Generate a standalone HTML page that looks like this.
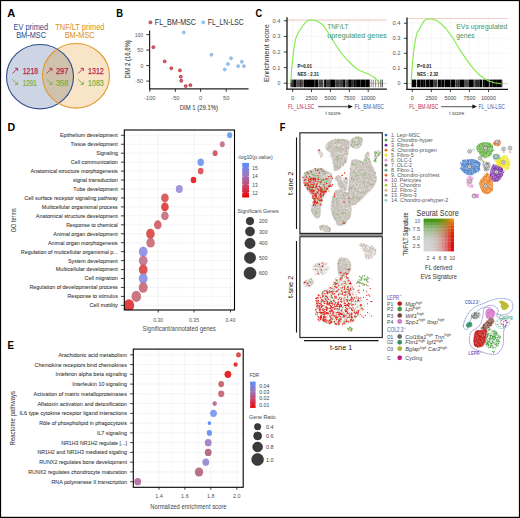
<!DOCTYPE html>
<html><head><meta charset="utf-8"><style>
html,body{margin:0;padding:0;background:#fff;}
body{width:520px;height:518px;overflow:hidden;}
svg{display:block;font-family:"Liberation Sans", sans-serif;}
</style></head><body>
<svg width="520" height="518" viewBox="0 0 520 518">
<rect x="0" y="0" width="520" height="518" fill="#fff"/>
<text x="7.20" y="17.00" font-size="10.6" fill="#000" textLength="8.00" lengthAdjust="spacingAndGlyphs" font-weight="bold">A</text>
<text x="116.20" y="16.60" font-size="10.6" fill="#000" textLength="6.80" lengthAdjust="spacingAndGlyphs" font-weight="bold">B</text>
<text x="255.40" y="16.80" font-size="10.6" fill="#000" textLength="6.60" lengthAdjust="spacingAndGlyphs" font-weight="bold">C</text>
<text x="7.50" y="131.20" font-size="10.6" fill="#000" textLength="7.70" lengthAdjust="spacingAndGlyphs" font-weight="bold">D</text>
<text x="7.40" y="348.80" font-size="10.6" fill="#000" textLength="6.50" lengthAdjust="spacingAndGlyphs" font-weight="bold">E</text>
<text x="279.80" y="131.20" font-size="10.6" fill="#000" textLength="5.70" lengthAdjust="spacingAndGlyphs" font-weight="bold">F</text>
<text x="13.60" y="29.60" font-size="8.2" fill="#34528f" textLength="34.40" lengthAdjust="spacingAndGlyphs" stroke="#34528f" stroke-width="0.05">EV primed</text>
<text x="16.20" y="38.40" font-size="8.2" fill="#34528f" textLength="29.80" lengthAdjust="spacingAndGlyphs" stroke="#34528f" stroke-width="0.05">BM-MSC</text>
<text x="55.30" y="29.60" font-size="8.2" fill="#de9226" textLength="49.20" lengthAdjust="spacingAndGlyphs" stroke="#de9226" stroke-width="0.05">TNF/LT primed</text>
<text x="64.70" y="38.40" font-size="8.2" fill="#de9226" textLength="30.00" lengthAdjust="spacingAndGlyphs" stroke="#de9226" stroke-width="0.05">BM-MSC</text>
<ellipse cx="40.0" cy="76.65" rx="33.5" ry="32.2" fill="#cdd5e4"/>
<ellipse cx="76.0" cy="75.85" rx="33.5" ry="32.3" fill="#f8e5c7"/>
<clipPath id="cl"><ellipse cx="40.0" cy="76.65" rx="33.5" ry="32.2"/></clipPath>
<ellipse cx="76.0" cy="75.85" rx="33.5" ry="32.3" fill="#cfc1ab" clip-path="url(#cl)"/>
<ellipse cx="40.0" cy="76.65" rx="33.5" ry="32.2" fill="none" stroke="#2f4c8c" stroke-width="1.1"/>
<ellipse cx="76.0" cy="75.85" rx="33.5" ry="32.3" fill="none" stroke="#e0982c" stroke-width="1.1"/>
<path d="M12.30,73.60 L17.60,68.30 M14.90,68.30 L17.60,68.30 L17.60,71.00" fill="none" stroke="#b8294f" stroke-width="0.9"/>
<path d="M12.30,79.30 L17.60,84.40 M14.90,84.40 L17.60,84.40 L17.60,81.80" fill="none" stroke="#74b24a" stroke-width="0.9"/>
<text x="22.70" y="74.10" font-size="8.2" fill="#b8294f" textLength="15.40" lengthAdjust="spacingAndGlyphs" stroke="#b8294f" stroke-width="0.25">1218</text>
<text x="22.70" y="85.50" font-size="8.2" fill="#74b24a" textLength="14.20" lengthAdjust="spacingAndGlyphs" stroke="#74b24a" stroke-width="0.2">1291</text>
<path d="M46.60,73.60 L51.90,68.30 M49.20,68.30 L51.90,68.30 L51.90,71.00" fill="none" stroke="#b8294f" stroke-width="0.9"/>
<path d="M46.60,79.30 L51.90,84.40 M49.20,84.40 L51.90,84.40 L51.90,81.80" fill="none" stroke="#74b24a" stroke-width="0.9"/>
<text x="55.90" y="74.10" font-size="8.2" fill="#b8294f" textLength="12.60" lengthAdjust="spacingAndGlyphs" stroke="#b8294f" stroke-width="0.25">297</text>
<text x="55.90" y="85.50" font-size="8.2" fill="#74b24a" textLength="12.60" lengthAdjust="spacingAndGlyphs" stroke="#74b24a" stroke-width="0.2">358</text>
<path d="M78.00,73.60 L83.30,68.30 M80.60,68.30 L83.30,68.30 L83.30,71.00" fill="none" stroke="#b8294f" stroke-width="0.9"/>
<path d="M78.00,79.30 L83.30,84.40 M80.60,84.40 L83.30,84.40 L83.30,81.80" fill="none" stroke="#74b24a" stroke-width="0.9"/>
<text x="88.00" y="74.10" font-size="8.2" fill="#b8294f" textLength="15.80" lengthAdjust="spacingAndGlyphs" stroke="#b8294f" stroke-width="0.25">1312</text>
<text x="88.00" y="85.50" font-size="8.2" fill="#74b24a" textLength="15.80" lengthAdjust="spacingAndGlyphs" stroke="#74b24a" stroke-width="0.2">1083</text>
<circle cx="150.40" cy="22.40" r="1.45" fill="#d46a74" stroke="#b8303f" stroke-width="0.9"/>
<text x="154.80" y="25.00" font-size="8.2" fill="#333" textLength="41.20" lengthAdjust="spacingAndGlyphs">FL_BM-MSC</text>
<circle cx="203.20" cy="22.40" r="1.45" fill="#a8ccee" stroke="#7fb2e2" stroke-width="0.9"/>
<text x="207.80" y="25.00" font-size="8.2" fill="#333" textLength="35.80" lengthAdjust="spacingAndGlyphs">FL_LN-LSC</text>
<line x1="149.60" y1="30.50" x2="149.60" y2="89.40" stroke="#222" stroke-width="1.2"/>
<line x1="149.00" y1="88.90" x2="248.50" y2="88.90" stroke="#222" stroke-width="1.2"/>
<line x1="146.30" y1="34.60" x2="149.60" y2="34.60" stroke="#222" stroke-width="0.9"/>
<text x="143.20" y="36.60" font-size="5.8" fill="#555" textLength="8.50" lengthAdjust="spacingAndGlyphs" text-anchor="end">100</text>
<line x1="146.30" y1="50.10" x2="149.60" y2="50.10" stroke="#222" stroke-width="0.9"/>
<text x="143.20" y="52.10" font-size="5.8" fill="#555" textLength="6.00" lengthAdjust="spacingAndGlyphs" text-anchor="end">50</text>
<line x1="146.30" y1="65.60" x2="149.60" y2="65.60" stroke="#222" stroke-width="0.9"/>
<text x="143.20" y="67.60" font-size="5.8" fill="#555" textLength="2.80" lengthAdjust="spacingAndGlyphs" text-anchor="end">0</text>
<line x1="146.30" y1="81.10" x2="149.60" y2="81.10" stroke="#222" stroke-width="0.9"/>
<text x="143.20" y="83.10" font-size="5.8" fill="#555" textLength="8.00" lengthAdjust="spacingAndGlyphs" text-anchor="end">-50</text>
<line x1="149.80" y1="88.90" x2="149.80" y2="91.80" stroke="#222" stroke-width="0.9"/>
<text x="149.80" y="99.80" font-size="5.6" fill="#555" text-anchor="middle">-100</text>
<line x1="175.40" y1="88.90" x2="175.40" y2="91.80" stroke="#222" stroke-width="0.9"/>
<text x="175.40" y="99.80" font-size="5.6" fill="#555" text-anchor="middle">-50</text>
<line x1="200.60" y1="88.90" x2="200.60" y2="91.80" stroke="#222" stroke-width="0.9"/>
<text x="200.60" y="99.80" font-size="5.6" fill="#555" text-anchor="middle">0</text>
<line x1="226.20" y1="88.90" x2="226.20" y2="91.80" stroke="#222" stroke-width="0.9"/>
<text x="226.20" y="99.80" font-size="5.6" fill="#555" text-anchor="middle">50</text>
<text x="179.80" y="110.40" font-size="7.6" fill="#4a4a4a" textLength="38.20" lengthAdjust="spacingAndGlyphs" stroke="#4a4a4a" stroke-width="0.12">DIM 1 (29.1%)</text>
<text transform="translate(130.11,59.40) rotate(-90)" x="0" y="0" font-size="7.8" fill="#3a3a3a" text-anchor="middle" textLength="38.40" lengthAdjust="spacingAndGlyphs" stroke="#3a3a3a" stroke-width="0.12">DIM 2 (16,6%)</text>
<circle cx="153.40" cy="47.20" r="1.45" fill="#d46a74" stroke="#b8303f" stroke-width="0.9"/>
<circle cx="164.70" cy="61.40" r="1.45" fill="#d46a74" stroke="#b8303f" stroke-width="0.9"/>
<circle cx="171.30" cy="68.30" r="1.45" fill="#d46a74" stroke="#b8303f" stroke-width="0.9"/>
<circle cx="179.90" cy="70.40" r="1.45" fill="#d46a74" stroke="#b8303f" stroke-width="0.9"/>
<circle cx="180.80" cy="76.70" r="1.45" fill="#d46a74" stroke="#b8303f" stroke-width="0.9"/>
<circle cx="181.30" cy="80.80" r="1.45" fill="#d46a74" stroke="#b8303f" stroke-width="0.9"/>
<circle cx="185.70" cy="86.10" r="1.45" fill="#d46a74" stroke="#b8303f" stroke-width="0.9"/>
<circle cx="190.40" cy="85.20" r="1.45" fill="#d46a74" stroke="#b8303f" stroke-width="0.9"/>
<circle cx="183.80" cy="32.40" r="1.45" fill="#a8ccee" stroke="#7fb2e2" stroke-width="0.9"/>
<circle cx="211.40" cy="54.80" r="1.45" fill="#a8ccee" stroke="#7fb2e2" stroke-width="0.9"/>
<circle cx="231.00" cy="58.30" r="1.45" fill="#a8ccee" stroke="#7fb2e2" stroke-width="0.9"/>
<circle cx="227.90" cy="64.00" r="1.45" fill="#a8ccee" stroke="#7fb2e2" stroke-width="0.9"/>
<circle cx="224.80" cy="69.50" r="1.45" fill="#a8ccee" stroke="#7fb2e2" stroke-width="0.9"/>
<circle cx="241.80" cy="61.70" r="1.45" fill="#a8ccee" stroke="#7fb2e2" stroke-width="0.9"/>
<circle cx="238.10" cy="66.20" r="1.45" fill="#a8ccee" stroke="#7fb2e2" stroke-width="0.9"/>
<circle cx="243.90" cy="66.20" r="1.45" fill="#a8ccee" stroke="#7fb2e2" stroke-width="0.9"/>
<line x1="287.00" y1="83.20" x2="386.90" y2="83.20" stroke="#ececec" stroke-width="0.5"/>
<line x1="287.00" y1="67.60" x2="386.90" y2="67.60" stroke="#ececec" stroke-width="0.5"/>
<line x1="287.00" y1="52.00" x2="386.90" y2="52.00" stroke="#ececec" stroke-width="0.5"/>
<line x1="287.00" y1="36.40" x2="386.90" y2="36.40" stroke="#ececec" stroke-width="0.5"/>
<line x1="287.00" y1="20.80" x2="386.90" y2="20.80" stroke="#ececec" stroke-width="0.5"/>
<line x1="292.60" y1="17.30" x2="292.60" y2="89.20" stroke="#ececec" stroke-width="0.5"/>
<line x1="302.05" y1="17.30" x2="302.05" y2="89.20" stroke="#f5f5f5" stroke-width="0.4"/>
<line x1="311.50" y1="17.30" x2="311.50" y2="89.20" stroke="#ececec" stroke-width="0.5"/>
<line x1="320.95" y1="17.30" x2="320.95" y2="89.20" stroke="#f5f5f5" stroke-width="0.4"/>
<line x1="330.40" y1="17.30" x2="330.40" y2="89.20" stroke="#ececec" stroke-width="0.5"/>
<line x1="339.85" y1="17.30" x2="339.85" y2="89.20" stroke="#f5f5f5" stroke-width="0.4"/>
<line x1="349.30" y1="17.30" x2="349.30" y2="89.20" stroke="#ececec" stroke-width="0.5"/>
<line x1="358.75" y1="17.30" x2="358.75" y2="89.20" stroke="#f5f5f5" stroke-width="0.4"/>
<line x1="368.20" y1="17.30" x2="368.20" y2="89.20" stroke="#ececec" stroke-width="0.5"/>
<line x1="377.65" y1="17.30" x2="377.65" y2="89.20" stroke="#f5f5f5" stroke-width="0.4"/>
<line x1="287.00" y1="20.00" x2="386.90" y2="20.00" stroke="#f0b4b4" stroke-width="0.7"/>
<line x1="287.00" y1="83.50" x2="386.90" y2="83.50" stroke="#d8a0a0" stroke-width="0.5"/>
<rect x="290.40" y="79.6" width="2.81" height="7.6" fill="#000" fill-opacity="0.76"/>
<rect x="293.21" y="79.6" width="3.03" height="7.6" fill="#000" fill-opacity="1.00"/>
<rect x="296.24" y="79.6" width="3.05" height="7.6" fill="#000" fill-opacity="0.67"/>
<rect x="299.29" y="79.6" width="2.21" height="7.6" fill="#000" fill-opacity="0.81"/>
<rect x="301.50" y="79.6" width="1.17" height="7.6" fill="#000" fill-opacity="1.00"/>
<rect x="303.46" y="79.6" width="3.46" height="7.6" fill="#000" fill-opacity="1.00"/>
<rect x="306.92" y="79.6" width="3.11" height="7.6" fill="#000" fill-opacity="1.00"/>
<rect x="310.03" y="79.6" width="1.97" height="7.6" fill="#000" fill-opacity="1.00"/>
<rect x="312.00" y="79.6" width="2.76" height="7.6" fill="#000" fill-opacity="1.00"/>
<rect x="315.09" y="79.6" width="3.00" height="7.6" fill="#000" fill-opacity="1.00"/>
<rect x="318.41" y="79.6" width="4.99" height="7.6" fill="#000" fill-opacity="0.72"/>
<rect x="324.15" y="79.6" width="1.92" height="7.6" fill="#000" fill-opacity="1.00"/>
<rect x="326.07" y="79.6" width="4.07" height="7.6" fill="#000" fill-opacity="0.74"/>
<rect x="330.13" y="79.6" width="4.83" height="7.6" fill="#000" fill-opacity="1.00"/>
<rect x="335.17" y="79.6" width="4.64" height="7.6" fill="#000" fill-opacity="0.74"/>
<rect x="339.81" y="79.6" width="1.29" height="7.6" fill="#000" fill-opacity="0.71"/>
<rect x="341.10" y="79.6" width="1.35" height="7.6" fill="#000" fill-opacity="0.82"/>
<rect x="342.45" y="79.6" width="1.47" height="7.6" fill="#000" fill-opacity="1.00"/>
<rect x="343.92" y="79.6" width="1.24" height="7.6" fill="#000" fill-opacity="1.00"/>
<rect x="345.40" y="79.6" width="2.79" height="7.6" fill="#000" fill-opacity="0.68"/>
<rect x="348.19" y="79.6" width="3.57" height="7.6" fill="#000" fill-opacity="1.00"/>
<rect x="351.77" y="79.6" width="1.85" height="7.6" fill="#000" fill-opacity="0.83"/>
<rect x="353.62" y="79.6" width="2.22" height="7.6" fill="#000" fill-opacity="1.00"/>
<rect x="356.09" y="79.6" width="4.42" height="7.6" fill="#000" fill-opacity="1.00"/>
<rect x="360.51" y="79.6" width="4.96" height="7.6" fill="#000" fill-opacity="1.00"/>
<rect x="365.46" y="79.6" width="4.09" height="7.6" fill="#000" fill-opacity="1.00"/>
<rect x="369.56" y="79.6" width="0.44" height="7.6" fill="#000" fill-opacity="0.83"/>
<rect x="370.81" y="79.6" width="0.52" height="7.6" fill="#000" fill-opacity="0.75"/>
<rect x="372.81" y="79.6" width="0.63" height="7.6" fill="#000" fill-opacity="0.79"/>
<rect x="375.39" y="79.6" width="0.69" height="7.6" fill="#000" fill-opacity="0.67"/>
<rect x="377.90" y="79.6" width="0.48" height="7.6" fill="#000" fill-opacity="0.93"/>
<rect x="380.26" y="79.6" width="0.52" height="7.6" fill="#000" fill-opacity="0.90"/>
<rect x="381.73" y="79.6" width="0.87" height="7.6" fill="#000" fill-opacity="0.98"/>
<path d="M290.8,83.0 L291.5,70.0 L292.3,63.1 L293.7,49.6 L295.6,39.0 L298.5,32.3 L302.3,26.5 L306.2,21.7 L309.0,20.0 L313.8,20.0 L318.7,21.7 L323.5,25.6 L329.2,34.2 L335.0,43.8 L340.8,52.5 L346.5,59.2 L352.3,65.0 L358.1,69.8 L363.8,72.3 L369.6,74.6 L374.4,77.5 L378.3,81.3 L380.2,83.3" fill="none" stroke="#80ec44" stroke-width="1.1" stroke-linejoin="round"/>
<line x1="287.00" y1="17.30" x2="287.00" y2="89.70" stroke="#111" stroke-width="1.25"/>
<line x1="286.40" y1="89.20" x2="386.90" y2="89.20" stroke="#111" stroke-width="1.25"/>
<line x1="283.80" y1="83.20" x2="287.00" y2="83.20" stroke="#111" stroke-width="0.8"/>
<text x="280.40" y="85.20" font-size="5.8" fill="#555" textLength="2.90" lengthAdjust="spacingAndGlyphs" text-anchor="end">0</text>
<line x1="283.80" y1="67.60" x2="287.00" y2="67.60" stroke="#111" stroke-width="0.8"/>
<text x="280.40" y="69.60" font-size="5.8" fill="#555" textLength="8.00" lengthAdjust="spacingAndGlyphs" text-anchor="end">0.1</text>
<line x1="283.80" y1="52.00" x2="287.00" y2="52.00" stroke="#111" stroke-width="0.8"/>
<text x="280.40" y="54.00" font-size="5.8" fill="#555" textLength="8.00" lengthAdjust="spacingAndGlyphs" text-anchor="end">0.2</text>
<line x1="283.80" y1="36.40" x2="287.00" y2="36.40" stroke="#111" stroke-width="0.8"/>
<text x="280.40" y="38.40" font-size="5.8" fill="#555" textLength="8.00" lengthAdjust="spacingAndGlyphs" text-anchor="end">0.3</text>
<line x1="283.80" y1="20.80" x2="287.00" y2="20.80" stroke="#111" stroke-width="0.8"/>
<text x="280.40" y="22.80" font-size="5.8" fill="#555" textLength="8.00" lengthAdjust="spacingAndGlyphs" text-anchor="end">0.4</text>
<line x1="292.60" y1="89.20" x2="292.60" y2="92.00" stroke="#111" stroke-width="0.8"/>
<text x="292.60" y="100.20" font-size="5.6" fill="#444" textLength="2.95" lengthAdjust="spacingAndGlyphs" text-anchor="middle">0</text>
<line x1="311.50" y1="89.20" x2="311.50" y2="92.00" stroke="#111" stroke-width="0.8"/>
<text x="311.50" y="100.20" font-size="5.6" fill="#444" textLength="11.80" lengthAdjust="spacingAndGlyphs" text-anchor="middle">2500</text>
<line x1="330.40" y1="89.20" x2="330.40" y2="92.00" stroke="#111" stroke-width="0.8"/>
<text x="330.40" y="100.20" font-size="5.6" fill="#444" textLength="11.80" lengthAdjust="spacingAndGlyphs" text-anchor="middle">5000</text>
<line x1="349.30" y1="89.20" x2="349.30" y2="92.00" stroke="#111" stroke-width="0.8"/>
<text x="349.30" y="100.20" font-size="5.6" fill="#444" textLength="11.80" lengthAdjust="spacingAndGlyphs" text-anchor="middle">7500</text>
<line x1="368.20" y1="89.20" x2="368.20" y2="92.00" stroke="#111" stroke-width="0.8"/>
<text x="368.20" y="100.20" font-size="5.6" fill="#444" textLength="14.75" lengthAdjust="spacingAndGlyphs" text-anchor="middle">10000</text>
<text x="327.30" y="28.80" font-size="7.7" fill="#459c78" textLength="21.20" lengthAdjust="spacingAndGlyphs" stroke="#459c78" stroke-width="0.06">TNF/LT</text>
<text x="327.30" y="38.40" font-size="7.7" fill="#459c78" textLength="59.50" lengthAdjust="spacingAndGlyphs" stroke="#459c78" stroke-width="0.06">upregulated genes</text>
<text x="297.60" y="67.90" font-size="5.2" fill="#1a1a1a" textLength="14.40" lengthAdjust="spacingAndGlyphs" font-weight="bold">P=0.01</text>
<text x="297.60" y="76.30" font-size="5.2" fill="#1a1a1a" textLength="21.20" lengthAdjust="spacingAndGlyphs" font-weight="bold">NES : 2.31</text>
<text x="288.00" y="108.80" font-size="6.3" fill="#c0304a" textLength="26.50" lengthAdjust="spacingAndGlyphs">FL_LN-LSC</text>
<text x="354.60" y="108.80" font-size="6.3" fill="#3c5ea8" textLength="29.40" lengthAdjust="spacingAndGlyphs">FL_BM-MSC</text>
<line x1="318.00" y1="106.60" x2="349.80" y2="106.60" stroke="#777" stroke-width="1.4"/>
<path d="M352.80,106.6 L348.30,104.4 L348.30,108.8 Z" fill="#111"/>
<text x="325.50" y="114.60" font-size="6.2" fill="#444" textLength="15.00" lengthAdjust="spacingAndGlyphs">t score</text>
<text transform="translate(268.81,53.00) rotate(-90)" x="0" y="0" font-size="7.8" fill="#333" text-anchor="middle" textLength="58.00" lengthAdjust="spacingAndGlyphs">Enrichment score</text>
<line x1="407.00" y1="83.40" x2="508.00" y2="83.40" stroke="#ececec" stroke-width="0.5"/>
<line x1="407.00" y1="68.35" x2="508.00" y2="68.35" stroke="#ececec" stroke-width="0.5"/>
<line x1="407.00" y1="53.30" x2="508.00" y2="53.30" stroke="#ececec" stroke-width="0.5"/>
<line x1="407.00" y1="38.25" x2="508.00" y2="38.25" stroke="#ececec" stroke-width="0.5"/>
<line x1="407.00" y1="23.20" x2="508.00" y2="23.20" stroke="#ececec" stroke-width="0.5"/>
<line x1="412.30" y1="17.40" x2="412.30" y2="89.30" stroke="#ececec" stroke-width="0.5"/>
<line x1="421.82" y1="17.40" x2="421.82" y2="89.30" stroke="#f5f5f5" stroke-width="0.4"/>
<line x1="431.35" y1="17.40" x2="431.35" y2="89.30" stroke="#ececec" stroke-width="0.5"/>
<line x1="440.88" y1="17.40" x2="440.88" y2="89.30" stroke="#f5f5f5" stroke-width="0.4"/>
<line x1="450.40" y1="17.40" x2="450.40" y2="89.30" stroke="#ececec" stroke-width="0.5"/>
<line x1="459.93" y1="17.40" x2="459.93" y2="89.30" stroke="#f5f5f5" stroke-width="0.4"/>
<line x1="469.45" y1="17.40" x2="469.45" y2="89.30" stroke="#ececec" stroke-width="0.5"/>
<line x1="478.98" y1="17.40" x2="478.98" y2="89.30" stroke="#f5f5f5" stroke-width="0.4"/>
<line x1="488.50" y1="17.40" x2="488.50" y2="89.30" stroke="#ececec" stroke-width="0.5"/>
<line x1="498.02" y1="17.40" x2="498.02" y2="89.30" stroke="#f5f5f5" stroke-width="0.4"/>
<line x1="407.00" y1="18.50" x2="508.00" y2="18.50" stroke="#f0b4b4" stroke-width="0.7"/>
<line x1="407.00" y1="83.70" x2="508.00" y2="83.70" stroke="#d8a0a0" stroke-width="0.5"/>
<rect x="411.60" y="79.6" width="4.70" height="7.6" fill="#000" fill-opacity="1.00"/>
<rect x="417.07" y="79.6" width="3.37" height="7.6" fill="#000" fill-opacity="1.00"/>
<rect x="420.44" y="79.6" width="1.52" height="7.6" fill="#000" fill-opacity="1.00"/>
<rect x="421.96" y="79.6" width="1.88" height="7.6" fill="#000" fill-opacity="1.00"/>
<rect x="423.84" y="79.6" width="1.34" height="7.6" fill="#000" fill-opacity="1.00"/>
<rect x="425.49" y="79.6" width="3.94" height="7.6" fill="#000" fill-opacity="1.00"/>
<rect x="429.43" y="79.6" width="4.13" height="7.6" fill="#000" fill-opacity="1.00"/>
<rect x="433.56" y="79.6" width="3.48" height="7.6" fill="#000" fill-opacity="0.73"/>
<rect x="437.65" y="79.6" width="3.29" height="7.6" fill="#000" fill-opacity="1.00"/>
<rect x="441.22" y="79.6" width="2.90" height="7.6" fill="#000" fill-opacity="1.00"/>
<rect x="444.46" y="79.6" width="3.57" height="7.6" fill="#000" fill-opacity="1.00"/>
<rect x="448.03" y="79.6" width="2.29" height="7.6" fill="#000" fill-opacity="1.00"/>
<rect x="450.57" y="79.6" width="1.39" height="7.6" fill="#000" fill-opacity="1.00"/>
<rect x="451.97" y="79.6" width="3.29" height="7.6" fill="#000" fill-opacity="1.00"/>
<rect x="455.54" y="79.6" width="2.15" height="7.6" fill="#000" fill-opacity="0.78"/>
<rect x="457.70" y="79.6" width="2.03" height="7.6" fill="#000" fill-opacity="0.81"/>
<rect x="459.73" y="79.6" width="4.31" height="7.6" fill="#000" fill-opacity="1.00"/>
<rect x="464.04" y="79.6" width="4.67" height="7.6" fill="#000" fill-opacity="0.69"/>
<rect x="468.72" y="79.6" width="4.90" height="7.6" fill="#000" fill-opacity="1.00"/>
<rect x="473.62" y="79.6" width="1.09" height="7.6" fill="#000" fill-opacity="0.84"/>
<rect x="475.08" y="79.6" width="4.80" height="7.6" fill="#000" fill-opacity="0.82"/>
<rect x="479.88" y="79.6" width="2.38" height="7.6" fill="#000" fill-opacity="1.00"/>
<rect x="482.88" y="79.6" width="1.30" height="7.6" fill="#000" fill-opacity="1.00"/>
<rect x="484.18" y="79.6" width="4.73" height="7.6" fill="#000" fill-opacity="1.00"/>
<rect x="489.48" y="79.6" width="3.12" height="7.6" fill="#000" fill-opacity="1.00"/>
<rect x="492.60" y="79.6" width="4.25" height="7.6" fill="#000" fill-opacity="1.00"/>
<rect x="496.85" y="79.6" width="4.60" height="7.6" fill="#000" fill-opacity="1.00"/>
<rect x="501.45" y="79.6" width="0.85" height="7.6" fill="#000" fill-opacity="0.96"/>
<path d="M411.2,83.4 L411.2,80.4 L412.3,65.4 L413.9,49.2 L415.8,37.7 L417.4,31.9 L419.2,29.6 L421.5,25.0 L424.5,20.4 L427.3,18.8 L431.9,19.2 L436.5,20.4 L441.2,23.8 L445.8,28.5 L452.7,37.7 L459.6,49.2 L466.5,59.6 L473.5,68.8 L480.4,75.8 L487.3,80.4 L494.2,82.7 L501.2,83.8" fill="none" stroke="#80ec44" stroke-width="1.1" stroke-linejoin="round"/>
<line x1="407.00" y1="17.40" x2="407.00" y2="89.80" stroke="#111" stroke-width="1.25"/>
<line x1="406.40" y1="89.30" x2="508.00" y2="89.30" stroke="#111" stroke-width="1.25"/>
<line x1="403.80" y1="83.40" x2="407.00" y2="83.40" stroke="#111" stroke-width="0.8"/>
<text x="400.40" y="85.40" font-size="5.8" fill="#555" textLength="2.90" lengthAdjust="spacingAndGlyphs" text-anchor="end">0</text>
<line x1="403.80" y1="68.35" x2="407.00" y2="68.35" stroke="#111" stroke-width="0.8"/>
<text x="400.40" y="70.35" font-size="5.8" fill="#555" textLength="8.00" lengthAdjust="spacingAndGlyphs" text-anchor="end">0.1</text>
<line x1="403.80" y1="53.30" x2="407.00" y2="53.30" stroke="#111" stroke-width="0.8"/>
<text x="400.40" y="55.30" font-size="5.8" fill="#555" textLength="8.00" lengthAdjust="spacingAndGlyphs" text-anchor="end">0.2</text>
<line x1="403.80" y1="38.25" x2="407.00" y2="38.25" stroke="#111" stroke-width="0.8"/>
<text x="400.40" y="40.25" font-size="5.8" fill="#555" textLength="8.00" lengthAdjust="spacingAndGlyphs" text-anchor="end">0.3</text>
<line x1="403.80" y1="23.20" x2="407.00" y2="23.20" stroke="#111" stroke-width="0.8"/>
<text x="400.40" y="25.20" font-size="5.8" fill="#555" textLength="8.00" lengthAdjust="spacingAndGlyphs" text-anchor="end">0.4</text>
<line x1="412.30" y1="89.30" x2="412.30" y2="92.10" stroke="#111" stroke-width="0.8"/>
<text x="412.30" y="100.20" font-size="5.6" fill="#444" textLength="2.95" lengthAdjust="spacingAndGlyphs" text-anchor="middle">0</text>
<line x1="431.35" y1="89.30" x2="431.35" y2="92.10" stroke="#111" stroke-width="0.8"/>
<text x="431.35" y="100.20" font-size="5.6" fill="#444" textLength="11.80" lengthAdjust="spacingAndGlyphs" text-anchor="middle">2500</text>
<line x1="450.40" y1="89.30" x2="450.40" y2="92.10" stroke="#111" stroke-width="0.8"/>
<text x="450.40" y="100.20" font-size="5.6" fill="#444" textLength="11.80" lengthAdjust="spacingAndGlyphs" text-anchor="middle">5000</text>
<line x1="469.45" y1="89.30" x2="469.45" y2="92.10" stroke="#111" stroke-width="0.8"/>
<text x="469.45" y="100.20" font-size="5.6" fill="#444" textLength="11.80" lengthAdjust="spacingAndGlyphs" text-anchor="middle">7500</text>
<line x1="488.50" y1="89.30" x2="488.50" y2="92.10" stroke="#111" stroke-width="0.8"/>
<text x="488.50" y="100.20" font-size="5.6" fill="#444" textLength="14.75" lengthAdjust="spacingAndGlyphs" text-anchor="middle">10000</text>
<text x="456.20" y="28.50" font-size="7.7" fill="#459c78" textLength="51.20" lengthAdjust="spacingAndGlyphs" stroke="#459c78" stroke-width="0.06">EVs upregulated</text>
<text x="456.20" y="37.60" font-size="7.7" fill="#459c78" textLength="18.40" lengthAdjust="spacingAndGlyphs" stroke="#459c78" stroke-width="0.06">genes</text>
<text x="417.00" y="67.90" font-size="5.2" fill="#1a1a1a" textLength="14.40" lengthAdjust="spacingAndGlyphs" font-weight="bold">P=0.01</text>
<text x="417.00" y="76.30" font-size="5.2" fill="#1a1a1a" textLength="21.20" lengthAdjust="spacingAndGlyphs" font-weight="bold">NES : 2.32</text>
<text x="409.30" y="108.80" font-size="6.3" fill="#c0304a" textLength="29.10" lengthAdjust="spacingAndGlyphs">FL_BM-MSC</text>
<text x="478.50" y="108.80" font-size="6.3" fill="#3c5ea8" textLength="26.50" lengthAdjust="spacingAndGlyphs">FL_LN-LSC</text>
<line x1="441.20" y1="106.60" x2="473.90" y2="106.60" stroke="#777" stroke-width="1.4"/>
<path d="M476.90,106.6 L472.40,104.4 L472.40,108.8 Z" fill="#111"/>
<text x="449.20" y="114.60" font-size="6.2" fill="#444" textLength="15.00" lengthAdjust="spacingAndGlyphs">t score</text>
<line x1="124.30" y1="135.30" x2="234.50" y2="135.30" stroke="#ededed" stroke-width="0.6"/>
<line x1="124.30" y1="144.25" x2="234.50" y2="144.25" stroke="#ededed" stroke-width="0.6"/>
<line x1="124.30" y1="153.20" x2="234.50" y2="153.20" stroke="#ededed" stroke-width="0.6"/>
<line x1="124.30" y1="162.15" x2="234.50" y2="162.15" stroke="#ededed" stroke-width="0.6"/>
<line x1="124.30" y1="171.10" x2="234.50" y2="171.10" stroke="#ededed" stroke-width="0.6"/>
<line x1="124.30" y1="180.05" x2="234.50" y2="180.05" stroke="#ededed" stroke-width="0.6"/>
<line x1="124.30" y1="189.00" x2="234.50" y2="189.00" stroke="#ededed" stroke-width="0.6"/>
<line x1="124.30" y1="197.95" x2="234.50" y2="197.95" stroke="#ededed" stroke-width="0.6"/>
<line x1="124.30" y1="206.90" x2="234.50" y2="206.90" stroke="#ededed" stroke-width="0.6"/>
<line x1="124.30" y1="215.85" x2="234.50" y2="215.85" stroke="#ededed" stroke-width="0.6"/>
<line x1="124.30" y1="224.80" x2="234.50" y2="224.80" stroke="#ededed" stroke-width="0.6"/>
<line x1="124.30" y1="233.75" x2="234.50" y2="233.75" stroke="#ededed" stroke-width="0.6"/>
<line x1="124.30" y1="242.70" x2="234.50" y2="242.70" stroke="#ededed" stroke-width="0.6"/>
<line x1="124.30" y1="251.65" x2="234.50" y2="251.65" stroke="#ededed" stroke-width="0.6"/>
<line x1="124.30" y1="260.60" x2="234.50" y2="260.60" stroke="#ededed" stroke-width="0.6"/>
<line x1="124.30" y1="269.55" x2="234.50" y2="269.55" stroke="#ededed" stroke-width="0.6"/>
<line x1="124.30" y1="278.50" x2="234.50" y2="278.50" stroke="#ededed" stroke-width="0.6"/>
<line x1="124.30" y1="287.45" x2="234.50" y2="287.45" stroke="#ededed" stroke-width="0.6"/>
<line x1="124.30" y1="296.40" x2="234.50" y2="296.40" stroke="#ededed" stroke-width="0.6"/>
<line x1="124.30" y1="305.35" x2="234.50" y2="305.35" stroke="#ededed" stroke-width="0.6"/>
<line x1="140.10" y1="130.00" x2="140.10" y2="310.00" stroke="#f4f4f4" stroke-width="0.5"/>
<line x1="176.00" y1="130.00" x2="176.00" y2="310.00" stroke="#f4f4f4" stroke-width="0.5"/>
<line x1="212.20" y1="130.00" x2="212.20" y2="310.00" stroke="#f4f4f4" stroke-width="0.5"/>
<line x1="158.20" y1="130.00" x2="158.20" y2="310.00" stroke="#ebebeb" stroke-width="0.6"/>
<line x1="194.00" y1="130.00" x2="194.00" y2="310.00" stroke="#ebebeb" stroke-width="0.6"/>
<line x1="230.50" y1="130.00" x2="230.50" y2="310.00" stroke="#ebebeb" stroke-width="0.6"/>
<clipPath id="dclip"><rect x="124.3" y="130.0" width="110.2" height="180.0"/></clipPath>
<g clip-path="url(#dclip)">
<ellipse cx="229.60" cy="135.30" rx="2.55" ry="2.98" fill="#5f9bf3" fill-opacity="0.92"/>
<ellipse cx="222.30" cy="144.25" rx="2.50" ry="2.92" fill="#c2708a" fill-opacity="0.92"/>
<ellipse cx="215.10" cy="153.20" rx="2.50" ry="2.92" fill="#d4505c" fill-opacity="0.92"/>
<ellipse cx="200.70" cy="162.15" rx="3.20" ry="3.74" fill="#7094f0" fill-opacity="0.92"/>
<ellipse cx="200.70" cy="171.10" rx="2.80" ry="3.28" fill="#d84c58" fill-opacity="0.92"/>
<ellipse cx="193.50" cy="180.05" rx="2.80" ry="3.28" fill="#e11b1f" fill-opacity="0.92"/>
<ellipse cx="179.30" cy="189.00" rx="3.50" ry="4.09" fill="#9a90da" fill-opacity="0.92"/>
<ellipse cx="164.90" cy="197.95" rx="3.80" ry="4.45" fill="#d65252" fill-opacity="0.92"/>
<ellipse cx="164.90" cy="206.90" rx="3.80" ry="4.45" fill="#dc3a3a" fill-opacity="0.92"/>
<ellipse cx="164.90" cy="215.85" rx="3.80" ry="4.45" fill="#c8707e" fill-opacity="0.92"/>
<ellipse cx="157.80" cy="224.80" rx="3.80" ry="4.45" fill="#d05c68" fill-opacity="0.92"/>
<ellipse cx="150.40" cy="233.75" rx="4.30" ry="5.03" fill="#d84646" fill-opacity="0.92"/>
<ellipse cx="150.60" cy="242.70" rx="4.20" ry="4.91" fill="#c86a7a" fill-opacity="0.92"/>
<ellipse cx="143.20" cy="251.65" rx="4.40" ry="5.15" fill="#8a90e2" fill-opacity="0.92"/>
<ellipse cx="143.20" cy="260.60" rx="4.40" ry="5.15" fill="#c07290" fill-opacity="0.92"/>
<ellipse cx="143.20" cy="269.55" rx="4.40" ry="5.15" fill="#da4646" fill-opacity="0.92"/>
<ellipse cx="143.20" cy="278.50" rx="4.40" ry="5.15" fill="#8a90e2" fill-opacity="0.92"/>
<ellipse cx="143.20" cy="287.45" rx="4.50" ry="5.26" fill="#c86a7a" fill-opacity="0.92"/>
<ellipse cx="136.30" cy="296.40" rx="4.80" ry="5.62" fill="#c86a7a" fill-opacity="0.92"/>
<ellipse cx="128.90" cy="305.35" rx="5.30" ry="6.20" fill="#e03030" fill-opacity="0.92"/>
</g>
<rect x="124.30" y="130.00" width="110.20" height="180.00" fill="none" stroke="#000" stroke-width="1.1"/>
<line x1="120.90" y1="135.30" x2="124.30" y2="135.30" stroke="#111" stroke-width="0.8"/>
<text x="60.00" y="137.20" font-size="5.5" fill="#333" textLength="57.80" lengthAdjust="spacingAndGlyphs" stroke="#333" stroke-width="0.06">Epithelium development</text>
<line x1="120.90" y1="144.25" x2="124.30" y2="144.25" stroke="#111" stroke-width="0.8"/>
<text x="70.50" y="146.15" font-size="5.5" fill="#333" textLength="47.30" lengthAdjust="spacingAndGlyphs" stroke="#333" stroke-width="0.06">Tissue development</text>
<line x1="120.90" y1="153.20" x2="124.30" y2="153.20" stroke="#111" stroke-width="0.8"/>
<text x="96.30" y="155.10" font-size="5.5" fill="#333" textLength="21.50" lengthAdjust="spacingAndGlyphs" stroke="#333" stroke-width="0.06">Signaling</text>
<line x1="120.90" y1="162.15" x2="124.30" y2="162.15" stroke="#111" stroke-width="0.8"/>
<text x="70.80" y="164.05" font-size="5.5" fill="#333" textLength="47.00" lengthAdjust="spacingAndGlyphs" stroke="#333" stroke-width="0.06">Cell communication</text>
<line x1="120.90" y1="171.10" x2="124.30" y2="171.10" stroke="#111" stroke-width="0.8"/>
<text x="30.50" y="173.00" font-size="5.5" fill="#333" textLength="87.30" lengthAdjust="spacingAndGlyphs" stroke="#333" stroke-width="0.06">Anatomical structure morphogenesis</text>
<line x1="120.90" y1="180.05" x2="124.30" y2="180.05" stroke="#111" stroke-width="0.8"/>
<text x="73.00" y="181.95" font-size="5.5" fill="#333" textLength="44.80" lengthAdjust="spacingAndGlyphs" stroke="#333" stroke-width="0.06">signal transduction</text>
<line x1="120.90" y1="189.00" x2="124.30" y2="189.00" stroke="#111" stroke-width="0.8"/>
<text x="73.30" y="190.90" font-size="5.5" fill="#333" textLength="44.50" lengthAdjust="spacingAndGlyphs" stroke="#333" stroke-width="0.06">Tube development</text>
<line x1="120.90" y1="197.95" x2="124.30" y2="197.95" stroke="#111" stroke-width="0.8"/>
<text x="24.30" y="199.85" font-size="5.5" fill="#333" textLength="93.50" lengthAdjust="spacingAndGlyphs" stroke="#333" stroke-width="0.06">Cell surface receptor signaling pathway</text>
<line x1="120.90" y1="206.90" x2="124.30" y2="206.90" stroke="#111" stroke-width="0.8"/>
<text x="41.80" y="208.80" font-size="5.5" fill="#333" textLength="76.00" lengthAdjust="spacingAndGlyphs" stroke="#333" stroke-width="0.06">Multicellular organismal process</text>
<line x1="120.90" y1="215.85" x2="124.30" y2="215.85" stroke="#111" stroke-width="0.8"/>
<text x="35.80" y="217.75" font-size="5.5" fill="#333" textLength="82.00" lengthAdjust="spacingAndGlyphs" stroke="#333" stroke-width="0.06">Anatomical structure development</text>
<line x1="120.90" y1="224.80" x2="124.30" y2="224.80" stroke="#111" stroke-width="0.8"/>
<text x="66.30" y="226.70" font-size="5.5" fill="#333" textLength="51.50" lengthAdjust="spacingAndGlyphs" stroke="#333" stroke-width="0.06">Response to chemical</text>
<line x1="120.90" y1="233.75" x2="124.30" y2="233.75" stroke="#111" stroke-width="0.8"/>
<text x="53.30" y="235.65" font-size="5.5" fill="#333" textLength="64.50" lengthAdjust="spacingAndGlyphs" stroke="#333" stroke-width="0.06">Animal organ development</text>
<line x1="120.90" y1="242.70" x2="124.30" y2="242.70" stroke="#111" stroke-width="0.8"/>
<text x="48.00" y="244.60" font-size="5.5" fill="#333" textLength="69.80" lengthAdjust="spacingAndGlyphs" stroke="#333" stroke-width="0.06">Animal organ morphogenesis</text>
<line x1="120.90" y1="251.65" x2="124.30" y2="251.65" stroke="#111" stroke-width="0.8"/>
<text x="20.80" y="253.55" font-size="5.5" fill="#333" textLength="97.00" lengthAdjust="spacingAndGlyphs" stroke="#333" stroke-width="0.06">Regulation of muticellular organismal p...</text>
<line x1="120.90" y1="260.60" x2="124.30" y2="260.60" stroke="#111" stroke-width="0.8"/>
<text x="68.00" y="262.50" font-size="5.5" fill="#333" textLength="49.80" lengthAdjust="spacingAndGlyphs" stroke="#333" stroke-width="0.06">System development</text>
<line x1="120.90" y1="269.55" x2="124.30" y2="269.55" stroke="#111" stroke-width="0.8"/>
<text x="55.80" y="271.45" font-size="5.5" fill="#333" textLength="62.00" lengthAdjust="spacingAndGlyphs" stroke="#333" stroke-width="0.06">Multicellular development</text>
<line x1="120.90" y1="278.50" x2="124.30" y2="278.50" stroke="#111" stroke-width="0.8"/>
<text x="84.50" y="280.40" font-size="5.5" fill="#333" textLength="33.30" lengthAdjust="spacingAndGlyphs" stroke="#333" stroke-width="0.06">Cell migration</text>
<line x1="120.90" y1="287.45" x2="124.30" y2="287.45" stroke="#111" stroke-width="0.8"/>
<text x="29.50" y="289.35" font-size="5.5" fill="#333" textLength="88.30" lengthAdjust="spacingAndGlyphs" stroke="#333" stroke-width="0.06">Regulation of developmental process</text>
<line x1="120.90" y1="296.40" x2="124.30" y2="296.40" stroke="#111" stroke-width="0.8"/>
<text x="67.50" y="298.30" font-size="5.5" fill="#333" textLength="50.30" lengthAdjust="spacingAndGlyphs" stroke="#333" stroke-width="0.06">Response to stimulus</text>
<line x1="120.90" y1="305.35" x2="124.30" y2="305.35" stroke="#111" stroke-width="0.8"/>
<text x="89.50" y="307.25" font-size="5.5" fill="#333" textLength="28.30" lengthAdjust="spacingAndGlyphs" stroke="#333" stroke-width="0.06">Cell motility</text>
<line x1="158.20" y1="310.00" x2="158.20" y2="312.50" stroke="#111" stroke-width="0.8"/>
<text x="158.20" y="321.50" font-size="5.4" fill="#555" textLength="10.00" lengthAdjust="spacingAndGlyphs" text-anchor="middle">0.30</text>
<line x1="194.00" y1="310.00" x2="194.00" y2="312.50" stroke="#111" stroke-width="0.8"/>
<text x="194.00" y="321.50" font-size="5.4" fill="#555" textLength="10.00" lengthAdjust="spacingAndGlyphs" text-anchor="middle">0.35</text>
<line x1="230.50" y1="310.00" x2="230.50" y2="312.50" stroke="#111" stroke-width="0.8"/>
<text x="230.50" y="321.50" font-size="5.4" fill="#555" textLength="10.00" lengthAdjust="spacingAndGlyphs" text-anchor="middle">0.40</text>
<text x="142.60" y="331.40" font-size="7.3" fill="#4a4a4a" textLength="73.20" lengthAdjust="spacingAndGlyphs">Significant/annotated genes</text>
<text transform="translate(15.76,220.20) rotate(-90)" x="0" y="0" font-size="7.4" fill="#333" text-anchor="middle" textLength="24.00" lengthAdjust="spacingAndGlyphs">GO terms</text>
<text x="237.60" y="159.10" font-size="5.5" fill="#444" textLength="35.20" lengthAdjust="spacingAndGlyphs">-log10(p.value)</text>
<linearGradient id="dg" x1="0" y1="0" x2="0" y2="1"><stop offset="0" stop-color="#5b8ef8"/><stop offset="0.35" stop-color="#9a78c0"/><stop offset="0.7" stop-color="#cc4060"/><stop offset="1" stop-color="#e60000"/></linearGradient>
<rect x="242.20" y="162.90" width="6.90" height="34.60" fill="url(#dg)"/>
<line x1="242.20" y1="167.80" x2="243.60" y2="167.80" stroke="#fff" stroke-width="0.5"/>
<line x1="247.70" y1="167.80" x2="249.10" y2="167.80" stroke="#fff" stroke-width="0.5"/>
<text x="252.20" y="169.80" font-size="5.6" fill="#444" textLength="5.40" lengthAdjust="spacingAndGlyphs">15</text>
<line x1="242.20" y1="176.40" x2="243.60" y2="176.40" stroke="#fff" stroke-width="0.5"/>
<line x1="247.70" y1="176.40" x2="249.10" y2="176.40" stroke="#fff" stroke-width="0.5"/>
<text x="252.20" y="178.40" font-size="5.6" fill="#444" textLength="5.40" lengthAdjust="spacingAndGlyphs">14</text>
<line x1="242.20" y1="184.60" x2="243.60" y2="184.60" stroke="#fff" stroke-width="0.5"/>
<line x1="247.70" y1="184.60" x2="249.10" y2="184.60" stroke="#fff" stroke-width="0.5"/>
<text x="252.20" y="186.60" font-size="5.6" fill="#444" textLength="5.40" lengthAdjust="spacingAndGlyphs">13</text>
<line x1="242.20" y1="192.70" x2="243.60" y2="192.70" stroke="#fff" stroke-width="0.5"/>
<line x1="247.70" y1="192.70" x2="249.10" y2="192.70" stroke="#fff" stroke-width="0.5"/>
<text x="252.20" y="194.70" font-size="5.6" fill="#444" textLength="5.40" lengthAdjust="spacingAndGlyphs">12</text>
<text x="237.50" y="213.20" font-size="5.5" fill="#444" textLength="41.00" lengthAdjust="spacingAndGlyphs">Significant Genes</text>
<circle cx="250.00" cy="221.10" r="3.80" fill="#3b3b3b" stroke="#222" stroke-width="0.6"/>
<text x="259.00" y="223.10" font-size="5.6" fill="#444" textLength="8.60" lengthAdjust="spacingAndGlyphs">200</text>
<circle cx="250.00" cy="231.50" r="4.50" fill="#3b3b3b" stroke="#222" stroke-width="0.6"/>
<text x="259.00" y="233.50" font-size="5.6" fill="#444" textLength="8.60" lengthAdjust="spacingAndGlyphs">300</text>
<circle cx="250.00" cy="243.40" r="5.10" fill="#3b3b3b" stroke="#222" stroke-width="0.6"/>
<text x="259.00" y="245.40" font-size="5.6" fill="#444" textLength="8.60" lengthAdjust="spacingAndGlyphs">400</text>
<circle cx="250.00" cy="257.80" r="5.60" fill="#3b3b3b" stroke="#222" stroke-width="0.6"/>
<text x="259.00" y="259.80" font-size="5.6" fill="#444" textLength="8.60" lengthAdjust="spacingAndGlyphs">500</text>
<circle cx="250.00" cy="273.20" r="6.00" fill="#3b3b3b" stroke="#222" stroke-width="0.6"/>
<text x="259.00" y="275.20" font-size="5.6" fill="#444" textLength="8.60" lengthAdjust="spacingAndGlyphs">600</text>
<line x1="133.30" y1="354.80" x2="243.20" y2="354.80" stroke="#ededed" stroke-width="0.6"/>
<line x1="133.30" y1="364.56" x2="243.20" y2="364.56" stroke="#ededed" stroke-width="0.6"/>
<line x1="133.30" y1="374.32" x2="243.20" y2="374.32" stroke="#ededed" stroke-width="0.6"/>
<line x1="133.30" y1="384.08" x2="243.20" y2="384.08" stroke="#ededed" stroke-width="0.6"/>
<line x1="133.30" y1="393.84" x2="243.20" y2="393.84" stroke="#ededed" stroke-width="0.6"/>
<line x1="133.30" y1="403.60" x2="243.20" y2="403.60" stroke="#ededed" stroke-width="0.6"/>
<line x1="133.30" y1="413.36" x2="243.20" y2="413.36" stroke="#ededed" stroke-width="0.6"/>
<line x1="133.30" y1="423.12" x2="243.20" y2="423.12" stroke="#ededed" stroke-width="0.6"/>
<line x1="133.30" y1="432.88" x2="243.20" y2="432.88" stroke="#ededed" stroke-width="0.6"/>
<line x1="133.30" y1="442.64" x2="243.20" y2="442.64" stroke="#ededed" stroke-width="0.6"/>
<line x1="133.30" y1="452.40" x2="243.20" y2="452.40" stroke="#ededed" stroke-width="0.6"/>
<line x1="133.30" y1="462.16" x2="243.20" y2="462.16" stroke="#ededed" stroke-width="0.6"/>
<line x1="133.30" y1="471.92" x2="243.20" y2="471.92" stroke="#ededed" stroke-width="0.6"/>
<line x1="133.30" y1="481.68" x2="243.20" y2="481.68" stroke="#ededed" stroke-width="0.6"/>
<line x1="146.00" y1="349.10" x2="146.00" y2="487.30" stroke="#f4f4f4" stroke-width="0.5"/>
<line x1="171.90" y1="349.10" x2="171.90" y2="487.30" stroke="#f4f4f4" stroke-width="0.5"/>
<line x1="197.80" y1="349.10" x2="197.80" y2="487.30" stroke="#f4f4f4" stroke-width="0.5"/>
<line x1="223.80" y1="349.10" x2="223.80" y2="487.30" stroke="#f4f4f4" stroke-width="0.5"/>
<line x1="159.00" y1="349.10" x2="159.00" y2="487.30" stroke="#ebebeb" stroke-width="0.6"/>
<line x1="184.90" y1="349.10" x2="184.90" y2="487.30" stroke="#ebebeb" stroke-width="0.6"/>
<line x1="210.80" y1="349.10" x2="210.80" y2="487.30" stroke="#ebebeb" stroke-width="0.6"/>
<line x1="236.80" y1="349.10" x2="236.80" y2="487.30" stroke="#ebebeb" stroke-width="0.6"/>
<ellipse cx="238.50" cy="354.80" rx="2.40" ry="2.59" fill="#d84a4a" fill-opacity="0.95"/>
<ellipse cx="235.60" cy="364.56" rx="2.10" ry="2.27" fill="#e02a2a" fill-opacity="0.95"/>
<ellipse cx="227.90" cy="374.32" rx="3.40" ry="3.67" fill="#e01c1c" fill-opacity="0.95"/>
<ellipse cx="221.20" cy="384.08" rx="2.90" ry="3.13" fill="#c8626e" fill-opacity="0.95"/>
<ellipse cx="221.20" cy="393.84" rx="3.10" ry="3.35" fill="#c86a7a" fill-opacity="0.95"/>
<ellipse cx="214.70" cy="403.60" rx="2.20" ry="2.38" fill="#b86a92" fill-opacity="0.95"/>
<ellipse cx="213.50" cy="413.36" rx="3.40" ry="3.67" fill="#7e98f0" fill-opacity="0.95"/>
<ellipse cx="209.40" cy="423.12" rx="1.70" ry="1.84" fill="#4c88f8" fill-opacity="0.95"/>
<ellipse cx="209.40" cy="432.88" rx="2.60" ry="2.81" fill="#6890f0" fill-opacity="0.95"/>
<ellipse cx="208.20" cy="442.64" rx="3.40" ry="3.67" fill="#a282c4" fill-opacity="0.95"/>
<ellipse cx="208.20" cy="452.40" rx="3.40" ry="3.67" fill="#b0687e" fill-opacity="0.95"/>
<ellipse cx="205.80" cy="462.16" rx="3.40" ry="3.67" fill="#9a8ad2" fill-opacity="0.95"/>
<ellipse cx="199.00" cy="471.92" rx="4.20" ry="4.54" fill="#b8687e" fill-opacity="0.95"/>
<ellipse cx="137.70" cy="481.68" rx="3.40" ry="3.67" fill="#b46ea2" fill-opacity="0.95"/>
<rect x="133.30" y="349.10" width="109.90" height="138.20" fill="none" stroke="#000" stroke-width="1.1"/>
<line x1="130.10" y1="354.80" x2="133.30" y2="354.80" stroke="#111" stroke-width="0.8"/>
<text x="58.40" y="356.80" font-size="5.8" fill="#333" textLength="68.50" lengthAdjust="spacingAndGlyphs" stroke="#333" stroke-width="0.06">Arachidonic acid metabolism</text>
<line x1="130.10" y1="364.56" x2="133.30" y2="364.56" stroke="#111" stroke-width="0.8"/>
<text x="34.60" y="366.56" font-size="5.8" fill="#333" textLength="92.30" lengthAdjust="spacingAndGlyphs" stroke="#333" stroke-width="0.06">Chemokine receptors bind chemokines</text>
<line x1="130.10" y1="374.32" x2="133.30" y2="374.32" stroke="#111" stroke-width="0.8"/>
<text x="55.60" y="376.32" font-size="5.8" fill="#333" textLength="71.30" lengthAdjust="spacingAndGlyphs" stroke="#333" stroke-width="0.06">Inteferon alpha beta signaling</text>
<line x1="130.10" y1="384.08" x2="133.30" y2="384.08" stroke="#111" stroke-width="0.8"/>
<text x="72.30" y="386.08" font-size="5.8" fill="#333" textLength="54.60" lengthAdjust="spacingAndGlyphs" stroke="#333" stroke-width="0.06">Interleukin 10 signaling</text>
<line x1="130.10" y1="393.84" x2="133.30" y2="393.84" stroke="#111" stroke-width="0.8"/>
<text x="33.50" y="395.84" font-size="5.8" fill="#333" textLength="93.40" lengthAdjust="spacingAndGlyphs" stroke="#333" stroke-width="0.06">Activation of matrix metalloproteinases</text>
<line x1="130.10" y1="403.60" x2="133.30" y2="403.60" stroke="#111" stroke-width="0.8"/>
<text x="37.40" y="405.60" font-size="5.8" fill="#333" textLength="89.50" lengthAdjust="spacingAndGlyphs" stroke="#333" stroke-width="0.06">Aflatoxin activation and detoxification</text>
<line x1="130.10" y1="413.36" x2="133.30" y2="413.36" stroke="#111" stroke-width="0.8"/>
<text x="19.60" y="415.36" font-size="5.8" fill="#333" textLength="107.30" lengthAdjust="spacingAndGlyphs" stroke="#333" stroke-width="0.06">IL6 type cytokine receptor ligand interactions</text>
<line x1="130.10" y1="423.12" x2="133.30" y2="423.12" stroke="#111" stroke-width="0.8"/>
<text x="39.20" y="425.12" font-size="5.8" fill="#333" textLength="87.70" lengthAdjust="spacingAndGlyphs" stroke="#333" stroke-width="0.06">Rôle of phospholipid in phagocytosis</text>
<line x1="130.10" y1="432.88" x2="133.30" y2="432.88" stroke="#111" stroke-width="0.8"/>
<text x="96.90" y="434.88" font-size="5.8" fill="#333" textLength="30.00" lengthAdjust="spacingAndGlyphs" stroke="#333" stroke-width="0.06">IL7 signaling</text>
<line x1="130.10" y1="442.64" x2="133.30" y2="442.64" stroke="#111" stroke-width="0.8"/>
<text x="61.20" y="444.64" font-size="5.8" fill="#333" textLength="65.70" lengthAdjust="spacingAndGlyphs" stroke="#333" stroke-width="0.06">NR1H3 NR1H2 regulate [...]</text>
<line x1="130.10" y1="452.40" x2="133.30" y2="452.40" stroke="#111" stroke-width="0.8"/>
<text x="37.40" y="454.40" font-size="5.8" fill="#333" textLength="89.50" lengthAdjust="spacingAndGlyphs" stroke="#333" stroke-width="0.06">NR1H2 and NR1H3 mediated sigaling</text>
<line x1="130.10" y1="462.16" x2="133.30" y2="462.16" stroke="#111" stroke-width="0.8"/>
<text x="39.20" y="464.16" font-size="5.8" fill="#333" textLength="87.70" lengthAdjust="spacingAndGlyphs" stroke="#333" stroke-width="0.06">RUNX2 regulates bone development</text>
<line x1="130.10" y1="471.92" x2="133.30" y2="471.92" stroke="#111" stroke-width="0.8"/>
<text x="28.20" y="473.92" font-size="5.8" fill="#333" textLength="98.70" lengthAdjust="spacingAndGlyphs" stroke="#333" stroke-width="0.06">RUNX2 regulates chondrocyte maturation</text>
<line x1="130.10" y1="481.68" x2="133.30" y2="481.68" stroke="#111" stroke-width="0.8"/>
<text x="51.50" y="483.68" font-size="5.8" fill="#333" textLength="75.40" lengthAdjust="spacingAndGlyphs" stroke="#333" stroke-width="0.06">RNA polymerase II transcription</text>
<line x1="159.00" y1="487.30" x2="159.00" y2="489.80" stroke="#111" stroke-width="0.8"/>
<text x="159.00" y="498.30" font-size="5.6" fill="#555" textLength="7.60" lengthAdjust="spacingAndGlyphs" text-anchor="middle">1.4</text>
<line x1="184.90" y1="487.30" x2="184.90" y2="489.80" stroke="#111" stroke-width="0.8"/>
<text x="184.90" y="498.30" font-size="5.6" fill="#555" textLength="7.60" lengthAdjust="spacingAndGlyphs" text-anchor="middle">1.6</text>
<line x1="210.80" y1="487.30" x2="210.80" y2="489.80" stroke="#111" stroke-width="0.8"/>
<text x="210.80" y="498.30" font-size="5.6" fill="#555" textLength="7.60" lengthAdjust="spacingAndGlyphs" text-anchor="middle">1.8</text>
<line x1="236.80" y1="487.30" x2="236.80" y2="489.80" stroke="#111" stroke-width="0.8"/>
<text x="236.80" y="498.30" font-size="5.6" fill="#555" textLength="7.60" lengthAdjust="spacingAndGlyphs" text-anchor="middle">2.0</text>
<text x="150.20" y="509.20" font-size="7.4" fill="#444" textLength="76.30" lengthAdjust="spacingAndGlyphs">Normalized enrichment score</text>
<text transform="translate(15.14,418.20) rotate(-90)" x="0" y="0" font-size="7.6" fill="#333" text-anchor="middle" textLength="54.50" lengthAdjust="spacingAndGlyphs">Reactome pathways</text>
<text x="249.50" y="376.70" font-size="5.6" fill="#444" textLength="9.70" lengthAdjust="spacingAndGlyphs">FDR</text>
<linearGradient id="eg" x1="0" y1="0" x2="0" y2="1"><stop offset="0" stop-color="#5b8ef8"/><stop offset="0.35" stop-color="#9a78c0"/><stop offset="0.7" stop-color="#cc4060"/><stop offset="1" stop-color="#e60000"/></linearGradient>
<rect x="250.10" y="381.60" width="5.50" height="26.30" fill="url(#eg)"/>
<line x1="250.10" y1="385.90" x2="251.20" y2="385.90" stroke="#fff" stroke-width="0.4"/>
<line x1="254.50" y1="385.90" x2="255.60" y2="385.90" stroke="#fff" stroke-width="0.4"/>
<text x="259.20" y="387.90" font-size="5.6" fill="#444" textLength="10.20" lengthAdjust="spacingAndGlyphs">0.04</text>
<line x1="250.10" y1="391.90" x2="251.20" y2="391.90" stroke="#fff" stroke-width="0.4"/>
<line x1="254.50" y1="391.90" x2="255.60" y2="391.90" stroke="#fff" stroke-width="0.4"/>
<text x="259.20" y="393.90" font-size="5.6" fill="#444" textLength="10.20" lengthAdjust="spacingAndGlyphs">0.03</text>
<line x1="250.10" y1="398.40" x2="251.20" y2="398.40" stroke="#fff" stroke-width="0.4"/>
<line x1="254.50" y1="398.40" x2="255.60" y2="398.40" stroke="#fff" stroke-width="0.4"/>
<text x="259.20" y="400.40" font-size="5.6" fill="#444" textLength="10.20" lengthAdjust="spacingAndGlyphs">0.02</text>
<line x1="250.10" y1="405.10" x2="251.20" y2="405.10" stroke="#fff" stroke-width="0.4"/>
<line x1="254.50" y1="405.10" x2="255.60" y2="405.10" stroke="#fff" stroke-width="0.4"/>
<text x="259.20" y="407.10" font-size="5.6" fill="#444" textLength="10.20" lengthAdjust="spacingAndGlyphs">0.01</text>
<text x="249.10" y="419.20" font-size="5.8" fill="#444" textLength="26.70" lengthAdjust="spacingAndGlyphs">Gene Ratio</text>
<circle cx="257.60" cy="426.70" r="3.20" fill="#3b3b3b" stroke="#222" stroke-width="0.6"/>
<text x="265.90" y="428.70" font-size="5.6" fill="#444" textLength="7.50" lengthAdjust="spacingAndGlyphs">0.4</text>
<circle cx="257.60" cy="435.90" r="4.00" fill="#3b3b3b" stroke="#222" stroke-width="0.6"/>
<text x="265.90" y="437.90" font-size="5.6" fill="#444" textLength="7.50" lengthAdjust="spacingAndGlyphs">0.6</text>
<circle cx="257.60" cy="447.00" r="4.90" fill="#3b3b3b" stroke="#222" stroke-width="0.6"/>
<text x="265.90" y="449.00" font-size="5.6" fill="#444" textLength="7.50" lengthAdjust="spacingAndGlyphs">0.8</text>
<circle cx="257.60" cy="459.50" r="5.90" fill="#3b3b3b" stroke="#222" stroke-width="0.6"/>
<text x="265.90" y="461.50" font-size="5.6" fill="#444" textLength="7.50" lengthAdjust="spacingAndGlyphs">1.0</text>
<clipPath id="ft"><rect x="299.8" y="132.8" width="82.5" height="100.5"/></clipPath>
<g clip-path="url(#ft)">
<path d="M331.90,140.00 C333.57,139.38 335.98,138.97 338.00,138.80 C340.02,138.63 342.23,138.77 344.00,139.00 C345.77,139.23 347.68,139.37 348.60,140.20 C349.52,141.03 349.43,142.37 349.50,144.00 C349.57,145.63 349.33,148.00 349.00,150.00 C348.67,152.00 347.88,154.00 347.50,156.00 C347.12,158.00 347.45,160.42 346.70,162.00 C345.95,163.58 344.03,164.42 343.00,165.50 C341.97,166.58 341.40,167.62 340.50,168.50 C339.60,169.38 338.68,170.45 337.60,170.80 C336.52,171.15 334.72,171.43 334.00,170.60 C333.28,169.77 333.53,167.40 333.30,165.80 C333.07,164.20 333.00,162.72 332.60,161.00 C332.20,159.28 331.40,156.90 330.90,155.50 C330.40,154.10 330.40,153.58 329.60,152.60 C328.80,151.62 326.80,150.78 326.10,149.60 C325.40,148.42 325.08,146.68 325.40,145.50 C325.72,144.32 326.92,143.42 328.00,142.50 C329.08,141.58 330.23,140.62 331.90,140.00 Z" fill="#c6beb6" fill-opacity="0.85"/>
<path d="M343.8 147.0h0M337.3 153.2h0M341.1 164.0h0M345.5 152.6h0M336.1 161.9h0M348.0 151.0h0M330.6 152.3h0M326.1 145.9h0M336.0 154.7h0M331.0 146.2h0M330.7 153.5h0M345.6 156.6h0M340.9 144.7h0M328.3 149.4h0M342.8 161.6h0M348.0 152.3h0M345.4 160.2h0M332.7 157.6h0M337.6 157.6h0M326.2 146.6h0M344.6 152.1h0M342.3 160.4h0M334.4 152.8h0M337.7 163.7h0M338.0 151.4h0M337.2 139.7h0M334.9 144.3h0M337.5 170.2h0M344.0 156.1h0M346.1 146.2h0M337.8 169.3h0M339.3 153.5h0M331.9 156.3h0M344.9 155.4h0M338.9 152.4h0M339.1 145.2h0M337.6 154.3h0M334.0 149.9h0M338.4 158.8h0M340.2 153.5h0M326.1 146.1h0M341.6 141.5h0M343.6 146.8h0M333.7 141.0h0M329.5 147.5h0M342.5 153.4h0M333.2 154.0h0M335.5 144.8h0M337.7 145.5h0M340.0 164.9h0M341.7 156.2h0M344.6 155.3h0M334.9 157.2h0M333.1 159.0h0M326.8 148.4h0M343.3 152.1h0M346.6 140.0h0M339.1 144.3h0M342.4 155.1h0M334.5 149.9h0M335.8 145.0h0M332.5 154.8h0M330.2 149.3h0M333.6 145.6h0M341.7 165.6h0M347.9 149.8h0M346.7 160.8h0M337.1 170.3h0M327.4 144.2h0M347.4 145.6h0M343.7 158.0h0M345.7 150.6h0M333.6 148.1h0M346.3 158.1h0M333.6 158.5h0M344.2 150.9h0M339.2 146.0h0M327.4 147.3h0M346.9 156.9h0M347.7 153.4h0M341.6 141.7h0M326.4 146.5h0" stroke="#f4f2f0" stroke-width="1.00" stroke-linecap="round" fill="none"/>
<path d="M328.2 144.9h0M334.8 169.6h0M332.0 154.4h0M348.7 148.0h0M334.0 140.2h0M348.9 143.0h0M342.0 160.5h0M333.1 146.9h0M341.5 159.2h0M332.4 150.1h0M346.6 149.0h0M339.4 158.0h0M331.1 141.1h0M337.6 166.8h0M344.8 141.2h0M345.6 149.4h0M347.8 148.0h0M345.6 162.4h0M335.7 143.2h0M332.3 140.7h0M338.9 155.7h0M334.9 149.7h0M340.8 152.1h0M334.2 143.5h0M344.9 151.9h0M337.9 154.4h0M342.0 162.7h0M336.4 146.3h0M338.1 167.5h0M346.4 148.0h0M334.3 160.6h0M329.8 147.4h0M343.4 139.8h0M334.2 155.9h0M344.8 159.9h0M348.7 142.4h0M340.3 161.6h0M344.9 153.0h0M348.2 142.3h0M328.3 149.0h0M335.5 139.0h0M345.4 146.0h0M332.0 158.2h0M337.3 165.6h0M335.3 148.4h0M338.6 168.5h0M338.8 148.8h0M337.7 139.0h0M332.9 150.9h0M337.0 159.7h0M340.1 166.5h0M345.5 150.6h0M332.4 143.9h0M334.0 152.9h0M340.1 161.8h0M336.9 162.2h0M340.1 151.4h0M344.8 158.5h0M338.8 143.2h0M335.9 140.2h0M335.5 150.1h0M337.5 168.7h0M342.1 158.5h0M347.5 147.8h0M337.3 150.5h0M342.5 165.5h0M346.5 150.5h0M343.4 166.0h0M339.7 149.2h0M344.1 144.7h0M339.8 147.1h0M334.1 163.6h0M343.1 148.9h0M337.3 142.1h0M339.8 167.4h0M343.0 164.7h0M334.2 166.1h0M337.5 151.2h0M344.9 153.5h0M341.8 148.8h0M332.2 150.6h0M335.1 166.7h0M345.6 140.4h0M340.4 161.8h0M340.6 150.4h0M341.8 147.0h0M339.2 149.6h0M337.7 141.1h0M335.5 159.3h0M342.8 164.1h0M344.1 154.8h0M335.5 143.3h0M338.1 141.5h0M343.6 149.4h0M332.7 153.0h0M333.6 148.5h0M339.2 141.7h0M344.6 161.0h0M345.7 148.5h0M337.6 142.4h0M341.0 149.2h0M332.7 162.7h0M334.4 149.8h0M338.0 167.5h0M344.3 160.9h0M335.7 153.6h0M329.2 143.0h0M346.6 145.1h0M338.8 147.5h0M340.8 155.7h0M346.3 160.2h0M345.6 162.5h0M340.2 166.2h0M342.4 155.9h0M343.2 164.8h0M343.5 155.3h0M339.8 139.7h0M330.0 148.3h0M328.9 148.0h0M338.6 156.4h0M335.1 159.3h0M336.4 157.2h0M338.2 151.2h0M345.0 151.2h0M334.0 162.8h0M336.1 142.9h0M340.0 148.0h0M337.6 162.0h0M344.0 153.8h0M349.0 146.2h0M336.4 169.7h0M344.4 140.7h0M338.0 156.8h0M348.3 141.9h0M341.6 143.0h0M337.5 163.6h0M341.2 142.0h0M332.7 154.9h0M345.2 142.8h0M335.8 167.2h0M337.0 167.4h0M343.6 149.6h0M331.1 156.4h0M345.6 146.8h0M335.5 143.5h0M338.5 158.7h0M331.5 146.0h0M333.9 159.0h0M342.5 156.1h0M342.4 158.6h0M332.9 154.8h0M329.3 147.3h0M342.2 156.5h0M346.8 152.3h0" stroke="#b8b0a8" stroke-width="1.00" stroke-linecap="round" fill="none"/>
<path d="M333.2 158.7h0M333.5 158.0h0M333.3 144.5h0M342.8 140.6h0M327.9 149.2h0M334.7 168.3h0M341.2 147.5h0M348.6 149.1h0M346.2 157.7h0M340.9 158.5h0M339.1 150.8h0M338.2 140.5h0M330.1 152.6h0M331.2 155.9h0M327.4 150.0h0M338.4 164.8h0M326.0 148.3h0M347.8 143.0h0M335.3 153.5h0M346.4 158.2h0M335.1 156.3h0M342.7 158.7h0M336.0 158.4h0M327.4 143.2h0M334.3 142.3h0M334.9 159.8h0M334.8 147.5h0M342.0 159.1h0M336.7 147.9h0M335.1 166.5h0M328.8 149.3h0M343.5 153.7h0M344.3 162.7h0M339.7 156.5h0M329.1 150.9h0M327.3 143.6h0M345.7 149.6h0M341.4 161.9h0M333.9 144.8h0M347.8 144.0h0M336.7 163.8h0M341.8 160.2h0M334.2 156.1h0M350.7 146.6h0M332.1 148.2h0M332.3 156.2h0M334.9 144.6h0M332.8 143.1h0M344.1 158.1h0M328.5 147.4h0M337.0 144.0h0" stroke="#d2ccc6" stroke-width="1.00" stroke-linecap="round" fill="none"/>
<path d="M335.8 146.4h0M338.6 157.1h0M340.6 140.8h0M342.6 149.3h0M326.3 147.3h0M334.3 167.8h0M336.0 157.3h0M329.8 156.1h0M339.7 157.4h0M341.1 148.3h0M340.1 167.1h0M328.4 143.9h0M336.8 160.4h0M339.9 165.7h0M337.7 149.0h0M336.9 142.8h0M338.9 168.0h0M340.4 140.9h0" stroke="#c4bdb6" stroke-width="1.00" stroke-linecap="round" fill="none"/>
<path d="M351.00,140.00 C351.58,138.62 352.83,137.77 354.00,137.20 C355.17,136.63 356.67,136.50 358.00,136.60 C359.33,136.70 361.20,136.90 362.00,137.80 C362.80,138.70 362.97,140.63 362.80,142.00 C362.63,143.37 361.80,144.90 361.00,146.00 C360.20,147.10 359.25,148.23 358.00,148.60 C356.75,148.97 354.75,148.72 353.50,148.20 C352.25,147.68 350.92,146.87 350.50,145.50 C350.08,144.13 350.42,141.38 351.00,140.00 Z" fill="#c6beb6" fill-opacity="0.85"/>
<path d="M360.8 145.4h0M358.7 140.3h0M358.0 143.9h0M357.6 138.5h0M355.8 141.3h0M362.2 143.1h0M356.0 139.8h0M356.2 140.4h0M355.2 147.3h0M357.0 143.3h0M354.5 138.2h0M358.8 138.8h0M359.9 146.1h0M359.8 145.2h0M356.2 143.0h0M356.5 147.7h0M356.7 146.6h0M354.9 147.2h0" stroke="#f4f2f0" stroke-width="1.00" stroke-linecap="round" fill="none"/>
<path d="M360.6 141.7h0M359.5 142.8h0M359.4 138.4h0M362.4 140.1h0M356.4 142.3h0M353.3 139.0h0M358.5 136.9h0M361.7 138.7h0M358.7 140.8h0M352.0 142.6h0M352.5 147.5h0M353.6 145.2h0M351.2 145.4h0M360.8 139.1h0M355.5 137.1h0M350.4 140.2h0M352.4 140.7h0M360.5 145.0h0M360.8 145.1h0M359.0 140.7h0M360.9 137.9h0M357.2 138.2h0M358.5 141.7h0M350.4 144.2h0M353.4 142.5h0M358.1 145.9h0M355.8 142.9h0M355.5 137.6h0M352.8 139.1h0M354.5 145.3h0M355.7 142.7h0M355.7 143.1h0M359.4 140.9h0M358.4 140.0h0" stroke="#b8b0a8" stroke-width="1.00" stroke-linecap="round" fill="none"/>
<path d="M351.2 145.2h0M361.6 144.7h0M355.8 143.3h0M350.3 141.2h0M351.8 146.5h0M355.3 141.5h0M358.3 148.0h0M358.5 145.1h0M355.1 141.6h0M358.2 142.0h0M353.6 139.4h0" stroke="#d2ccc6" stroke-width="1.00" stroke-linecap="round" fill="none"/>
<path d="M357.4 143.8h0M357.5 141.6h0M352.8 141.8h0" stroke="#c4bdb6" stroke-width="1.00" stroke-linecap="round" fill="none"/>
<path d="M351.50,160.50 C352.58,159.03 355.23,159.05 356.90,159.20 C358.57,159.35 360.22,161.38 361.50,161.40 C362.78,161.42 363.98,160.53 364.60,159.30 C365.22,158.07 364.77,155.25 365.20,154.00 C365.63,152.75 366.50,151.97 367.20,151.80 C367.90,151.63 369.00,151.88 369.40,153.00 C369.80,154.12 369.12,156.43 369.60,158.50 C370.08,160.57 371.33,162.97 372.30,165.40 C373.27,167.83 374.68,170.52 375.40,173.10 C376.12,175.68 377.12,178.32 376.60,180.90 C376.08,183.48 374.05,186.28 372.30,188.60 C370.55,190.92 368.15,192.73 366.10,194.80 C364.05,196.87 362.32,199.17 360.00,201.00 C357.68,202.83 354.10,205.63 352.20,205.80 C350.30,205.97 349.33,203.80 348.60,202.00 C347.87,200.20 347.83,197.50 347.80,195.00 C347.77,192.50 348.13,189.83 348.40,187.00 C348.67,184.17 349.07,181.17 349.40,178.00 C349.73,174.83 350.05,170.92 350.40,168.00 C350.75,165.08 350.42,161.97 351.50,160.50 Z" fill="#c6beb6" fill-opacity="0.85"/>
<path d="M354.7 181.2h0M358.5 184.4h0M365.8 155.3h0M348.2 197.0h0M355.3 164.5h0M371.9 177.5h0M366.2 159.9h0M362.9 191.8h0M367.1 155.3h0M369.6 183.7h0M372.7 177.3h0M359.2 195.0h0M351.7 163.5h0M375.6 175.4h0M365.8 168.1h0M362.4 172.6h0M357.9 183.4h0M367.1 160.6h0M373.9 182.5h0M368.4 163.2h0M371.8 182.8h0M350.3 195.0h0M356.3 193.3h0M365.5 154.2h0M368.5 169.7h0M353.5 173.8h0M365.4 160.2h0M349.0 198.7h0M373.6 172.2h0M361.1 179.9h0M366.3 184.0h0M363.9 185.3h0M374.9 179.2h0M360.2 190.7h0M354.6 168.1h0M376.0 179.9h0M359.8 183.1h0M366.0 155.0h0M365.9 177.0h0M367.4 170.8h0M368.2 191.7h0M355.0 176.4h0M364.9 169.1h0M358.3 168.7h0M358.4 184.0h0M356.5 172.2h0M364.2 191.5h0M356.7 163.8h0M370.9 164.7h0M353.2 175.3h0M367.9 157.3h0M357.1 169.8h0M371.8 175.5h0M357.5 186.9h0M373.3 176.2h0M363.1 162.1h0M353.1 166.8h0M371.0 186.5h0M371.0 170.4h0M351.5 167.6h0M370.7 166.4h0M357.8 174.3h0M359.9 173.9h0M366.9 179.8h0M356.1 170.2h0M364.8 167.3h0M373.7 183.0h0M348.2 192.0h0M352.7 168.0h0M366.9 180.1h0M365.4 170.2h0M355.1 198.3h0M361.5 194.0h0M357.9 162.5h0M363.2 195.9h0M352.7 194.6h0M355.5 180.3h0M360.0 177.3h0M350.3 178.9h0M356.9 168.8h0M357.9 186.7h0M364.7 171.3h0M353.3 169.6h0M351.4 181.8h0M368.4 172.3h0M358.6 184.4h0M370.3 172.3h0M370.9 185.4h0M360.2 171.9h0M362.1 189.8h0M359.9 189.3h0M361.1 165.0h0M363.2 189.3h0M349.9 174.7h0M360.1 199.3h0M374.8 172.0h0M355.4 176.9h0M351.3 195.7h0M370.6 187.8h0M368.9 182.2h0M350.8 183.5h0M348.5 197.2h0M351.3 197.4h0M375.2 183.1h0M369.9 179.4h0M368.4 157.6h0M364.0 196.5h0M354.8 161.5h0M355.0 185.1h0M369.5 173.1h0M358.4 173.2h0M357.9 174.4h0M350.2 178.8h0M369.3 160.5h0M367.7 192.6h0M367.2 179.7h0M361.7 186.5h0M350.6 192.2h0M374.2 179.7h0M360.6 190.6h0M353.2 166.2h0M353.5 183.4h0M356.9 164.3h0M356.3 189.9h0M359.7 197.9h0M364.6 166.2h0M361.6 172.5h0M352.8 171.3h0M357.1 193.6h0M351.9 205.3h0M361.6 184.1h0M361.3 196.9h0M371.5 181.9h0M361.7 190.7h0M372.5 173.4h0M361.3 164.2h0M354.6 190.6h0M353.3 165.8h0M353.2 189.9h0M355.1 198.5h0M356.8 174.7h0M368.8 156.4h0M350.5 196.8h0M356.2 171.1h0M364.5 188.3h0M360.4 178.0h0M353.9 183.4h0M375.3 172.9h0M355.7 187.7h0M351.0 199.7h0M374.9 172.0h0M356.3 188.3h0M355.4 192.5h0M362.0 170.8h0M368.5 188.4h0M364.1 161.6h0" stroke="#f4f2f0" stroke-width="1.00" stroke-linecap="round" fill="none"/>
<path d="M366.8 186.7h0M366.9 158.3h0M356.9 190.4h0M366.3 176.8h0M349.8 189.9h0M369.1 171.6h0M362.4 164.7h0M356.6 173.4h0M358.2 197.8h0M352.5 162.4h0M364.6 159.9h0M363.1 182.8h0M374.6 172.3h0M367.9 167.6h0M365.9 191.1h0M366.4 178.3h0M353.9 180.5h0M365.4 175.3h0M371.0 185.6h0M357.0 198.6h0M373.2 183.9h0M369.5 169.4h0M372.6 174.9h0M352.3 178.1h0M359.8 187.3h0M370.0 174.4h0M368.1 172.0h0M365.3 163.9h0M361.1 162.6h0M359.6 160.9h0M352.7 178.3h0M360.7 173.7h0M360.6 173.4h0M365.8 170.6h0M368.9 166.2h0M355.2 165.6h0M349.6 187.0h0M376.2 176.6h0M356.8 184.5h0M356.6 198.0h0M357.7 188.4h0M369.4 190.9h0M374.1 171.6h0M370.2 178.0h0M368.4 184.1h0M367.5 153.2h0M367.4 157.9h0M373.5 175.7h0M357.8 172.0h0M350.1 187.0h0M352.1 186.6h0M354.5 204.6h0M359.3 193.5h0M363.3 162.1h0M354.0 200.3h0M353.7 196.2h0M357.6 184.4h0M372.0 183.6h0M363.3 176.7h0M358.3 178.2h0M368.6 174.1h0M354.4 170.7h0M354.7 160.4h0M364.1 174.1h0M375.2 177.5h0M356.3 202.4h0M368.0 167.6h0M348.9 192.5h0M357.7 191.5h0M350.6 168.1h0M351.8 191.8h0M358.3 161.0h0M362.4 181.8h0M356.6 176.3h0M356.4 164.8h0M351.3 180.4h0M370.8 176.8h0M360.8 170.2h0M350.5 169.4h0M360.3 166.0h0M366.6 187.8h0M362.1 196.6h0M373.4 176.2h0M370.8 184.6h0M352.2 160.4h0M363.3 174.2h0M371.2 176.2h0M356.1 180.4h0M364.0 181.5h0M350.4 188.3h0M366.6 162.2h0M358.7 196.8h0M356.9 173.2h0M363.3 191.4h0M361.6 166.2h0M355.2 204.3h0M367.3 186.9h0M370.0 162.1h0M375.3 180.8h0M358.2 201.3h0M361.7 189.9h0M357.9 191.6h0M360.6 181.1h0M352.7 166.3h0M367.6 180.0h0M363.7 176.1h0M356.8 179.4h0M359.2 184.1h0M361.9 191.9h0M359.9 177.4h0M375.6 180.6h0M350.2 174.1h0M348.6 198.8h0M357.5 163.1h0M360.1 198.2h0M356.1 179.3h0M364.7 160.1h0M365.8 159.5h0M363.6 190.9h0M374.0 175.4h0M372.2 172.4h0M356.3 161.5h0M355.2 172.8h0M365.7 187.5h0M350.2 174.3h0M362.3 174.1h0M356.5 173.9h0M354.2 173.3h0M363.2 183.0h0M360.9 198.0h0M362.7 163.6h0M351.3 180.2h0M360.6 169.5h0M354.2 196.1h0M374.2 173.5h0M358.9 197.6h0M359.5 173.1h0M355.3 189.5h0M353.8 175.5h0M367.7 162.9h0M352.4 192.7h0M364.9 185.8h0M361.8 184.0h0M368.1 162.6h0M361.6 161.1h0M369.3 183.7h0M371.4 177.4h0M359.9 178.0h0M369.4 182.5h0M374.1 181.0h0M370.0 167.6h0M368.4 170.8h0M354.6 189.3h0M350.7 182.4h0M352.9 173.5h0M353.7 179.3h0M372.7 179.7h0M356.0 168.7h0M374.8 177.7h0M364.4 179.7h0M350.6 189.5h0M357.5 193.5h0M354.9 179.9h0M369.1 178.6h0M370.4 165.5h0M352.9 187.1h0M364.1 191.9h0M352.3 204.2h0M368.4 159.7h0M365.6 161.0h0M369.0 173.3h0M365.4 166.0h0M356.0 189.6h0M362.9 169.5h0M371.1 172.3h0M367.1 169.9h0M370.9 170.9h0M350.1 168.6h0M365.1 167.5h0M357.2 162.3h0M369.4 183.6h0M362.8 175.0h0M371.5 179.4h0M364.3 185.6h0M351.0 178.8h0M374.9 174.2h0M349.0 188.7h0M356.9 168.7h0M369.3 179.9h0M365.7 155.8h0M350.2 188.1h0M367.9 182.4h0M356.6 192.2h0M354.8 170.5h0M375.5 177.9h0M364.7 185.1h0M362.7 165.2h0M358.3 175.3h0M369.4 171.1h0M354.3 164.7h0M366.9 191.6h0M361.1 172.2h0M353.1 172.6h0M352.0 193.6h0M356.6 197.7h0M352.2 163.0h0M357.2 175.6h0M357.3 172.6h0M350.3 200.1h0M373.6 170.1h0M363.0 182.4h0M357.1 196.7h0M355.7 163.8h0M356.4 203.8h0M357.5 188.3h0M358.9 169.9h0M373.1 170.7h0M350.6 168.8h0M356.6 167.6h0M360.2 193.3h0M352.3 197.6h0M362.3 197.8h0M363.0 177.7h0M361.9 191.6h0M351.5 199.3h0M363.9 196.3h0M369.5 175.4h0M373.8 181.9h0M371.7 166.9h0M354.4 190.6h0M367.5 191.4h0M368.1 153.1h0M365.0 158.3h0M363.3 188.5h0M356.4 165.3h0M359.7 172.8h0M357.0 169.2h0M365.4 173.5h0M357.2 185.1h0M366.2 176.0h0M365.1 178.5h0M370.5 167.8h0M361.7 175.4h0M364.3 182.9h0M353.0 203.7h0M356.4 186.8h0M370.4 169.6h0M365.0 178.2h0M363.3 171.3h0M372.4 183.9h0M366.1 154.8h0M356.6 164.6h0M363.9 160.1h0M350.0 200.7h0M368.3 185.1h0M353.6 195.3h0M359.3 198.5h0M354.8 172.0h0M358.1 178.4h0M358.2 170.8h0M366.7 178.6h0M373.9 182.8h0M353.2 195.3h0M369.9 173.6h0M353.1 192.3h0M358.6 167.8h0M358.1 182.3h0M363.6 167.1h0M369.9 167.5h0M371.6 187.7h0M362.5 171.7h0M366.7 192.4h0M366.8 183.0h0M370.3 185.3h0M365.3 158.5h0M361.0 192.9h0M352.5 197.4h0M350.8 196.1h0M359.7 199.4h0M371.6 170.7h0M364.8 169.8h0M364.3 186.1h0M354.4 194.9h0M370.3 160.8h0M353.5 194.4h0M348.8 189.6h0M357.6 199.6h0M354.4 187.5h0M348.9 198.1h0M353.0 185.7h0M367.8 181.9h0M354.7 199.6h0M352.0 194.5h0M359.8 184.5h0" stroke="#b8b0a8" stroke-width="1.00" stroke-linecap="round" fill="none"/>
<path d="M361.2 192.9h0M355.3 194.4h0M361.0 190.8h0M350.7 199.4h0M359.4 166.1h0M353.3 192.6h0M363.8 186.2h0M366.8 161.7h0M362.8 192.0h0M361.7 183.4h0M368.1 185.7h0M352.0 205.3h0M364.0 173.6h0M376.3 180.0h0M368.2 183.0h0M365.1 165.9h0M354.1 195.7h0M358.6 178.0h0M368.7 184.5h0M350.0 184.0h0M361.1 179.4h0M375.8 174.3h0M367.2 162.1h0M359.1 186.7h0M365.5 186.5h0M365.3 183.6h0M353.9 190.3h0M349.9 195.8h0M373.6 167.4h0M352.4 174.5h0M351.2 198.8h0M359.2 182.5h0M357.9 177.1h0M352.2 198.3h0M371.3 172.2h0M372.7 176.1h0M354.9 199.6h0M365.1 179.9h0M354.0 195.6h0M355.2 201.5h0M349.9 197.9h0M373.4 170.9h0M367.8 161.5h0M361.5 182.8h0M375.6 172.8h0M362.3 188.6h0M357.1 198.3h0M356.9 200.9h0M362.4 171.4h0M357.0 169.0h0M359.3 197.7h0M360.3 198.7h0M350.9 181.0h0M372.2 177.2h0M368.0 155.6h0M362.1 166.1h0M373.9 171.1h0M352.0 163.0h0M354.2 169.5h0M357.9 164.4h0M364.2 176.0h0M368.0 152.4h0M370.3 170.8h0M361.2 172.6h0M354.6 192.8h0M372.1 176.3h0M366.6 160.6h0M359.3 186.4h0M360.4 186.9h0M364.2 166.8h0M348.9 179.5h0M354.7 196.7h0M355.5 180.3h0M356.1 163.5h0M349.7 185.5h0M368.9 171.4h0M363.0 187.2h0M372.7 169.1h0M365.7 169.8h0M367.4 180.3h0M373.7 186.0h0M365.0 176.6h0M371.9 175.4h0M365.1 176.6h0M349.7 198.2h0M364.2 191.7h0M356.3 186.7h0M358.1 185.5h0M370.2 161.0h0M356.3 161.3h0M352.0 193.4h0M370.5 167.0h0M366.5 189.8h0M352.9 172.2h0M374.7 175.1h0M364.8 167.0h0M356.7 178.8h0M349.3 201.3h0" stroke="#d2ccc6" stroke-width="1.00" stroke-linecap="round" fill="none"/>
<path d="M372.8 168.7h0M369.1 169.1h0M369.4 177.5h0M361.9 170.4h0M358.1 198.1h0M368.0 179.1h0M354.9 183.1h0M357.5 161.4h0M373.0 170.9h0M357.9 193.2h0M354.5 193.0h0M364.6 169.4h0M361.8 188.3h0M362.6 177.8h0M350.4 180.9h0M358.6 160.8h0M368.6 182.7h0M357.9 195.9h0M368.3 173.8h0M365.8 159.6h0M356.0 178.8h0M368.2 166.8h0M372.5 183.6h0M352.1 166.7h0M360.4 196.7h0M362.2 179.7h0M351.8 180.7h0M365.8 157.5h0M370.4 178.1h0M352.8 176.2h0M364.7 155.5h0M373.2 172.5h0M370.5 160.9h0M367.7 191.0h0" stroke="#c4bdb6" stroke-width="1.00" stroke-linecap="round" fill="none"/>
<path d="M335.30,190.50 C336.38,189.58 338.55,189.33 340.00,189.50 C341.45,189.67 342.58,190.92 344.00,191.50 C345.42,192.08 347.58,191.92 348.50,193.00 C349.42,194.08 349.00,195.40 349.50,198.00 C350.00,200.60 351.30,205.53 351.50,208.60 C351.70,211.67 351.37,214.33 350.70,216.40 C350.03,218.47 348.53,219.65 347.50,221.00 C346.47,222.35 345.75,223.70 344.50,224.50 C343.25,225.30 341.28,225.80 340.00,225.80 C338.72,225.80 337.97,226.07 336.80,224.50 C335.63,222.93 334.03,219.05 333.00,216.40 C331.97,213.75 330.87,211.17 330.60,208.60 C330.33,206.03 330.92,203.27 331.40,201.00 C331.88,198.73 332.85,196.75 333.50,195.00 C334.15,193.25 334.22,191.42 335.30,190.50 Z" fill="#c6beb6" fill-opacity="0.85"/>
<path d="M335.5 193.2h0M338.9 195.1h0M332.0 204.1h0M346.6 197.6h0M341.8 199.5h0M334.2 193.4h0M347.9 218.8h0M347.3 196.5h0M337.1 212.3h0M345.9 220.5h0M343.3 213.9h0M341.2 196.0h0M340.5 192.7h0M342.0 200.4h0M349.6 210.3h0M341.2 204.5h0M343.1 205.1h0M334.0 200.6h0M336.5 208.9h0M340.4 201.9h0M339.2 196.9h0M343.8 199.5h0M338.0 216.6h0M337.3 209.8h0M346.6 211.8h0M335.6 201.5h0M334.3 206.2h0M339.2 223.7h0M343.6 219.2h0M336.7 196.4h0M339.9 194.5h0M338.6 224.4h0M347.0 202.7h0M336.7 193.0h0M334.9 191.7h0M344.7 194.9h0M331.5 207.3h0M333.2 208.7h0M346.8 204.4h0M335.7 204.4h0M331.4 204.8h0M335.8 221.8h0M348.0 207.6h0M335.7 197.1h0M335.4 221.1h0M350.0 210.0h0M349.4 213.2h0M347.1 216.5h0M340.9 192.9h0M337.6 213.3h0M347.3 212.8h0M347.6 208.7h0M344.3 214.4h0M336.2 223.0h0M350.8 213.7h0M343.9 210.2h0M347.5 217.9h0M348.9 209.5h0M349.0 196.8h0M344.6 201.5h0M349.2 217.6h0M340.5 208.6h0M343.0 207.2h0M348.7 211.6h0M333.5 202.7h0M346.6 208.5h0M342.0 203.3h0M347.1 200.8h0M335.5 207.2h0M333.0 212.0h0M349.1 208.1h0M339.7 220.6h0M349.0 196.6h0M336.9 219.9h0M339.4 218.5h0M334.3 194.9h0M340.9 201.8h0M341.9 222.3h0M337.1 209.3h0M340.8 215.5h0M340.7 192.2h0M335.7 220.3h0M338.1 217.3h0M344.7 211.6h0M337.1 222.6h0M340.4 222.6h0M337.0 221.0h0M347.0 211.8h0M339.8 194.6h0M346.7 202.6h0M344.4 194.3h0" stroke="#f4f2f0" stroke-width="1.00" stroke-linecap="round" fill="none"/>
<path d="M347.9 195.7h0M342.5 202.1h0M339.3 224.1h0M337.5 200.4h0M347.6 218.7h0M341.9 207.0h0M332.7 212.5h0M343.2 220.7h0M339.6 210.8h0M336.8 198.4h0M339.1 203.7h0M339.4 190.5h0M344.4 212.6h0M344.7 195.7h0M343.5 201.0h0M349.5 218.0h0M337.3 224.6h0M345.2 209.3h0M341.7 195.3h0M338.5 194.4h0M336.4 221.1h0M344.8 223.6h0M342.2 214.1h0M341.4 194.7h0M348.4 199.2h0M348.2 201.7h0M334.3 194.5h0M334.7 209.7h0M335.2 219.4h0M338.8 219.7h0M333.2 211.8h0M344.0 222.0h0M344.2 198.3h0M336.7 221.7h0M343.9 214.5h0M340.7 209.1h0M335.0 191.1h0M346.0 193.6h0M348.2 212.1h0M340.0 195.5h0M346.1 219.5h0M339.2 224.0h0M337.0 213.9h0M340.7 196.0h0M345.8 203.7h0M337.3 212.5h0M337.1 223.3h0M344.4 221.8h0M338.0 206.0h0M336.6 220.9h0M336.3 209.3h0M335.1 215.7h0M334.8 197.1h0M343.6 202.7h0M350.6 214.3h0M349.1 214.3h0M332.9 206.7h0M338.6 215.9h0M334.9 198.0h0M343.2 202.5h0M334.5 218.4h0M340.7 191.7h0M338.5 194.9h0M338.1 205.8h0M346.8 216.2h0M337.2 209.4h0M351.2 209.2h0M343.1 211.2h0M339.8 218.7h0M334.1 200.0h0M343.5 196.2h0M342.3 224.2h0M337.2 208.9h0M348.4 196.7h0M349.3 211.1h0M346.3 211.4h0M343.2 209.4h0M340.7 221.4h0M337.4 214.3h0M337.2 204.6h0M332.5 205.5h0M350.3 198.9h0M348.6 196.3h0M342.0 205.2h0M344.0 212.3h0M344.8 191.9h0M337.3 202.4h0M334.1 213.3h0M333.4 217.2h0M337.0 202.0h0M341.6 198.3h0M340.1 213.0h0M343.2 196.4h0M339.9 201.9h0M337.0 201.5h0M336.5 202.5h0M348.2 219.2h0M342.2 198.8h0M338.1 198.5h0M336.7 192.5h0M346.4 209.7h0M338.3 214.3h0M345.4 210.4h0M339.5 216.2h0M339.1 197.2h0M333.2 205.3h0M348.6 200.2h0M339.7 223.3h0M347.3 215.6h0M348.2 209.7h0M337.4 201.9h0M343.8 214.2h0M340.3 221.7h0M340.0 220.8h0M346.5 206.2h0M333.5 203.3h0M343.2 213.4h0M349.7 216.9h0M347.0 217.6h0M344.4 198.5h0M345.2 196.0h0M349.6 200.8h0M347.1 194.3h0M342.8 199.5h0M339.6 215.4h0M343.7 195.8h0M347.7 197.5h0M337.3 210.0h0M349.6 201.6h0M336.1 192.7h0M345.2 221.5h0M335.7 207.4h0M349.0 212.1h0M345.6 219.0h0M334.5 205.6h0M348.2 202.7h0M344.4 199.3h0M342.1 222.5h0M347.8 194.2h0M350.3 215.0h0M344.6 212.6h0M341.8 192.3h0M339.9 192.8h0M348.2 218.2h0M342.8 199.3h0M339.2 211.7h0M349.0 201.7h0M334.0 217.4h0M334.5 216.1h0M332.9 196.1h0M347.3 206.7h0M345.2 216.5h0M335.6 192.9h0M341.3 207.2h0M337.9 208.9h0M334.1 208.3h0M334.0 200.8h0M333.9 206.2h0M336.2 205.2h0M341.0 198.1h0M345.6 205.0h0M338.1 210.6h0M340.5 224.7h0M349.5 206.2h0M332.9 212.1h0M344.8 198.4h0M341.1 225.1h0M333.7 203.5h0M342.6 222.1h0M343.8 198.2h0M336.5 203.8h0" stroke="#b8b0a8" stroke-width="1.00" stroke-linecap="round" fill="none"/>
<path d="M340.3 199.7h0M336.9 222.6h0M345.5 208.9h0M341.0 200.3h0M342.8 205.4h0M348.3 215.8h0M344.4 223.0h0M346.0 202.5h0M338.1 220.7h0M345.0 211.1h0M338.9 205.1h0M343.8 202.9h0M347.5 216.3h0M333.0 207.9h0M342.7 195.3h0M341.6 207.0h0M337.4 202.2h0M339.7 205.0h0M332.1 214.1h0M333.1 210.3h0M346.2 212.4h0M339.9 212.6h0M334.0 210.5h0M334.7 212.9h0M340.2 200.8h0M346.0 197.1h0M346.4 219.6h0M332.4 210.1h0M344.4 201.2h0M339.6 224.1h0M344.9 217.7h0M346.1 213.3h0M350.1 209.4h0M338.0 207.4h0M339.8 209.9h0M342.4 205.2h0M337.7 217.4h0M334.1 205.8h0M345.9 200.2h0M340.8 196.8h0M345.1 219.1h0M333.7 210.7h0M342.4 195.1h0M336.1 217.5h0M347.5 208.6h0M338.5 207.4h0M339.5 223.5h0M342.2 218.2h0M337.0 202.8h0M341.0 216.8h0M338.4 225.2h0M342.9 208.6h0M337.1 214.1h0M345.6 199.4h0M339.9 196.1h0M347.2 192.8h0M334.5 215.3h0" stroke="#d2ccc6" stroke-width="1.00" stroke-linecap="round" fill="none"/>
<path d="M348.7 199.1h0M339.2 193.7h0M333.8 200.4h0M335.7 201.4h0M343.8 210.9h0M344.9 202.4h0M349.2 213.1h0M337.6 202.6h0M348.3 210.4h0M347.7 192.6h0M336.7 193.6h0M338.4 210.3h0M332.7 201.2h0M334.4 193.0h0M335.2 219.3h0M337.0 201.8h0M337.7 221.6h0M337.0 208.1h0M337.3 196.0h0" stroke="#c4bdb6" stroke-width="1.00" stroke-linecap="round" fill="none"/>
<path d="M304.30,173.20 C305.20,171.57 306.73,171.62 308.00,171.00 C309.27,170.38 310.57,169.97 311.90,169.50 C313.23,169.03 314.62,168.48 316.00,168.20 C317.38,167.92 318.57,167.47 320.20,167.80 C321.83,168.13 323.95,169.23 325.80,170.20 C327.65,171.17 330.23,172.07 331.30,173.60 C332.37,175.13 332.53,177.03 332.20,179.40 C331.87,181.77 330.60,185.25 329.30,187.80 C328.00,190.35 325.57,192.38 324.40,194.70 C323.23,197.02 322.88,199.85 322.30,201.70 C321.72,203.55 321.18,203.72 320.90,205.80 C320.62,207.88 320.95,212.12 320.60,214.20 C320.25,216.28 319.78,217.80 318.80,218.30 C317.82,218.80 315.97,218.35 314.70,217.20 C313.43,216.05 311.67,213.30 311.20,211.40 C310.73,209.50 311.55,207.65 311.90,205.80 C312.25,203.95 313.42,202.15 313.30,200.30 C313.18,198.45 312.13,196.32 311.20,194.70 C310.27,193.08 308.75,191.98 307.70,190.60 C306.65,189.22 305.75,188.03 304.90,186.40 C304.05,184.77 302.70,183.00 302.60,180.80 C302.50,178.60 303.40,174.83 304.30,173.20 Z" fill="#c6beb6" fill-opacity="0.85"/>
<path d="M321.0 205.3h0M329.3 173.5h0M316.5 180.3h0M318.7 196.8h0M325.3 175.9h0M326.2 174.8h0M320.9 174.2h0M308.8 178.7h0M318.6 202.0h0M329.1 182.9h0M313.3 176.2h0M312.6 183.5h0M311.9 192.1h0M323.5 170.7h0M313.4 197.0h0M312.8 185.7h0M318.1 207.0h0M305.3 185.0h0M318.7 183.6h0M312.0 176.8h0M304.9 175.3h0M314.6 179.8h0M320.2 209.5h0M316.1 189.1h0M327.4 174.4h0M311.3 190.7h0M317.0 204.6h0M316.8 182.5h0M314.6 175.2h0M317.4 184.9h0M305.2 181.6h0M313.3 207.5h0M313.4 203.4h0M310.9 192.3h0M321.8 197.1h0M316.3 209.0h0M313.0 210.4h0M317.9 194.5h0M324.2 176.5h0M322.3 189.0h0M321.5 204.2h0M315.7 200.6h0M321.3 169.9h0M316.6 179.2h0M304.2 174.5h0M312.0 177.0h0M316.4 187.0h0M320.7 197.6h0M310.8 188.5h0M313.7 169.6h0M320.8 172.6h0M318.7 184.9h0M326.8 189.0h0M313.5 175.0h0M320.2 196.3h0M320.6 185.5h0M320.8 174.9h0M313.7 189.6h0M309.3 182.5h0M320.2 180.9h0M314.9 183.9h0M311.1 191.9h0M315.7 182.6h0M325.7 180.2h0M310.5 175.6h0M320.6 191.8h0M321.7 198.3h0M324.6 173.8h0M325.1 183.0h0M318.4 184.8h0M311.4 194.6h0M316.3 186.0h0M303.7 180.5h0M316.1 214.1h0M315.3 196.9h0M316.9 213.8h0M314.0 187.6h0M327.8 177.7h0M323.2 189.7h0M329.6 175.0h0M316.8 195.5h0M317.3 184.5h0M326.6 171.3h0M323.4 170.3h0M327.5 178.9h0M323.7 174.6h0M314.9 175.9h0M321.0 170.0h0M305.8 186.9h0M319.6 205.3h0M328.6 174.6h0M315.4 183.7h0M320.4 192.5h0M317.6 213.8h0M319.0 199.2h0M317.9 174.6h0M309.5 186.5h0M324.4 176.9h0M305.3 174.1h0M320.2 179.8h0M312.2 208.0h0M304.2 175.4h0M309.2 173.7h0M326.9 174.9h0M321.1 185.7h0M309.6 184.6h0M320.8 185.4h0M314.0 174.7h0M326.4 189.7h0M320.1 196.7h0M324.5 187.8h0M316.5 212.7h0M320.9 189.4h0M316.4 172.8h0M307.2 175.8h0M313.7 187.3h0M328.7 175.5h0M310.1 181.8h0M307.4 182.3h0M309.6 192.1h0M313.5 215.2h0M316.6 215.5h0M324.2 176.0h0M309.4 171.7h0M313.4 183.5h0M316.5 182.1h0M307.4 179.9h0M321.7 189.5h0M314.7 170.1h0M318.8 217.8h0M318.0 185.5h0" stroke="#f4f2f0" stroke-width="1.00" stroke-linecap="round" fill="none"/>
<path d="M309.7 170.4h0M310.1 188.5h0M314.8 194.8h0M328.5 178.7h0M316.6 197.1h0M311.9 190.2h0M306.7 183.9h0M327.0 183.7h0M309.3 172.3h0M309.8 170.8h0M308.4 182.4h0M315.1 183.1h0M315.1 208.1h0M314.2 174.5h0M311.1 170.4h0M307.2 185.0h0M320.3 179.7h0M319.9 209.4h0M318.2 176.0h0M306.5 183.6h0M315.6 189.0h0M318.2 216.6h0M327.9 189.4h0M316.6 212.5h0M310.4 177.8h0M324.6 180.3h0M314.7 174.6h0M304.3 176.8h0M329.4 177.5h0M317.9 197.8h0M311.1 187.2h0M318.1 208.6h0M322.7 194.3h0M304.5 185.4h0M324.1 183.1h0M323.8 170.8h0M329.7 179.8h0M313.6 176.0h0M313.8 172.8h0M324.0 186.5h0M311.0 180.7h0M325.8 179.4h0M323.7 189.1h0M329.3 183.7h0M331.4 177.3h0M319.4 198.5h0M319.9 199.8h0M311.4 209.9h0M305.7 177.7h0M305.9 173.1h0M313.4 190.3h0M319.1 187.2h0M312.5 202.4h0M310.9 173.8h0M313.2 182.5h0M311.7 184.4h0M305.2 181.8h0M314.4 215.2h0M325.6 186.1h0M316.0 187.1h0M316.0 191.8h0M317.0 171.0h0M316.0 197.4h0M322.2 169.7h0M315.3 211.1h0M315.4 216.9h0M314.7 181.6h0M322.6 174.5h0M320.4 175.7h0M308.0 190.2h0M314.0 207.4h0M305.0 173.1h0M312.5 191.3h0M323.6 174.6h0M314.4 192.7h0M310.8 189.7h0M313.3 193.5h0M311.7 176.1h0M315.4 204.9h0M329.2 182.6h0M306.1 185.5h0M308.9 190.8h0M313.1 175.0h0M324.8 180.5h0M314.1 199.9h0M329.3 176.8h0M319.9 173.1h0M320.9 178.9h0M316.8 200.1h0M327.6 173.5h0M307.1 179.8h0M308.6 172.4h0M315.0 199.0h0M322.1 189.9h0M306.3 181.3h0M322.4 188.2h0M311.3 173.7h0M328.5 180.7h0M331.0 173.3h0M313.9 199.6h0M314.8 184.5h0M323.9 188.4h0M312.3 176.6h0M319.7 182.8h0M316.4 172.8h0M319.1 172.0h0M314.4 181.2h0M314.3 178.3h0M314.2 199.6h0M315.2 213.9h0M310.2 190.9h0M306.3 177.4h0M307.0 176.5h0M310.7 186.0h0M312.2 197.3h0M311.1 184.5h0M315.3 188.7h0M330.9 183.1h0M314.9 209.7h0M324.1 192.7h0M326.1 175.8h0M318.7 192.2h0M321.7 187.0h0M322.0 196.6h0M315.4 182.8h0M319.6 206.3h0M304.6 180.7h0M324.8 173.3h0M326.3 191.9h0M321.1 203.5h0M332.3 178.1h0M305.8 186.6h0M315.0 175.9h0M322.6 179.0h0M314.0 169.3h0M325.7 188.3h0M315.6 177.7h0M328.0 186.6h0M313.3 175.1h0M307.0 189.3h0M319.1 215.8h0M325.2 191.5h0M318.1 176.6h0M326.7 180.2h0M320.1 172.1h0M312.2 210.7h0M322.5 174.0h0M320.9 169.8h0M315.6 175.9h0M310.1 182.7h0M330.5 182.8h0M312.5 177.9h0M316.3 211.9h0M311.3 180.7h0M313.2 192.9h0M315.6 200.7h0M314.4 174.8h0M311.2 185.9h0M307.8 190.2h0M307.2 184.1h0M314.6 207.0h0M314.4 211.1h0M316.4 182.2h0M315.2 198.9h0M321.5 180.1h0M317.6 212.9h0M304.7 179.1h0M309.4 190.9h0M312.0 180.4h0M325.9 181.0h0M304.4 176.1h0M313.9 196.9h0M310.4 191.0h0M310.4 186.3h0M319.8 184.3h0M326.0 182.8h0M320.3 179.3h0M309.1 177.7h0M316.5 211.3h0M304.4 177.3h0M312.0 191.7h0M320.4 201.2h0M316.4 198.0h0M315.9 196.3h0M317.7 182.8h0M307.5 187.9h0M312.9 202.8h0M309.8 181.7h0M310.0 192.1h0M316.9 193.8h0M320.1 170.0h0M313.0 198.5h0M321.0 170.6h0M317.0 193.5h0M315.9 215.5h0M322.1 194.2h0M321.6 202.9h0M326.2 171.5h0M311.8 206.5h0M316.9 192.2h0M312.3 193.1h0M329.8 182.6h0M319.0 213.1h0M310.5 186.2h0M307.1 182.6h0M312.9 181.0h0M316.4 173.7h0M328.6 183.8h0M303.4 180.9h0M316.6 213.6h0M311.1 172.2h0M316.5 183.3h0M310.1 189.4h0M317.8 201.3h0M313.7 175.3h0M322.6 185.2h0M317.5 178.0h0M309.3 179.9h0M308.7 189.7h0M317.9 208.2h0M329.2 182.8h0M304.2 181.1h0M322.5 170.1h0M307.2 179.1h0M311.1 188.4h0M305.4 177.0h0M320.7 191.4h0M308.4 179.0h0M312.8 189.4h0M317.9 175.7h0M313.0 183.4h0M317.3 192.0h0M321.2 196.9h0M308.4 188.9h0M322.9 184.5h0M312.8 188.9h0M323.6 178.9h0M319.6 201.2h0M321.2 204.3h0M324.4 184.5h0M316.4 195.9h0M304.3 173.0h0M316.9 189.2h0M317.6 205.4h0M320.1 174.1h0M313.2 173.6h0M325.7 187.9h0" stroke="#b8b0a8" stroke-width="1.00" stroke-linecap="round" fill="none"/>
<path d="M324.1 181.6h0M331.6 178.6h0M319.9 183.9h0M319.9 213.2h0M321.4 199.8h0M323.2 187.4h0M312.8 201.8h0M326.1 185.2h0M322.8 189.2h0M318.8 210.8h0M329.8 183.5h0M314.0 173.9h0M328.4 176.8h0M317.1 206.3h0M306.9 177.9h0M311.0 193.1h0M321.9 183.4h0M321.6 196.0h0M313.8 172.5h0M315.4 182.7h0M318.2 178.2h0M307.7 177.1h0M316.5 203.3h0M307.9 178.8h0M329.5 174.8h0M312.0 175.0h0M314.4 209.9h0M308.3 190.0h0M312.2 175.4h0M311.4 180.9h0M315.1 171.5h0M326.5 180.0h0M330.8 179.0h0M318.6 180.2h0M315.2 170.1h0M314.3 197.3h0M324.3 191.1h0M318.6 199.0h0M319.4 215.4h0M305.2 184.1h0M310.2 173.2h0M308.0 176.0h0M323.6 181.6h0M313.0 214.4h0M321.5 172.9h0M326.0 180.3h0M317.0 188.6h0M310.4 185.2h0M313.4 169.9h0M313.6 195.9h0M318.8 193.6h0M311.7 179.2h0M310.6 192.1h0M327.7 186.4h0M322.4 181.7h0M309.8 192.8h0M324.9 187.7h0M331.5 177.6h0M325.3 176.7h0M322.7 188.8h0M318.4 172.9h0M306.7 172.4h0M316.4 178.3h0M323.4 189.5h0M314.6 184.6h0M325.7 173.5h0M313.1 212.6h0M320.2 187.2h0M329.1 179.7h0M320.3 178.7h0M311.7 195.1h0M318.2 216.1h0M322.1 199.6h0M312.7 208.1h0M311.2 176.8h0M315.9 179.0h0M309.5 183.2h0M309.1 188.1h0M322.0 182.1h0M322.5 181.0h0M311.5 176.8h0M303.4 182.8h0" stroke="#d2ccc6" stroke-width="1.00" stroke-linecap="round" fill="none"/>
<path d="M328.6 176.6h0M310.7 205.1h0M317.4 186.2h0M305.8 176.4h0M308.5 172.2h0M311.4 186.1h0M309.1 178.1h0M318.1 216.8h0M310.6 183.4h0M315.9 189.4h0M318.9 211.8h0M311.5 177.8h0M315.5 170.8h0M322.9 185.2h0M319.4 169.3h0M320.6 201.2h0M318.7 187.0h0M321.2 184.1h0M322.8 168.7h0M325.0 181.9h0M317.6 185.4h0M309.3 177.3h0M313.5 174.6h0M309.0 187.9h0M306.9 179.3h0M319.8 177.9h0M318.9 198.5h0M316.7 208.7h0" stroke="#c4bdb6" stroke-width="1.00" stroke-linecap="round" fill="none"/>
<path d="M319.30,226.20 C319.63,225.40 320.88,224.93 322.00,224.80 C323.12,224.67 324.55,224.87 326.00,225.40 C327.45,225.93 330.00,226.97 330.70,228.00 C331.40,229.03 331.15,231.00 330.20,231.60 C329.25,232.20 326.70,231.93 325.00,231.60 C323.30,231.27 320.95,230.50 320.00,229.60 C319.05,228.70 318.97,227.00 319.30,226.20 Z" fill="#c6beb6" fill-opacity="0.85"/>
<path d="M328.3 230.4h0M324.8 226.6h0M324.7 230.0h0M323.6 230.0h0M322.4 230.3h0M327.6 227.6h0M325.4 229.4h0M321.5 228.6h0M328.5 229.5h0" stroke="#f4f2f0" stroke-width="1.00" stroke-linecap="round" fill="none"/>
<path d="M329.6 227.5h0M328.7 228.0h0M327.1 226.6h0M320.9 230.1h0M329.2 227.8h0M328.9 231.5h0M326.0 226.8h0M329.8 228.8h0M322.6 226.2h0M326.1 227.2h0M319.9 227.2h0M326.1 231.1h0M327.7 228.4h0M324.0 225.0h0M324.9 230.2h0M320.5 229.1h0M324.4 231.6h0" stroke="#b8b0a8" stroke-width="1.00" stroke-linecap="round" fill="none"/>
<path d="M329.2 229.8h0M324.3 226.2h0M327.5 225.4h0M325.5 227.5h0M328.3 231.2h0" stroke="#d2ccc6" stroke-width="1.00" stroke-linecap="round" fill="none"/>
<path d="M326.8 225.6h0" stroke="#c4bdb6" stroke-width="1.00" stroke-linecap="round" fill="none"/>
<path d="M335.50,176.50 C336.02,175.75 337.50,175.45 338.50,175.50 C339.50,175.55 341.05,175.97 341.50,176.80 C341.95,177.63 341.78,179.70 341.20,180.50 C340.62,181.30 338.97,181.68 338.00,181.60 C337.03,181.52 335.82,180.85 335.40,180.00 C334.98,179.15 334.98,177.25 335.50,176.50 Z" fill="#c6beb6" fill-opacity="0.8"/>
<path d="M338.2 177.8h0M338.8 179.3h0M335.6 177.8h0M339.7 178.3h0" stroke="#f4f2f0" stroke-width="1.00" stroke-linecap="round" fill="none"/>
<path d="M339.8 176.7h0M337.8 180.7h0M338.0 180.3h0M339.3 180.0h0M336.9 177.6h0M338.2 178.6h0M338.2 175.8h0M336.1 178.8h0" stroke="#b8b0a8" stroke-width="1.00" stroke-linecap="round" fill="none"/>
<path d="M337.8 181.5h0M338.9 175.9h0" stroke="#d2ccc6" stroke-width="1.00" stroke-linecap="round" fill="none"/>
<path d="M335.1 178.4h0" stroke="#c4bdb6" stroke-width="1.00" stroke-linecap="round" fill="none"/>
<path d="M338.00,181.50 C338.70,180.75 340.75,181.25 342.00,180.50 C343.25,179.75 344.53,177.33 345.50,177.00 C346.47,176.67 347.45,177.33 347.80,178.50 C348.15,179.67 347.82,182.08 347.60,184.00 C347.38,185.92 347.27,188.92 346.50,190.00 C345.73,191.08 344.08,190.67 343.00,190.50 C341.92,190.33 340.87,189.92 340.00,189.00 C339.13,188.08 338.13,186.25 337.80,185.00 C337.47,183.75 337.30,182.25 338.00,181.50 Z" fill="#c6beb6" fill-opacity="0.8"/>
<path d="M343.5 182.8h0M343.6 179.8h0M345.9 188.1h0M344.3 179.2h0M343.0 181.4h0M346.4 185.1h0M341.6 180.8h0M344.5 183.2h0M344.7 185.9h0M339.1 187.4h0M347.2 181.1h0M341.5 189.1h0M340.9 184.4h0M343.6 188.4h0" stroke="#f4f2f0" stroke-width="1.00" stroke-linecap="round" fill="none"/>
<path d="M342.5 187.6h0M346.0 178.8h0M346.0 179.0h0M347.0 183.0h0M340.6 185.5h0M344.4 187.6h0M342.0 182.9h0M341.5 181.5h0M344.1 181.8h0M340.7 183.8h0M342.3 183.5h0M343.4 184.3h0M342.1 190.1h0M339.4 183.1h0M341.9 182.9h0M344.9 188.7h0M344.5 189.6h0M343.6 185.8h0M346.5 182.4h0M342.0 187.7h0M345.8 189.9h0M343.7 178.3h0M340.0 181.9h0M342.3 186.5h0M341.7 185.8h0M341.2 185.2h0M344.3 188.3h0M338.6 182.8h0" stroke="#b8b0a8" stroke-width="1.00" stroke-linecap="round" fill="none"/>
<path d="M340.4 182.2h0M339.8 186.3h0M339.8 183.9h0M341.8 183.1h0M344.9 186.0h0M346.9 190.0h0M341.0 180.4h0M345.9 190.8h0M346.6 179.3h0" stroke="#d2ccc6" stroke-width="1.00" stroke-linecap="round" fill="none"/>
<path d="M343.8 184.4h0M345.2 190.3h0M341.9 189.8h0" stroke="#c4bdb6" stroke-width="1.00" stroke-linecap="round" fill="none"/>
<path d="M318.40,149.20 C318.83,148.68 319.93,148.87 320.40,149.30 C320.87,149.73 320.70,151.05 321.20,151.80 C321.70,152.55 323.17,153.00 323.40,153.80 C323.63,154.60 323.07,155.97 322.60,156.60 C322.13,157.23 321.13,157.93 320.60,157.60 C320.07,157.27 319.87,155.47 319.40,154.60 C318.93,153.73 317.97,153.30 317.80,152.40 C317.63,151.50 317.97,149.72 318.40,149.20 Z" fill="#c6beb6" fill-opacity="0.6"/>
<path d="M319.6 150.5h0M320.8 152.3h0" stroke="#f4f2f0" stroke-width="1.00" stroke-linecap="round" fill="none"/>
<path d="M320.4 156.4h0M320.9 157.0h0M318.3 151.0h0M321.2 152.3h0" stroke="#b8b0a8" stroke-width="1.00" stroke-linecap="round" fill="none"/>
<path d="M317.8 150.3h0" stroke="#d2ccc6" stroke-width="1.00" stroke-linecap="round" fill="none"/>
<path d="M374.50,152.00 C375.07,150.88 376.95,150.42 378.00,150.30 C379.05,150.18 380.43,150.52 380.80,151.30 C381.17,152.08 380.80,153.97 380.20,155.00 C379.60,156.03 377.90,156.37 377.20,157.50 C376.50,158.63 376.53,161.18 376.00,161.80 C375.47,162.42 374.23,162.00 374.00,161.20 C373.77,160.40 374.52,158.53 374.60,157.00 C374.68,155.47 373.93,153.12 374.50,152.00 Z" fill="#d8d4cf" fill-opacity="0.7"/>
<path d="M375.9 161.7h0M374.8 153.1h0M378.0 155.7h0M375.5 160.0h0M376.5 152.5h0M376.3 158.3h0M374.9 160.9h0M379.6 154.1h0M375.3 159.4h0M375.0 152.0h0M374.0 160.7h0M375.8 153.1h0M375.4 155.6h0M379.9 152.4h0M375.4 159.2h0M379.4 154.5h0M375.3 155.1h0M378.1 153.7h0" stroke="#5cb040" stroke-width="1.40" stroke-linecap="round" fill="none"/>
<path d="M374.3 156.9h0M376.6 156.5h0M379.8 152.6h0M375.1 161.5h0M377.9 156.1h0M374.6 157.0h0M378.6 156.0h0M375.4 152.6h0M377.9 150.9h0M378.9 153.1h0M374.5 153.4h0M379.5 153.5h0" stroke="#bdb5ae" stroke-width="1.00" stroke-linecap="round" fill="none"/>
<path d="M336.3 156.7h0M347.7 153.7h0M337.6 157.6h0M340.6 164.2h0M327.7 148.5h0M342.1 140.1h0M341.2 158.5h0M338.1 140.7h0M330.0 146.5h0M336.0 165.8h0M337.9 159.3h0M337.4 160.0h0M336.4 147.7h0M345.6 161.4h0" stroke="#6cb850" stroke-width="1.20" stroke-linecap="round" fill="none"/>
<path d="M356.3 144.5h0M358.7 138.3h0M353.9 146.3h0M359.0 143.8h0M357.4 144.5h0M352.3 141.9h0M351.4 144.8h0M354.6 141.5h0M356.8 137.7h0" stroke="#6cb850" stroke-width="1.20" stroke-linecap="round" fill="none"/>
<path d="M355.3 188.8h0M353.1 164.3h0M352.0 164.0h0M368.9 158.8h0M363.1 163.4h0M356.3 175.1h0M371.9 184.7h0M352.0 198.8h0M355.2 197.7h0M361.8 192.6h0M364.0 175.0h0M358.3 175.0h0M363.8 192.2h0M351.7 188.3h0M360.6 161.3h0M353.6 180.0h0M355.1 176.6h0M365.2 173.2h0M351.6 178.3h0M354.6 164.5h0M353.4 171.6h0M349.9 187.0h0M375.3 172.8h0M366.2 160.4h0M359.7 198.7h0M353.6 197.9h0" stroke="#6cb850" stroke-width="1.20" stroke-linecap="round" fill="none"/>
<path d="M332.8 215.0h0M344.2 223.6h0M336.3 198.8h0M345.9 213.4h0M336.9 214.3h0M338.9 217.7h0M333.1 197.6h0M349.4 202.5h0M336.0 218.7h0M343.8 194.9h0M342.1 213.6h0M334.0 213.2h0M333.2 201.7h0M343.3 221.2h0M345.0 193.5h0M342.9 212.5h0" stroke="#6cb850" stroke-width="1.20" stroke-linecap="round" fill="none"/>
<path d="M329.3 229.4h0M329.1 231.6h0M322.0 227.1h0" stroke="#6cb850" stroke-width="1.20" stroke-linecap="round" fill="none"/>
<path d="M321.6 191.4h0M318.1 193.3h0M310.0 179.5h0M315.8 195.7h0M313.8 190.6h0M317.3 192.4h0M320.7 196.1h0M313.0 198.0h0M314.4 201.8h0M313.8 180.4h0M310.3 182.6h0M325.1 191.9h0M320.6 189.1h0M318.9 181.8h0M319.9 200.2h0M306.9 172.6h0M312.3 192.9h0M314.3 203.8h0M311.5 193.2h0M320.7 193.4h0M323.9 194.6h0M325.6 190.5h0M315.5 194.1h0M315.6 179.8h0M317.3 192.3h0M315.1 198.6h0M311.7 187.5h0M325.1 191.0h0M308.6 184.5h0M310.4 187.0h0M320.7 182.2h0M323.2 179.9h0M311.6 190.9h0M317.9 170.5h0M320.8 191.8h0M313.2 182.8h0M317.3 202.3h0M314.5 202.7h0M326.8 178.9h0M313.0 198.3h0M328.5 186.2h0M315.0 196.9h0M305.9 179.5h0M309.8 189.5h0M318.7 190.6h0M313.5 187.3h0M308.6 178.9h0M315.8 187.2h0M313.9 179.7h0M310.8 178.8h0M314.0 177.8h0M320.5 190.1h0M321.1 200.4h0M321.5 191.5h0M315.9 178.9h0M312.5 184.4h0M327.5 178.9h0M323.3 195.5h0M311.2 184.3h0M318.0 175.6h0M311.3 171.8h0M306.8 183.1h0M309.0 186.9h0M321.0 191.9h0M317.5 183.9h0M315.4 178.6h0M315.7 205.2h0M316.9 184.2h0M312.5 187.3h0M321.3 181.1h0M317.9 203.1h0M315.6 201.6h0M311.1 190.5h0M308.2 185.4h0M311.2 180.9h0M311.8 189.7h0M316.4 203.2h0M324.0 192.8h0M319.3 186.4h0M325.4 179.1h0M314.5 184.0h0M308.4 180.6h0M322.0 191.4h0M320.8 204.9h0M315.1 195.5h0M321.4 200.4h0M323.8 193.5h0M309.4 189.0h0M315.2 168.7h0M313.2 186.7h0M309.6 176.9h0M307.5 187.9h0M322.0 190.3h0M308.2 173.7h0M321.8 195.6h0M324.6 188.0h0M309.9 186.0h0M314.4 200.2h0M326.9 188.8h0M308.2 185.8h0M312.4 179.1h0M320.8 194.5h0M317.2 189.0h0M320.6 204.8h0M313.4 185.3h0M318.8 197.0h0M314.4 194.2h0M322.0 200.5h0M317.0 181.1h0M306.7 185.3h0M314.3 178.9h0M312.6 196.0h0M321.2 196.7h0M320.8 197.2h0M315.6 194.3h0M315.2 181.3h0M310.2 191.7h0M324.0 184.8h0M322.2 192.2h0M317.8 198.9h0M313.2 196.6h0M313.6 201.9h0M320.8 187.9h0M316.8 198.0h0M319.4 200.1h0M321.1 199.3h0M307.8 185.6h0M318.9 190.3h0M312.3 191.6h0M318.8 189.1h0M305.6 185.3h0M313.1 189.9h0M313.2 198.3h0M304.5 182.9h0M314.7 200.8h0M321.3 194.6h0M316.5 185.9h0M326.6 183.5h0M323.7 171.1h0M318.4 198.9h0M316.4 185.5h0M313.9 204.2h0M327.5 188.7h0M313.7 179.2h0M319.9 187.0h0M310.2 181.2h0M305.5 184.1h0M311.2 179.0h0M323.5 191.8h0M326.7 188.1h0M319.6 194.9h0M313.0 178.6h0M318.8 191.1h0M318.8 179.4h0M321.0 190.4h0M304.9 185.3h0M309.1 181.9h0M316.7 198.1h0M302.9 177.4h0M304.6 180.2h0M328.6 176.6h0M325.0 190.6h0M324.3 191.2h0M331.1 176.3h0M314.3 198.9h0M315.9 193.8h0M307.7 188.8h0M315.3 187.5h0M313.8 191.5h0M314.5 190.4h0M307.9 183.8h0M321.2 169.0h0M321.7 188.8h0M319.3 172.9h0M312.0 189.7h0M326.4 191.8h0M316.2 196.6h0M306.7 177.0h0M316.0 202.8h0M317.4 170.4h0M320.6 193.4h0M317.0 203.1h0M326.7 189.2h0M316.7 186.7h0M332.4 178.3h0M311.7 178.8h0M318.2 179.0h0M313.5 205.2h0M316.6 194.9h0M313.5 193.8h0" stroke="#e3201c" stroke-width="1.40" stroke-linecap="round" fill="none"/>
<path d="M315.6 169.0h0M320.2 179.4h0M312.5 174.6h0M324.7 173.8h0M316.4 213.4h0M317.8 200.9h0M320.7 183.9h0M310.8 171.8h0M321.8 195.2h0M324.9 182.5h0M310.8 186.0h0M315.5 170.5h0M322.1 190.0h0M325.7 190.6h0M309.0 173.3h0M306.9 185.3h0M319.1 198.6h0M305.9 175.4h0M323.7 191.0h0M322.2 180.5h0M326.7 181.5h0M304.8 173.8h0M322.7 189.3h0M324.5 186.5h0M314.9 175.5h0M331.6 176.4h0M318.7 177.4h0M307.2 171.9h0M317.8 178.8h0M321.9 171.2h0M312.5 189.0h0M318.7 169.4h0M307.3 172.8h0M325.1 172.9h0M314.9 199.7h0M323.0 179.3h0M310.8 177.5h0M323.9 189.9h0M312.1 209.8h0M321.7 187.9h0" stroke="#5cb040" stroke-width="1.30" stroke-linecap="round" fill="none"/>
<path d="M310.7 181.0h0M318.8 182.6h0M316.0 184.0h0M317.2 199.5h0M321.8 197.9h0M325.4 193.1h0M311.2 193.1h0M318.9 203.3h0M318.7 198.6h0M319.5 204.9h0M312.2 185.4h0M318.9 201.5h0M304.1 183.5h0M313.4 201.5h0" stroke="#f0a020" stroke-width="1.20" stroke-linecap="round" fill="none"/>
<path d="M334.5 193.9h0M344.2 202.0h0M349.2 197.9h0M343.2 223.3h0M344.9 223.0h0" stroke="#e3201c" stroke-width="1.40" stroke-linecap="round" fill="none"/>
<path d="M319.2 150.2h0M344.5 173.0h0M342.2 175.5h0M346.0 178.5h0M330.0 185.3h0M331.2 186.3h0M329.6 186.6h0M334.5 196.3h0M332.4 184.8h0" stroke="#e3201c" stroke-width="1.60" stroke-linecap="round" fill="none"/>
<path d="M328.8 191.0h0M344.8 172.6h0" stroke="#f0a020" stroke-width="1.40" stroke-linecap="round" fill="none"/>
</g>
<clipPath id="fb"><rect x="299.8" y="236.8" width="82.5" height="100.6"/></clipPath>
<g clip-path="url(#fb)">
<path d="M359.50,244.50 C359.50,243.63 361.17,242.97 362.00,242.80 C362.83,242.63 363.50,243.05 364.50,243.50 C365.50,243.95 366.75,245.08 368.00,245.50 C369.25,245.92 370.60,245.42 372.00,246.00 C373.40,246.58 375.73,247.75 376.40,249.00 C377.07,250.25 376.60,252.13 376.00,253.50 C375.40,254.87 374.13,256.18 372.80,257.20 C371.47,258.22 369.30,259.47 368.00,259.60 C366.70,259.73 365.67,259.10 365.00,258.00 C364.33,256.90 364.50,254.67 364.00,253.00 C363.50,251.33 362.75,249.42 362.00,248.00 C361.25,246.58 359.50,245.37 359.50,244.50 Z" fill="#d6cfca" fill-opacity="0.45"/>
<path d="M359.3 245.0h0M361.9 245.3h0M367.6 250.9h0M375.5 249.9h0M362.7 246.2h0M366.1 245.3h0M374.3 254.4h0M371.7 245.9h0M364.7 248.9h0M364.4 245.5h0M370.0 254.7h0M375.1 253.7h0M366.6 256.5h0M361.2 246.5h0M373.3 250.8h0M363.8 248.7h0M360.5 245.1h0M372.6 246.1h0M365.9 247.6h0M363.1 245.8h0M371.5 251.3h0M367.8 255.0h0M371.5 253.1h0M364.6 249.5h0M372.4 256.8h0M365.8 249.2h0M362.5 246.8h0M366.0 255.9h0M369.2 250.9h0M364.6 245.9h0M364.5 250.8h0M365.7 256.3h0M369.3 249.3h0M369.4 256.9h0M361.9 248.9h0M371.1 251.3h0M365.8 254.1h0M366.5 257.2h0M371.7 248.2h0M361.8 243.7h0M366.2 251.9h0M366.4 250.9h0M371.9 248.6h0M369.0 258.4h0M366.3 258.1h0M367.4 249.0h0M374.3 249.8h0M366.6 244.7h0M365.5 247.4h0M366.6 248.4h0M370.9 248.8h0M368.3 251.4h0M369.9 247.7h0M371.9 252.5h0M368.8 252.5h0M368.3 255.8h0M363.7 243.9h0M375.3 250.6h0M367.0 245.9h0M373.7 249.3h0M372.9 248.4h0M362.8 244.9h0M371.2 255.0h0M370.3 247.8h0M365.7 246.0h0M364.3 244.3h0M374.3 254.5h0M369.5 258.6h0M371.8 257.9h0M375.4 252.8h0M374.6 253.9h0M365.4 246.3h0M367.1 255.1h0M365.6 256.2h0M369.5 253.9h0M369.0 255.7h0M366.9 245.3h0M370.5 247.6h0M371.8 253.8h0M365.9 250.5h0" stroke="#c4bcb6" stroke-width="1.10" stroke-linecap="round" fill="none"/>
<path d="M375.6 250.7h0M371.0 255.8h0M369.7 249.1h0M363.8 244.0h0M370.8 251.0h0M364.6 250.2h0M372.3 249.2h0M361.0 244.0h0M373.5 247.7h0M360.3 245.6h0M368.6 257.6h0M363.3 250.7h0" stroke="#d8a8a8" stroke-width="1.10" stroke-linecap="round" fill="none"/>
<path d="M368.9 246.3h0M375.2 251.0h0M369.8 247.4h0M373.1 250.9h0M370.7 249.1h0M364.3 246.9h0M369.0 250.4h0M363.7 250.4h0M366.5 255.1h0M370.2 251.8h0M371.3 246.8h0M369.4 251.6h0" stroke="#c4bcb6" stroke-width="1.00" stroke-linecap="round" fill="none"/>
<path d="M338.20,259.50 C338.80,258.10 339.87,257.88 341.00,257.60 C342.13,257.32 343.75,257.53 345.00,257.80 C346.25,258.07 347.53,258.33 348.50,259.20 C349.47,260.07 350.35,261.53 350.80,263.00 C351.25,264.47 351.42,266.33 351.20,268.00 C350.98,269.67 350.37,271.63 349.50,273.00 C348.63,274.37 347.42,275.62 346.00,276.20 C344.58,276.78 342.30,276.95 341.00,276.50 C339.70,276.05 338.80,275.25 338.20,273.50 C337.60,271.75 337.40,268.33 337.40,266.00 C337.40,263.67 337.60,260.90 338.20,259.50 Z" fill="#c6beb6" fill-opacity="0.8"/>
<path d="M338.5 261.6h0M341.6 274.6h0M344.2 271.2h0M338.8 267.2h0M349.0 267.5h0M347.8 260.0h0M349.0 273.4h0M338.5 259.9h0M342.3 260.7h0M341.7 275.2h0M339.7 273.0h0M347.6 268.3h0M345.3 272.2h0M345.5 261.9h0M341.9 262.2h0M342.9 276.3h0M343.3 258.9h0M344.0 273.0h0M343.5 270.9h0M346.5 258.5h0M341.6 264.9h0M340.1 258.3h0M344.2 275.6h0M349.3 269.3h0M344.6 267.2h0M340.5 264.7h0M347.4 261.3h0M349.1 267.2h0M345.7 273.1h0M346.3 260.2h0M345.6 275.9h0M348.2 263.6h0M343.7 259.2h0" stroke="#f4f2f0" stroke-width="1.00" stroke-linecap="round" fill="none"/>
<path d="M341.7 260.9h0M339.9 272.1h0M350.0 264.6h0M347.4 269.9h0M340.2 263.2h0M339.6 266.3h0M341.0 268.1h0M350.5 266.9h0M346.6 258.3h0M344.9 260.1h0M341.5 271.1h0M341.7 258.0h0M339.7 258.2h0M342.2 266.1h0M339.3 263.1h0M338.8 265.9h0M342.0 275.5h0M339.0 268.5h0M339.1 267.2h0M340.5 276.4h0M343.7 260.0h0M348.3 269.0h0M344.5 266.9h0M349.0 267.5h0M349.6 271.0h0M338.2 263.7h0M347.0 269.1h0M345.5 263.1h0M348.7 262.4h0M346.7 273.9h0M345.3 264.5h0M340.0 269.4h0M348.5 271.4h0M339.1 260.6h0M339.2 260.2h0M345.2 265.5h0M339.0 273.0h0M339.3 271.4h0M339.1 267.7h0M343.3 259.8h0M348.0 260.4h0M340.3 261.8h0M344.5 259.1h0M343.9 261.3h0M342.6 259.7h0M339.0 270.0h0M344.6 273.0h0M341.2 260.2h0M341.2 264.5h0M341.2 273.7h0M342.9 276.0h0M338.7 264.1h0M338.6 261.4h0M338.7 261.0h0M346.2 264.7h0M343.5 264.3h0M343.4 276.0h0M347.4 270.0h0M338.5 266.7h0M348.7 262.3h0M338.7 268.8h0M338.8 269.5h0M343.9 272.2h0" stroke="#b8b0a8" stroke-width="1.00" stroke-linecap="round" fill="none"/>
<path d="M344.0 265.0h0M342.9 267.5h0M347.8 262.4h0M341.3 265.2h0M340.8 266.8h0M339.3 267.5h0M344.8 273.1h0M345.7 263.4h0M344.7 262.0h0M346.3 274.0h0M348.2 273.2h0M340.0 263.5h0M347.2 268.8h0M351.0 269.9h0M343.9 263.8h0M345.5 263.6h0M349.0 269.9h0M348.6 266.0h0M342.0 259.7h0M341.0 275.1h0M349.3 268.5h0" stroke="#d2ccc6" stroke-width="1.00" stroke-linecap="round" fill="none"/>
<path d="M350.8 264.3h0M344.8 261.0h0M340.2 271.5h0M341.5 270.6h0M343.6 270.1h0M340.3 266.3h0M343.0 260.6h0" stroke="#c4bdb6" stroke-width="1.00" stroke-linecap="round" fill="none"/>
<path d="M341.0 272.7h0M348.0 273.6h0M349.5 269.3h0M348.2 269.4h0M342.7 275.7h0M340.1 272.6h0M345.7 272.7h0M346.6 274.3h0M344.1 273.9h0" stroke="#e3201c" stroke-width="1.40" stroke-linecap="round" fill="none"/>
<path d="M343.7 274.1h0M345.5 268.6h0M338.2 263.6h0" stroke="#5cb040" stroke-width="1.40" stroke-linecap="round" fill="none"/>
<path d="M313.00,265.00 C313.72,263.77 315.50,263.05 317.00,262.60 C318.50,262.15 320.25,262.20 322.00,262.30 C323.75,262.40 326.33,262.33 327.50,263.20 C328.67,264.07 329.17,265.90 329.00,267.50 C328.83,269.10 327.83,271.45 326.50,272.80 C325.17,274.15 322.75,275.32 321.00,275.60 C319.25,275.88 317.38,275.43 316.00,274.50 C314.62,273.57 313.20,271.58 312.70,270.00 C312.20,268.42 312.28,266.23 313.00,265.00 Z" fill="#d6cfca" fill-opacity="0.3"/>
<path d="M322.1 270.4h0M323.6 274.0h0M322.2 270.5h0M321.9 268.0h0M317.5 266.4h0M321.8 272.5h0M327.7 269.5h0M317.9 264.7h0M314.7 266.9h0M312.7 269.7h0M316.6 264.0h0M325.1 269.9h0M315.0 266.6h0M315.7 264.5h0M319.7 266.9h0M317.3 263.3h0M325.5 263.7h0M321.2 269.1h0M323.5 264.5h0M322.0 272.1h0M321.8 265.0h0M319.9 263.1h0M318.3 264.4h0M322.3 265.6h0M320.6 272.7h0M324.1 270.0h0M322.9 272.1h0M316.8 269.9h0M326.0 269.9h0M319.5 274.3h0M325.5 273.0h0M318.6 272.0h0M323.1 266.9h0M317.9 269.0h0M314.2 265.2h0M319.6 263.5h0M320.2 270.9h0M313.8 267.0h0M318.2 273.4h0M318.9 265.7h0M329.5 267.7h0M318.4 273.2h0M325.8 268.7h0M326.8 263.1h0M315.2 274.4h0M317.9 271.7h0M317.3 270.9h0M320.6 268.1h0M315.5 265.3h0M319.2 269.1h0M325.4 264.0h0M323.0 262.5h0M326.9 269.8h0M320.5 269.6h0M320.6 266.3h0M316.2 266.5h0M318.5 272.9h0M325.0 265.1h0M317.4 269.5h0M318.8 264.0h0M321.9 265.4h0M322.5 273.9h0M319.0 266.7h0M324.0 263.3h0M327.0 268.0h0M316.9 265.6h0M321.5 271.8h0M320.2 267.8h0M324.7 264.8h0M318.7 266.7h0" stroke="#c4bcb6" stroke-width="1.10" stroke-linecap="round" fill="none"/>
<path d="M322.3 266.4h0M322.3 263.1h0M321.4 270.1h0M317.9 273.8h0M319.4 264.5h0M322.9 266.1h0M315.4 269.4h0" stroke="#e3201c" stroke-width="1.40" stroke-linecap="round" fill="none"/>
<path d="M303.20,283.20 C303.53,282.10 304.78,280.77 306.00,280.00 C307.22,279.23 309.20,278.52 310.50,278.60 C311.80,278.68 313.38,279.52 313.80,280.50 C314.22,281.48 313.97,283.42 313.00,284.50 C312.03,285.58 309.50,286.65 308.00,287.00 C306.50,287.35 304.80,287.23 304.00,286.60 C303.20,285.97 302.87,284.30 303.20,283.20 Z" fill="#d6cfca" fill-opacity="0.5"/>
<path d="M309.1 283.1h0M312.8 281.6h0M308.6 280.2h0M311.5 285.0h0M306.1 282.9h0M313.0 283.4h0M306.2 280.3h0M309.1 282.0h0M311.8 283.0h0M306.3 286.0h0M311.5 281.4h0M307.8 282.6h0M305.9 281.2h0M304.2 283.1h0M312.7 281.1h0M310.0 286.1h0M306.8 280.9h0M306.7 282.2h0M309.6 280.8h0M306.5 282.7h0M309.0 285.4h0M307.2 285.4h0M308.2 283.4h0M311.4 284.2h0M312.1 283.6h0M307.3 282.5h0M304.9 281.9h0M308.5 280.0h0M306.5 283.9h0M310.8 283.8h0M308.2 286.1h0M313.2 281.3h0M310.4 279.0h0M312.8 283.2h0" stroke="#c4bcb6" stroke-width="1.10" stroke-linecap="round" fill="none"/>
<path d="M309.2 285.7h0M307.8 283.7h0M305.0 282.3h0M304.2 282.5h0" stroke="#e3201c" stroke-width="1.40" stroke-linecap="round" fill="none"/>
<path d="M311.1 279.0h0M310.4 282.0h0" stroke="#5cb040" stroke-width="1.40" stroke-linecap="round" fill="none"/>
<path d="M336.00,277.50 C337.32,277.00 339.92,276.08 342.00,276.00 C344.08,275.92 346.92,275.83 348.50,277.00 C350.08,278.17 350.58,280.83 351.50,283.00 C352.42,285.17 352.72,287.67 354.00,290.00 C355.28,292.33 357.65,295.12 359.20,297.00 C360.75,298.88 362.78,299.63 363.30,301.30 C363.82,302.97 363.12,304.72 362.30,307.00 C361.48,309.28 360.02,312.38 358.40,315.00 C356.78,317.62 354.58,321.07 352.60,322.70 C350.62,324.33 348.77,324.47 346.50,324.80 C344.23,325.13 341.45,324.87 339.00,324.70 C336.55,324.53 334.08,323.97 331.80,323.80 C329.52,323.63 327.68,324.53 325.30,323.70 C322.92,322.87 319.12,320.92 317.50,318.80 C315.88,316.68 315.92,313.40 315.60,311.00 C315.28,308.60 315.43,306.67 315.60,304.40 C315.77,302.13 315.87,299.22 316.60,297.40 C317.33,295.58 318.87,294.48 320.00,293.50 C321.13,292.52 322.15,292.33 323.40,291.50 C324.65,290.67 326.20,289.47 327.50,288.50 C328.80,287.53 330.10,287.28 331.20,285.70 C332.30,284.12 333.30,280.37 334.10,279.00 C334.90,277.63 334.68,278.00 336.00,277.50 Z" fill="#ece4e1" fill-opacity="0.45"/>
<path d="M351.0 322.1h0M343.6 312.6h0M349.9 294.1h0M326.9 292.1h0M361.6 300.5h0M344.0 321.9h0M355.7 309.1h0M356.2 298.4h0M316.8 308.3h0M351.3 290.4h0M333.8 301.4h0M345.3 290.8h0M318.8 303.7h0M357.4 306.8h0M332.9 319.0h0M341.5 313.9h0M334.0 288.4h0M334.0 313.3h0M345.5 318.4h0M332.9 297.5h0M333.7 294.0h0M336.0 292.6h0M337.5 282.1h0M343.3 281.4h0M343.2 286.8h0M333.0 313.5h0M323.8 298.0h0M324.5 297.6h0M338.3 283.0h0M327.7 301.8h0M342.9 301.8h0M329.5 299.7h0M339.1 298.6h0M338.0 283.7h0M348.6 279.6h0M327.5 315.2h0M321.5 314.3h0M339.0 292.1h0M338.2 309.5h0M334.0 287.3h0M353.0 304.8h0M351.2 315.2h0M342.5 287.5h0M338.7 314.2h0M354.2 301.4h0M317.1 304.1h0M334.0 289.6h0M361.5 304.2h0M354.8 316.6h0M341.6 276.0h0M338.8 285.8h0M335.5 287.7h0M319.2 308.6h0M354.7 310.5h0M351.5 312.2h0M328.0 298.0h0M337.6 283.2h0M347.9 303.1h0M334.8 301.9h0M338.6 304.6h0M340.8 320.7h0M337.8 304.5h0M343.1 320.7h0M343.6 283.8h0M348.2 289.2h0M330.1 296.8h0M337.6 291.5h0M358.7 297.4h0M339.4 311.3h0M344.5 283.7h0M341.9 276.3h0M337.2 324.4h0M335.2 298.7h0M330.7 289.8h0M353.1 320.6h0M344.4 276.7h0M324.8 295.9h0M349.2 291.1h0M337.4 306.0h0M350.5 299.1h0M353.6 299.5h0M324.5 317.4h0M324.9 294.8h0M352.4 310.0h0M330.8 301.6h0M347.9 311.1h0M341.1 285.6h0M331.2 301.4h0M337.6 303.3h0M323.8 299.4h0M332.8 312.8h0M345.1 298.8h0M323.7 302.4h0M344.5 320.3h0M337.5 324.3h0M338.1 289.8h0M360.5 299.8h0M317.1 314.7h0M329.3 314.6h0M350.4 294.9h0M349.8 292.9h0M333.5 289.2h0M317.4 298.2h0M336.7 284.2h0M327.1 303.2h0M354.3 315.5h0M346.7 314.8h0M319.4 309.0h0M348.1 304.1h0M343.4 286.3h0M348.9 299.6h0M332.7 298.5h0M345.6 310.9h0M318.5 296.8h0M345.6 323.9h0M326.0 301.7h0M351.6 320.4h0M338.3 293.8h0M333.6 304.4h0M331.0 291.6h0M318.4 301.1h0M346.6 278.6h0M330.2 322.3h0M344.8 304.8h0M334.7 291.4h0M317.3 298.0h0M347.2 290.8h0M348.6 280.9h0M336.7 286.9h0M329.8 315.1h0M349.8 294.7h0M349.7 293.6h0M326.8 301.7h0M317.6 312.2h0M334.6 289.3h0M350.4 299.5h0M337.8 283.3h0M337.7 280.0h0M348.0 320.8h0M347.5 296.3h0M322.7 299.3h0M328.9 293.5h0M350.8 286.0h0M344.9 319.3h0M331.0 292.7h0M359.9 301.5h0M348.7 308.4h0M325.5 296.2h0M347.5 282.2h0M321.2 300.9h0M319.0 312.3h0M351.0 299.0h0M339.4 279.6h0M340.2 293.4h0M349.4 291.3h0M329.1 293.4h0M351.5 296.3h0M330.6 316.1h0M325.3 308.7h0M343.7 314.7h0M330.7 299.8h0M326.3 313.8h0M321.9 313.1h0M358.3 299.9h0M342.7 316.9h0M342.1 313.8h0M355.7 303.9h0M323.2 313.2h0M336.2 284.8h0M346.7 284.5h0M342.7 283.7h0M330.8 298.3h0M341.9 293.2h0M343.5 291.7h0M326.7 292.2h0M348.8 300.1h0M345.5 293.7h0M336.3 314.4h0M359.0 310.1h0M324.4 319.5h0M327.3 289.7h0M353.8 321.0h0M332.5 297.0h0M354.3 315.0h0M332.7 302.1h0M339.8 289.5h0M331.9 288.4h0M344.0 292.7h0M342.2 308.4h0M325.8 303.4h0M323.6 290.5h0M351.2 302.2h0M329.6 308.3h0M340.2 319.8h0M345.8 322.0h0M352.9 292.7h0M356.3 312.2h0M347.6 287.1h0M344.4 287.8h0M360.7 308.7h0M320.0 301.9h0M355.8 312.4h0M331.8 297.2h0M350.7 283.6h0M347.8 315.2h0M344.9 285.6h0M358.4 298.4h0M337.2 305.4h0M332.4 286.6h0M355.3 308.5h0M334.5 319.8h0M343.7 295.7h0M348.6 316.0h0M341.1 277.7h0M335.1 311.9h0M338.8 313.3h0M325.3 312.2h0M344.5 305.3h0M317.0 303.8h0M335.9 315.2h0M342.6 316.8h0M358.5 301.6h0M357.3 296.9h0M348.7 286.2h0M334.2 307.7h0M326.4 299.1h0M356.4 298.4h0M343.9 282.1h0M336.4 284.4h0M344.9 280.8h0M331.3 318.4h0M347.2 290.1h0M325.5 301.7h0M341.6 277.8h0M332.3 316.7h0M345.0 320.3h0M358.7 301.1h0M347.5 305.1h0M361.2 305.0h0M358.3 299.4h0M341.9 280.4h0M342.6 308.0h0M325.9 317.8h0M335.5 279.1h0M341.9 283.4h0M348.8 303.2h0M337.0 282.0h0M346.5 299.5h0M348.5 290.9h0M349.9 293.5h0M335.5 318.4h0M356.9 307.3h0M338.2 281.2h0M333.0 304.2h0M348.8 287.7h0M333.8 284.6h0M343.7 299.4h0M338.0 294.2h0M322.2 309.5h0M333.5 316.8h0M355.2 303.0h0M349.8 320.0h0M352.1 289.5h0M335.3 316.7h0M357.4 312.9h0M324.7 320.3h0M337.4 318.1h0M347.7 295.4h0M342.4 284.8h0M349.9 283.0h0M343.5 298.2h0M343.5 306.6h0M345.4 318.2h0M340.4 287.9h0M344.4 294.2h0M347.3 280.9h0M339.4 279.3h0M337.5 306.0h0M342.2 309.1h0M350.4 289.7h0M349.9 321.6h0M326.0 306.5h0M337.0 317.1h0M335.9 298.2h0M315.9 302.3h0M316.9 301.8h0M335.8 281.4h0M336.4 283.6h0M361.2 307.8h0M328.1 298.1h0M341.0 294.0h0M354.4 301.6h0M330.9 314.4h0M337.5 303.8h0M333.2 291.2h0M354.2 304.7h0M320.2 295.8h0M328.9 287.9h0M326.3 296.7h0M337.2 310.8h0M322.5 297.6h0M338.4 325.1h0M332.9 291.7h0M357.5 307.2h0M332.7 294.4h0M341.9 279.3h0M353.7 288.5h0M335.6 316.5h0M346.8 278.6h0M329.8 288.1h0M337.0 283.9h0M349.1 284.0h0M341.2 275.6h0M344.4 297.8h0M343.6 289.3h0M335.4 283.1h0M337.9 302.0h0M343.1 284.8h0M321.5 297.4h0M331.5 295.7h0M344.4 292.1h0M332.4 297.0h0M336.1 320.9h0M333.9 283.8h0M340.5 278.9h0M342.1 289.9h0M332.8 302.3h0M349.0 293.9h0M330.2 311.5h0M327.0 317.1h0M359.0 301.4h0M356.3 296.7h0M344.7 292.4h0M352.3 298.8h0M338.6 287.9h0M314.9 305.0h0M330.8 292.8h0M321.4 315.9h0M332.2 290.4h0M321.0 311.2h0M355.5 315.9h0M331.2 297.1h0M317.7 306.0h0M324.3 310.5h0M327.0 293.6h0M348.8 286.4h0M326.5 298.8h0M341.1 322.4h0M339.3 314.8h0M355.6 297.4h0M331.5 315.6h0M340.1 284.1h0M333.7 291.0h0M336.0 321.4h0M345.9 283.1h0M346.5 317.4h0M348.0 280.3h0M352.6 292.8h0M325.9 290.9h0M328.9 299.7h0M320.8 313.6h0M339.1 310.9h0M341.3 284.1h0M352.5 306.2h0M343.0 312.9h0M347.4 294.5h0M340.0 277.3h0M340.2 290.3h0M339.7 282.0h0M344.0 322.7h0M346.8 320.2h0M346.8 292.4h0M336.7 309.4h0M336.9 297.9h0M351.8 316.8h0M330.3 307.5h0M341.4 284.5h0M330.2 322.3h0M331.7 306.4h0M335.0 322.5h0M337.6 286.9h0M336.6 308.4h0M333.3 299.9h0M339.6 305.5h0M344.8 282.9h0M352.4 288.8h0M338.7 322.2h0M355.3 292.0h0M360.0 309.8h0M342.1 291.6h0M345.1 277.2h0M356.9 296.4h0M335.2 315.4h0M333.4 282.1h0M349.9 295.8h0M346.9 311.0h0M354.1 309.5h0M347.5 280.0h0M331.0 294.4h0M343.6 295.1h0M347.6 297.0h0M349.5 292.1h0M321.4 301.5h0M356.1 294.3h0M349.0 299.9h0M352.3 314.3h0M336.7 290.5h0M316.9 308.0h0M360.2 305.3h0M334.0 312.6h0M348.5 302.2h0M332.0 288.5h0M338.4 295.6h0M354.3 311.6h0M342.7 324.9h0M339.9 314.0h0M332.6 290.2h0M340.4 310.7h0M348.1 297.3h0M342.0 279.3h0" stroke="#bdb5ae" stroke-width="1.10" stroke-linecap="round" fill="none"/>
<path d="M334.7 282.6h0M319.8 307.3h0M338.2 322.7h0M331.8 321.6h0M342.4 293.2h0M346.5 319.9h0M336.2 297.8h0M335.6 306.6h0M332.9 291.7h0M320.5 309.3h0M344.3 316.9h0M358.9 298.4h0M323.7 318.3h0M321.1 317.1h0M327.4 302.7h0M351.9 316.6h0M345.9 315.8h0M351.8 305.0h0M351.4 297.3h0M328.8 321.2h0M349.9 295.4h0M317.6 305.5h0M330.2 316.6h0M338.5 304.2h0M321.3 317.0h0M324.4 316.7h0M349.8 293.3h0M317.3 305.1h0M321.5 300.0h0M318.2 319.2h0M338.6 319.9h0M324.3 311.8h0M351.1 316.0h0M347.2 313.5h0M342.4 314.0h0M339.0 314.9h0M320.1 305.6h0M334.7 296.1h0M318.4 300.8h0M350.8 321.0h0M331.4 301.6h0M347.4 297.1h0M338.5 314.3h0M323.5 318.4h0M337.0 283.6h0M341.4 290.9h0M346.1 299.8h0M337.4 308.8h0M358.6 300.4h0M351.7 314.4h0M342.7 324.0h0M344.0 315.7h0M341.7 311.1h0M324.9 290.9h0M340.4 279.9h0M322.6 296.2h0M317.6 312.8h0M339.1 309.4h0M322.6 320.0h0M324.4 321.2h0M339.5 305.2h0M316.9 303.2h0M349.2 316.9h0M337.3 317.3h0M346.0 294.6h0M338.7 285.4h0M344.1 323.6h0M332.6 303.0h0M345.8 292.5h0M333.6 307.4h0M324.8 319.7h0M347.0 304.8h0M340.6 304.4h0M334.2 309.3h0M342.4 287.6h0M337.0 304.8h0M349.9 294.5h0M332.4 305.1h0M347.1 278.2h0M324.5 301.5h0M326.5 307.5h0M348.5 321.9h0M326.6 312.8h0M319.4 303.6h0M327.0 300.9h0M325.9 321.0h0M322.7 305.7h0M338.5 289.6h0M350.2 283.4h0M360.7 304.7h0M357.8 300.3h0M358.1 311.5h0M323.5 301.1h0M329.1 304.9h0M337.7 306.4h0M340.1 306.2h0M362.0 308.2h0M330.0 310.9h0M321.3 307.3h0M338.2 299.5h0M348.5 305.2h0M318.2 295.0h0M318.0 301.0h0M352.8 297.9h0M339.8 297.7h0M335.8 287.0h0M331.6 303.5h0M339.9 321.4h0M334.8 297.9h0M329.0 303.0h0M326.7 310.1h0M344.3 315.7h0M331.5 322.6h0M320.4 315.9h0M331.1 307.5h0M344.1 300.8h0M345.9 321.6h0M323.5 319.1h0M332.1 318.1h0M324.9 291.1h0M351.8 301.5h0M357.1 313.4h0M352.3 317.8h0M344.3 323.0h0M353.4 300.1h0M341.9 288.0h0M340.6 316.7h0M335.3 284.2h0M344.5 292.1h0M325.9 313.4h0M355.6 301.3h0M318.2 297.9h0M336.6 319.5h0M323.6 320.7h0M329.2 292.4h0M352.3 310.5h0M323.1 312.3h0M355.6 316.6h0M349.0 291.0h0M331.2 320.1h0M327.0 313.7h0M318.9 317.6h0M348.1 287.7h0M346.5 311.2h0M350.1 314.3h0M316.4 312.0h0M320.5 297.7h0M342.0 314.5h0M332.1 311.7h0M321.5 317.8h0M336.7 287.7h0M341.0 319.4h0M351.6 298.9h0M341.5 298.2h0M349.2 317.2h0M329.6 323.0h0M320.1 308.9h0M330.2 323.0h0M325.8 300.0h0M354.3 312.5h0M329.9 319.9h0M328.4 313.5h0M350.4 289.7h0M344.9 295.5h0M354.5 298.0h0M322.2 293.9h0M334.5 306.1h0M339.6 313.0h0M347.6 309.3h0M329.9 311.4h0M329.5 291.0h0M316.7 301.1h0M323.3 308.7h0M324.3 313.3h0M328.2 299.2h0M325.0 317.5h0M321.4 304.8h0M324.4 314.7h0M327.1 304.5h0M345.6 305.4h0M325.3 298.8h0M350.6 300.0h0M332.1 297.6h0M339.8 319.0h0M326.2 322.3h0M358.4 310.6h0M327.1 293.0h0M338.6 294.6h0M336.3 324.2h0M348.9 290.0h0M327.5 293.6h0M323.7 316.8h0M350.4 282.1h0M332.3 310.4h0M347.1 277.6h0M334.5 293.6h0M323.1 295.2h0M341.5 305.4h0M315.8 298.4h0M321.3 313.3h0M333.6 311.9h0M316.4 298.5h0M315.7 314.1h0M324.0 317.0h0M345.7 291.6h0M327.8 291.2h0M326.3 296.6h0M322.0 306.3h0M317.2 297.6h0M327.7 312.8h0M330.3 313.0h0M323.1 296.4h0M319.0 295.5h0M347.3 304.8h0M328.1 323.1h0M327.5 297.7h0M356.4 312.2h0M325.8 317.0h0M339.1 323.2h0M316.9 306.5h0M322.6 310.0h0M325.9 319.4h0M325.5 296.1h0M333.2 314.9h0M341.3 318.1h0M334.7 316.0h0M343.6 315.3h0M315.7 309.8h0M329.5 311.6h0M336.7 283.6h0M345.2 281.6h0M345.1 309.9h0M333.0 313.2h0M330.5 308.8h0M337.5 312.4h0M321.7 316.0h0M341.0 299.4h0M331.2 311.0h0M339.6 307.3h0M350.9 319.5h0M350.5 288.4h0M341.6 310.1h0M349.1 313.8h0M352.5 320.9h0M353.0 304.5h0M347.0 321.5h0M342.1 277.9h0M329.8 323.7h0M327.2 320.8h0M349.9 304.0h0M346.6 308.6h0M318.2 300.4h0M332.3 307.7h0M339.2 306.8h0M319.4 309.2h0M336.2 316.0h0M349.6 304.0h0M348.9 280.8h0M358.3 311.0h0M323.4 314.6h0M321.9 312.7h0M324.4 303.4h0M330.3 319.8h0M351.8 313.3h0M344.7 305.4h0M338.9 324.6h0M324.7 309.4h0M339.8 320.6h0M330.9 306.7h0M351.0 284.0h0M329.7 302.7h0M336.3 313.0h0M331.3 295.8h0M327.2 307.8h0M333.0 294.3h0M337.9 304.0h0M338.9 324.4h0M345.7 307.3h0M318.1 316.6h0M331.7 309.7h0M320.0 312.0h0M348.5 303.3h0M330.9 321.8h0M360.5 305.6h0M335.7 306.4h0M320.5 319.5h0M338.3 312.3h0M330.6 287.7h0M318.2 302.9h0M339.0 316.6h0M344.7 303.3h0M357.9 315.0h0M326.6 309.0h0M349.4 300.6h0M338.8 285.4h0M334.3 321.5h0M333.4 300.4h0M351.2 308.5h0M347.3 301.3h0M324.2 293.6h0M351.3 317.2h0M345.2 303.2h0M351.6 309.6h0M341.0 313.1h0M351.4 319.2h0M358.1 313.0h0M331.2 291.5h0M336.4 306.3h0M322.3 300.2h0M335.2 308.8h0M336.1 291.2h0M320.6 312.5h0M329.5 303.5h0M334.9 286.3h0M349.0 313.3h0M319.8 310.2h0M341.6 302.0h0M341.5 277.8h0M324.9 314.9h0M352.2 287.1h0M321.9 299.6h0M327.5 292.5h0M320.2 309.7h0M331.0 318.3h0M316.1 300.5h0M344.7 287.7h0M321.1 302.1h0M355.3 313.8h0M322.8 312.5h0M346.8 311.1h0M349.4 283.5h0M334.4 304.2h0M344.6 289.3h0M329.1 308.4h0M345.8 310.2h0M332.2 315.0h0M340.5 313.6h0M316.0 309.8h0M320.5 317.3h0M330.9 303.1h0M336.4 317.7h0M337.5 317.5h0M319.7 312.5h0M336.8 280.2h0M317.1 305.8h0M332.7 293.1h0M353.5 320.0h0M336.1 323.5h0M349.8 307.9h0M330.4 305.3h0M340.7 301.4h0M348.3 293.4h0M341.3 314.5h0M319.1 306.3h0M347.7 317.5h0M339.7 314.8h0M346.2 276.6h0M320.8 303.7h0M326.9 303.6h0M326.4 306.9h0M346.8 305.5h0M325.9 307.2h0M327.6 303.4h0M345.5 311.5h0M345.2 283.5h0M335.2 323.9h0M335.8 302.5h0M329.4 320.8h0M338.0 302.9h0M341.4 306.5h0M353.1 308.0h0M339.8 312.9h0M342.2 294.2h0M318.0 307.9h0M318.1 305.4h0M347.3 300.3h0M343.5 316.7h0M355.6 316.7h0M327.2 309.0h0M354.6 316.7h0M347.3 289.4h0M347.4 312.5h0M338.4 301.9h0M326.8 310.5h0M326.8 296.2h0M336.0 296.5h0M331.4 306.8h0M347.7 286.7h0M318.9 320.7h0M350.9 320.3h0M351.8 299.4h0M330.4 316.8h0M320.1 318.5h0M344.7 286.3h0M316.7 303.5h0M323.2 318.2h0M349.1 291.8h0M323.0 292.2h0M358.3 312.2h0M348.8 306.5h0" stroke="#e3201c" stroke-width="1.36" stroke-linecap="round" fill="none"/>
<path d="M322.4 292.0h0M353.8 310.9h0M332.1 297.5h0M344.1 322.0h0M334.1 284.3h0M334.4 322.5h0M347.7 299.4h0M344.8 297.7h0M356.7 316.3h0M346.8 289.0h0M330.5 300.8h0M336.4 280.2h0M323.6 310.4h0M341.9 277.6h0M326.1 306.9h0M335.6 303.7h0M339.0 309.0h0M355.5 304.3h0M329.7 315.9h0M349.6 315.4h0M329.8 302.2h0M342.7 307.3h0M341.4 300.0h0M338.4 319.3h0M339.5 318.6h0M352.1 318.8h0M344.8 313.9h0M322.8 313.7h0M361.9 308.2h0M332.5 319.4h0M317.2 314.3h0M347.2 291.8h0M322.3 301.6h0M331.7 317.9h0M325.2 290.3h0M351.1 303.6h0M326.5 322.3h0M361.5 305.5h0M360.1 306.1h0M317.4 303.2h0" stroke="#5cb040" stroke-width="1.30" stroke-linecap="round" fill="none"/>
<path d="M349.6 313.3h0M325.7 293.7h0M357.9 305.8h0M327.7 320.3h0M344.3 286.0h0M357.0 310.9h0M342.4 291.3h0M346.2 283.6h0" stroke="#f0a020" stroke-width="1.20" stroke-linecap="round" fill="none"/>
<path d="M338.3 321.9h0M323.8 305.5h0M327.5 301.5h0M357.5 301.0h0M325.1 311.7h0M335.4 283.3h0M348.4 277.8h0M347.7 305.5h0M329.5 303.6h0M339.0 321.0h0M337.0 291.6h0M331.1 292.5h0M344.1 303.0h0M340.7 278.7h0M352.9 294.5h0M333.7 315.1h0M351.9 309.5h0M339.8 294.0h0M337.3 290.9h0M328.2 304.4h0M334.3 300.8h0M331.9 288.5h0M335.3 317.4h0M320.9 318.1h0M326.7 291.2h0" stroke="#e3201c" stroke-width="1.20" stroke-linecap="round" fill="none"/>
<path d="M363.1 285.1h0M360.8 282.9h0M366.5 280.4h0M363.0 283.3h0M359.1 280.0h0M359.8 283.0h0M359.2 281.9h0M364.1 279.5h0M360.8 280.3h0M361.0 277.5h0M361.4 279.0h0M367.6 279.2h0M367.7 277.2h0M359.6 276.4h0M361.9 278.2h0M366.2 284.7h0M358.2 282.5h0M361.7 283.6h0M364.5 275.8h0M359.0 282.5h0M366.4 279.0h0M365.1 279.0h0M362.7 276.3h0M364.2 284.7h0M367.2 281.4h0M357.6 281.4h0" stroke="#5cb040" stroke-width="1.40" stroke-linecap="round" fill="none"/>
<path d="M368.9 281.7h0M364.4 280.3h0M365.2 279.8h0M367.7 279.2h0M368.9 282.8h0M363.0 280.0h0M367.4 282.6h0M367.1 276.6h0M368.4 278.4h0M369.1 277.7h0M371.6 279.3h0M369.8 278.4h0" stroke="#c4bcb6" stroke-width="1.10" stroke-linecap="round" fill="none"/>
<path d="M351.1 331.1h0M350.9 328.7h0M351.2 330.2h0M352.1 329.0h0M347.8 328.5h0M351.9 329.6h0M349.0 329.0h0M349.7 327.2h0M351.0 330.5h0M350.9 328.0h0" stroke="#5cb040" stroke-width="1.50" stroke-linecap="round" fill="none"/>
<path d="M348.8 330.1h0" stroke="#e3201c" stroke-width="1.40" stroke-linecap="round" fill="none"/>
<path d="M358.9 290.0h0M366.7 291.8h0M361.8 315.8h0M360.8 297.8h0M363.5 290.6h0M369.8 296.1h0M368.7 294.9h0M370.8 301.5h0M367.0 299.4h0M358.9 292.4h0M371.8 301.7h0M360.2 314.5h0M363.3 317.2h0M357.9 290.6h0M370.3 288.6h0M367.4 303.8h0M371.6 316.0h0M364.5 284.3h0M368.0 285.8h0M359.4 286.0h0M356.8 283.2h0M366.8 295.4h0M365.3 315.3h0M363.2 309.2h0M363.4 297.3h0M353.8 289.2h0M362.3 310.0h0M367.6 312.6h0" stroke="#e3201c" stroke-width="1.24" stroke-linecap="round" fill="none"/>
<path d="M354.1 285.5h0M358.2 286.2h0M369.4 315.3h0M365.9 297.0h0M359.8 293.9h0M364.4 305.9h0M365.9 290.7h0M367.8 306.6h0M366.5 285.8h0M359.6 316.7h0M370.0 313.6h0" stroke="#c4bcb6" stroke-width="1.10" stroke-linecap="round" fill="none"/>
</g>
<rect x="299.90" y="132.80" width="82.40" height="100.60" fill="none" stroke="#2a2a2a" stroke-width="1.2"/>
<rect x="299.90" y="236.70" width="82.40" height="100.80" fill="none" stroke="#2a2a2a" stroke-width="1.2"/>
<rect x="299.30" y="234.00" width="83.60" height="2.20" fill="#8a8a8a"/>
<line x1="296.50" y1="137.40" x2="296.50" y2="229.00" stroke="#111" stroke-width="1.1"/>
<line x1="296.50" y1="241.00" x2="296.50" y2="332.60" stroke="#111" stroke-width="1.1"/>
<line x1="304.00" y1="340.60" x2="378.50" y2="340.60" stroke="#111" stroke-width="1.3"/>
<text transform="translate(292.76,183.20) rotate(-90)" x="0" y="0" font-size="7.4" fill="#222" text-anchor="middle" textLength="23.40" lengthAdjust="spacingAndGlyphs">t-sne 2</text>
<text transform="translate(292.76,286.90) rotate(-90)" x="0" y="0" font-size="7.4" fill="#222" text-anchor="middle" textLength="22.40" lengthAdjust="spacingAndGlyphs">t-sne 2</text>
<text x="330.00" y="350.20" font-size="7.6" fill="#222" textLength="22.30" lengthAdjust="spacingAndGlyphs">t-sne 1</text>
<line x1="383.60" y1="131.50" x2="383.60" y2="232.00" stroke="#111" stroke-width="0.0"/>
<circle cx="386.00" cy="135.10" r="1.45" fill="#3a6ec4"/>
<text x="391.10" y="137.00" font-size="5.4" fill="#555" textLength="28.90" lengthAdjust="spacingAndGlyphs">1. Lepr-MSC</text>
<circle cx="386.00" cy="140.12" r="1.45" fill="#4a9a30"/>
<text x="391.10" y="142.02" font-size="5.4" fill="#555" textLength="41.70" lengthAdjust="spacingAndGlyphs">2. Chondro-hyper</text>
<circle cx="386.00" cy="145.14" r="1.45" fill="#6a2a9c"/>
<text x="391.10" y="147.04" font-size="5.4" fill="#555" textLength="22.60" lengthAdjust="spacingAndGlyphs">3. Fibro-4</text>
<circle cx="386.00" cy="150.16" r="1.45" fill="#e47018"/>
<text x="391.10" y="152.06" font-size="5.4" fill="#555" textLength="45.70" lengthAdjust="spacingAndGlyphs">4. Chondro-progen</text>
<circle cx="386.00" cy="155.18" r="1.45" fill="#f2e418"/>
<text x="391.10" y="157.08" font-size="5.4" fill="#555" textLength="22.60" lengthAdjust="spacingAndGlyphs">5. Fibro-5</text>
<circle cx="386.00" cy="160.20" r="1.45" fill="#e49ad8"/>
<text x="391.10" y="162.10" font-size="5.4" fill="#555" textLength="20.80" lengthAdjust="spacingAndGlyphs">6. OLC-1</text>
<circle cx="386.00" cy="165.22" r="1.45" fill="#6e6e6e"/>
<text x="391.10" y="167.12" font-size="5.4" fill="#555" textLength="20.80" lengthAdjust="spacingAndGlyphs">7. OLC-2</text>
<circle cx="386.00" cy="170.24" r="1.45" fill="#5cb08c"/>
<text x="391.10" y="172.14" font-size="5.4" fill="#555" textLength="22.60" lengthAdjust="spacingAndGlyphs">8. Fibro-1</text>
<circle cx="386.00" cy="175.26" r="1.45" fill="#e46c34"/>
<text x="391.10" y="177.16" font-size="5.4" fill="#555" textLength="48.40" lengthAdjust="spacingAndGlyphs">9. Chondro-prol/rest</text>
<circle cx="386.00" cy="180.28" r="1.45" fill="#d86ccc"/>
<text x="391.10" y="182.18" font-size="5.4" fill="#555" textLength="30.00" lengthAdjust="spacingAndGlyphs">10. Pericytes</text>
<circle cx="386.00" cy="185.30" r="1.45" fill="#a4d03c"/>
<text x="391.10" y="187.20" font-size="5.4" fill="#555" textLength="29.60" lengthAdjust="spacingAndGlyphs">11. Chondro</text>
<circle cx="386.00" cy="190.32" r="1.45" fill="#e0b27c"/>
<text x="391.10" y="192.22" font-size="5.4" fill="#555" textLength="25.50" lengthAdjust="spacingAndGlyphs">12. Fibro-2</text>
<circle cx="386.00" cy="195.34" r="1.45" fill="#9e9e9e"/>
<text x="391.10" y="197.24" font-size="5.4" fill="#555" textLength="25.50" lengthAdjust="spacingAndGlyphs">13. Fibro-3</text>
<circle cx="386.00" cy="200.36" r="1.45" fill="#8ed0c4"/>
<text x="391.10" y="202.26" font-size="5.4" fill="#555" textLength="57.20" lengthAdjust="spacingAndGlyphs">14. Chondro-prehyper-2</text>
<path d="M463.00,160.00 C464.00,159.63 466.33,159.47 468.00,159.30 C469.67,159.13 471.50,158.80 473.00,159.00 C474.50,159.20 475.83,159.92 477.00,160.50 C478.17,161.08 479.42,161.75 480.00,162.50 C480.58,163.25 480.58,164.08 480.50,165.00 C480.42,165.92 479.50,167.17 479.50,168.00 C479.50,168.83 480.75,169.42 480.50,170.00 C480.25,170.58 479.00,170.83 478.00,171.50 C477.00,172.17 475.75,173.33 474.50,174.00 C473.25,174.67 471.83,175.50 470.50,175.50 C469.17,175.50 467.67,174.58 466.50,174.00 C465.33,173.42 464.42,172.75 463.50,172.00 C462.58,171.25 461.58,170.17 461.00,169.50 C460.42,168.83 459.92,168.58 460.00,168.00 C460.08,167.42 461.33,166.67 461.50,166.00 C461.67,165.33 460.92,164.75 461.00,164.00 C461.08,163.25 461.67,162.17 462.00,161.50 C462.33,160.83 462.00,160.37 463.00,160.00 Z" fill="#4a7ecb" fill-opacity="0.7200000000000001"/>
<path d="M468.1 163.4h0M471.6 170.3h0M475.1 168.1h0M477.3 166.4h0M474.6 161.4h0M477.2 162.1h0M463.0 170.5h0M460.8 164.0h0M477.6 164.3h0M468.0 170.0h0M469.0 171.2h0M470.9 173.3h0M478.3 171.7h0M473.2 171.2h0M464.9 165.8h0M468.7 166.4h0M464.2 171.0h0M467.8 173.1h0M464.6 161.7h0M473.7 160.4h0M463.2 164.9h0M471.9 170.7h0M471.9 174.3h0M473.2 161.4h0M461.2 167.3h0M478.9 164.6h0M472.7 172.5h0M472.2 163.6h0M464.7 167.1h0M464.1 167.0h0M475.2 170.8h0M463.9 172.5h0M470.3 161.1h0M475.6 171.1h0M470.7 168.4h0M471.7 171.1h0M470.1 170.9h0M469.2 171.0h0M475.5 165.0h0M467.7 164.6h0M463.4 160.3h0M478.6 164.0h0M478.5 170.0h0M480.1 163.1h0M467.4 161.6h0M470.6 173.7h0M474.0 168.2h0M478.7 162.6h0M470.6 162.0h0M465.1 173.2h0M465.8 165.5h0M468.1 174.7h0M466.2 165.4h0M462.4 168.2h0M474.8 169.5h0M476.8 169.7h0M471.4 166.6h0M473.2 160.1h0M477.5 168.1h0M470.6 167.2h0M465.4 163.5h0M470.8 161.5h0M476.6 162.9h0M469.5 160.1h0M476.8 170.2h0M463.5 163.8h0M463.6 166.5h0M464.2 160.4h0M467.0 167.2h0M475.9 161.6h0M466.4 166.3h0M464.9 164.9h0M465.0 163.6h0M470.1 173.8h0M474.1 168.6h0M470.6 163.0h0M468.4 161.1h0M468.6 163.4h0M479.6 165.0h0M465.4 165.8h0M466.4 174.2h0M472.7 160.1h0M467.9 160.0h0M470.0 165.8h0M469.1 166.2h0M470.0 171.6h0M476.3 169.9h0M467.3 166.8h0M468.0 162.9h0M468.1 172.1h0M475.2 169.5h0M468.4 168.1h0M462.4 169.8h0M464.6 170.4h0M475.7 161.4h0M479.3 163.1h0M477.1 160.9h0M464.9 166.3h0M470.1 168.8h0M467.5 163.4h0M474.4 162.9h0M473.6 166.0h0M475.1 162.2h0M479.4 167.3h0M461.2 163.2h0M475.4 170.0h0M473.1 171.4h0M472.9 172.8h0M468.0 160.8h0M471.5 172.8h0M471.5 159.9h0M465.3 170.1h0M472.3 173.3h0M465.1 171.7h0M468.1 170.9h0M471.3 173.9h0M471.8 163.8h0M474.5 171.9h0M473.4 165.9h0M473.8 168.4h0M462.3 169.7h0M478.8 169.3h0M473.9 167.1h0M462.4 163.8h0M478.2 167.1h0M463.0 160.4h0M475.2 169.0h0M467.4 173.7h0M477.9 162.6h0M464.7 163.4h0M476.9 166.5h0M473.7 170.7h0M469.0 171.3h0M467.0 170.5h0M478.2 168.3h0M479.4 168.7h0M476.6 161.4h0M462.7 170.9h0M466.7 167.9h0M463.5 169.9h0M460.4 168.5h0M466.1 165.9h0M476.9 162.6h0M473.0 172.4h0M462.4 165.6h0M476.0 172.2h0M475.2 171.7h0M470.5 169.5h0M472.0 174.1h0M465.2 172.8h0M470.6 166.5h0M468.6 162.3h0M469.2 162.9h0M472.0 174.7h0M463.1 169.3h0M472.5 164.8h0M479.3 164.8h0M467.4 171.3h0M468.4 162.8h0M464.2 164.9h0M469.0 168.6h0M462.1 170.0h0M465.0 172.4h0M469.2 169.3h0M468.6 162.0h0M479.5 164.9h0M466.1 170.3h0M475.7 166.5h0M467.3 160.5h0M464.4 170.1h0M462.3 168.3h0M462.1 165.4h0M479.4 167.9h0M466.1 164.3h0M479.0 166.9h0M472.7 164.7h0M464.4 169.3h0M474.3 161.3h0M471.3 167.8h0M474.0 162.7h0" stroke="#4a7ecb" stroke-width="1.10" stroke-linecap="round" fill="none"/>
<path d="M468.2 164.1h0M469.5 164.9h0M472.1 163.8h0M469.8 168.4h0M465.7 167.7h0M471.9 164.5h0M470.3 168.7h0M473.4 161.6h0M467.3 172.8h0M479.0 166.4h0M465.7 163.7h0M476.3 170.1h0M464.7 163.7h0M460.5 162.8h0M463.3 166.6h0M471.4 166.0h0M472.9 168.7h0M469.5 173.8h0M466.9 172.6h0M469.7 170.1h0M469.1 171.5h0" stroke="#4a7ecb" stroke-width="1.00" stroke-linecap="round" fill="none"/>
<path d="M461.6 163.3h0M471.9 160.9h0M463.2 164.8h0M464.9 169.0h0M464.5 162.4h0M475.4 169.3h0M475.2 161.4h0M472.9 165.2h0M469.7 162.5h0M469.5 165.0h0M465.1 167.3h0M466.2 166.2h0M472.5 173.0h0M476.0 165.4h0M462.4 166.5h0M477.9 165.5h0M466.2 167.8h0M471.6 174.2h0M470.0 168.7h0M477.2 163.9h0M469.5 161.2h0M475.2 164.2h0M478.0 167.4h0M466.1 160.0h0M465.5 164.6h0M466.1 171.4h0M477.4 169.8h0M469.2 170.1h0M460.9 167.4h0M471.0 169.2h0M465.5 173.3h0M467.1 166.4h0M462.5 167.6h0M469.2 162.8h0M473.6 161.3h0M470.7 166.4h0M472.3 170.0h0M474.1 172.6h0M463.5 171.7h0M474.6 173.8h0M467.4 171.6h0M464.7 163.0h0M461.7 167.5h0M472.6 171.8h0M466.7 159.7h0M477.8 164.9h0M467.9 173.9h0M463.1 169.8h0M467.5 169.0h0M469.2 162.3h0M479.3 167.7h0M463.8 166.6h0M472.3 174.1h0M466.2 160.8h0M469.6 173.0h0M470.1 166.8h0M472.8 171.2h0M473.4 174.2h0M472.6 164.2h0M468.3 165.8h0M464.5 164.0h0M478.3 171.1h0M474.6 163.3h0M467.5 162.4h0M476.8 170.2h0M473.3 159.3h0M474.9 172.1h0M470.7 171.5h0M476.7 169.5h0M466.5 168.3h0M477.0 164.6h0M474.2 161.0h0" stroke="#ffffff" stroke-width="0.80" stroke-linecap="round" fill="none" stroke-opacity="0.5"/>
<path d="M476.20,147.00 C476.58,146.05 477.85,144.88 479.10,144.10 C480.35,143.32 481.97,142.53 483.70,142.30 C485.43,142.07 488.07,142.15 489.50,142.70 C490.93,143.25 491.73,144.22 492.30,145.60 C492.87,146.98 493.18,149.33 492.90,151.00 C492.62,152.67 491.75,154.45 490.60,155.60 C489.45,156.75 487.35,157.70 486.00,157.90 C484.65,158.10 483.65,157.57 482.50,156.80 C481.35,156.03 480.05,154.47 479.10,153.30 C478.15,152.13 477.28,150.85 476.80,149.80 C476.32,148.75 475.82,147.95 476.20,147.00 Z" fill="#62ae3e" fill-opacity="0.7200000000000001"/>
<path d="M486.8 142.9h0M488.6 152.8h0M483.3 143.1h0M487.1 151.2h0M489.6 153.3h0M492.3 147.6h0M490.5 151.3h0M484.9 157.7h0M490.3 151.6h0M488.0 143.3h0M477.7 146.1h0M486.7 148.1h0M487.3 152.2h0M479.4 148.2h0M485.8 152.5h0M481.6 147.2h0M490.7 147.0h0M491.5 149.7h0M485.0 146.1h0M483.2 145.7h0M489.7 149.0h0M493.4 150.4h0M487.5 151.1h0M477.4 149.3h0M490.6 146.4h0M481.1 152.2h0M489.0 150.4h0M478.1 150.1h0M488.6 144.4h0M482.8 145.5h0M480.0 147.1h0M483.7 150.5h0M481.9 151.7h0M480.2 152.9h0M491.3 151.3h0M489.9 145.5h0M483.2 149.1h0M483.1 147.4h0M479.2 149.4h0M483.5 155.7h0M490.2 144.9h0M482.3 143.8h0M480.3 154.6h0M485.6 153.7h0M491.9 151.2h0M485.0 156.2h0M486.2 153.0h0M490.7 145.9h0M482.5 151.3h0M479.6 153.8h0M487.2 147.4h0M478.4 149.4h0M482.6 144.4h0M489.5 146.4h0M477.9 151.3h0M488.0 145.3h0M484.4 156.3h0M483.8 146.6h0M486.8 146.0h0M483.9 142.7h0M491.5 150.5h0M489.7 155.6h0M480.5 143.3h0M483.4 152.6h0M489.7 155.6h0M489.8 143.6h0M483.9 146.9h0M481.9 155.7h0M487.3 148.5h0M492.5 146.6h0M488.1 147.0h0M482.6 151.8h0M485.2 153.1h0M482.1 143.2h0M481.4 155.3h0M481.2 148.8h0M478.7 148.7h0M491.2 152.3h0M483.2 151.1h0M482.9 145.7h0M489.8 145.1h0M487.0 147.1h0M487.5 145.9h0M480.4 149.6h0M483.3 152.6h0M484.4 146.1h0M489.0 154.5h0M484.9 143.7h0M483.4 154.0h0M486.5 156.9h0M488.4 149.8h0M491.0 153.9h0M480.4 151.9h0M486.9 146.7h0M480.6 147.2h0M480.0 153.0h0M482.8 150.9h0M482.8 156.2h0M490.5 154.3h0M482.5 153.5h0M482.8 153.8h0M479.8 145.8h0M481.7 153.0h0M484.0 144.2h0M483.2 151.2h0M478.7 149.6h0M479.8 147.1h0M488.8 155.4h0M486.8 154.1h0M492.2 145.4h0M485.5 145.2h0M479.0 151.6h0M481.7 152.8h0M488.0 143.1h0M491.0 152.3h0M489.0 147.8h0M485.0 147.2h0M486.7 154.9h0M480.4 154.8h0M483.4 154.3h0M490.2 143.5h0M483.9 151.9h0M490.5 145.7h0M481.8 155.8h0M484.2 153.7h0M484.6 154.8h0M487.5 146.9h0M485.1 148.7h0M487.9 146.7h0M478.9 144.1h0M478.8 145.7h0M492.5 150.6h0M479.5 145.9h0M485.5 146.5h0M488.1 144.0h0M490.5 151.3h0M492.0 149.5h0M485.7 147.0h0M489.0 151.6h0M484.4 149.5h0" stroke="#62ae3e" stroke-width="1.10" stroke-linecap="round" fill="none"/>
<path d="M486.4 149.4h0M479.4 145.1h0M486.3 148.4h0M487.1 147.3h0M488.1 150.1h0M482.0 149.0h0M490.4 144.2h0M488.6 151.7h0M488.8 152.8h0M485.5 143.8h0M483.7 147.6h0M493.9 150.1h0M489.1 146.9h0M484.6 152.1h0M485.5 152.2h0M481.1 145.8h0" stroke="#62ae3e" stroke-width="1.00" stroke-linecap="round" fill="none"/>
<path d="M481.7 153.1h0M489.8 150.9h0M483.8 147.2h0M482.9 150.3h0M485.3 148.7h0M479.3 147.9h0M488.8 152.1h0M488.9 145.5h0M485.4 156.8h0M483.5 153.2h0M486.4 146.0h0M478.8 150.9h0M485.4 143.8h0M483.9 144.1h0M490.1 150.1h0M488.2 150.2h0M485.4 148.3h0M491.6 150.2h0M480.8 154.6h0M483.1 156.9h0M484.7 155.1h0M480.9 147.0h0M486.0 157.9h0M484.4 144.6h0M485.2 147.7h0M485.4 150.8h0M483.8 147.3h0M479.4 153.2h0M485.7 145.9h0M489.2 143.0h0M488.6 153.3h0M489.8 148.3h0M487.3 155.1h0M492.6 150.0h0M486.1 155.9h0M490.8 149.2h0M485.0 149.4h0M488.3 148.7h0M487.1 144.7h0M481.9 153.1h0M487.1 155.6h0M482.5 147.2h0M488.2 154.1h0M488.7 149.1h0M490.8 149.2h0M487.8 156.4h0M481.1 148.1h0M478.6 150.6h0M485.7 154.7h0M490.7 152.0h0M478.6 149.5h0M480.4 146.3h0M491.3 152.9h0M478.8 149.2h0M482.0 151.5h0M486.9 148.9h0" stroke="#ffffff" stroke-width="0.80" stroke-linecap="round" fill="none" stroke-opacity="0.5"/>
<path d="M493.60,142.00 C493.97,141.28 495.02,140.50 496.00,140.20 C496.98,139.90 498.67,139.82 499.50,140.20 C500.33,140.58 500.95,141.63 501.00,142.50 C501.05,143.37 500.63,144.83 499.80,145.40 C498.97,145.97 497.00,146.05 496.00,145.90 C495.00,145.75 494.20,145.15 493.80,144.50 C493.40,143.85 493.23,142.72 493.60,142.00 Z" fill="#e8773a" fill-opacity="0.7200000000000001"/>
<path d="M494.1 144.4h0M498.2 144.8h0M493.3 143.1h0M497.5 144.6h0M499.8 145.0h0M497.4 142.6h0M497.3 143.5h0M500.1 141.7h0M497.9 145.4h0M498.4 144.5h0M497.8 144.7h0M499.1 140.3h0M495.3 143.6h0M494.6 142.3h0M499.3 140.4h0M494.5 144.4h0M494.3 143.3h0M495.4 144.3h0M499.0 144.8h0M499.1 141.4h0" stroke="#e8773a" stroke-width="1.10" stroke-linecap="round" fill="none"/>
<path d="M495.9 143.7h0M497.5 146.2h0" stroke="#e8773a" stroke-width="1.00" stroke-linecap="round" fill="none"/>
<path d="M495.0 141.2h0M499.7 144.2h0M495.0 141.4h0M496.4 145.8h0M495.3 142.8h0M497.6 143.7h0M497.4 145.4h0M497.9 141.7h0" stroke="#ffffff" stroke-width="0.80" stroke-linecap="round" fill="none" stroke-opacity="0.5"/>
<path d="M495.20,160.20 C495.58,158.85 498.25,158.77 499.80,157.90 C501.35,157.03 503.25,155.18 504.50,155.00 C505.75,154.82 506.43,155.73 507.30,156.80 C508.17,157.87 509.22,159.87 509.70,161.40 C510.18,162.93 510.50,164.65 510.20,166.00 C509.90,167.35 509.23,169.12 507.90,169.50 C506.57,169.88 503.93,168.88 502.20,168.30 C500.47,167.72 498.67,167.35 497.50,166.00 C496.33,164.65 494.82,161.55 495.20,160.20 Z" fill="#f4e620" fill-opacity="0.7200000000000001"/>
<path d="M501.4 162.7h0M498.0 162.4h0M500.8 160.6h0M504.6 156.7h0M495.1 160.7h0M505.2 166.9h0M505.8 165.5h0M507.3 163.9h0M498.8 161.2h0M500.4 166.8h0M505.2 162.9h0M500.2 167.1h0M504.7 157.2h0M507.6 164.4h0M499.2 164.8h0M507.7 167.8h0M502.6 167.3h0M502.4 159.4h0M509.6 164.7h0M505.5 168.6h0M506.2 158.9h0M498.7 165.1h0M499.7 161.5h0M498.7 158.1h0M499.3 159.7h0M509.4 164.6h0M509.5 165.5h0M498.5 165.0h0M499.9 162.9h0M496.6 160.7h0M508.8 163.7h0M499.8 164.0h0M507.3 156.7h0M503.8 167.4h0M508.5 167.2h0M501.2 166.4h0M498.1 161.3h0M507.3 164.7h0M500.9 161.4h0M502.4 164.4h0M498.8 161.3h0M509.9 161.4h0M504.6 165.1h0M508.3 159.9h0M503.8 158.8h0M500.5 164.6h0M507.3 161.9h0M500.9 158.0h0M503.3 160.2h0M502.8 167.1h0M500.5 158.1h0M504.9 156.1h0M504.2 163.6h0M504.8 164.4h0M502.5 156.5h0M498.3 158.9h0M507.7 163.0h0M505.9 160.8h0M497.8 163.4h0M499.7 164.1h0M506.2 164.7h0M499.7 166.0h0M508.1 161.0h0M503.0 158.3h0M500.2 159.0h0M507.1 158.1h0M508.7 161.8h0M503.2 160.8h0M500.8 163.7h0M502.1 164.6h0M501.0 164.5h0M505.6 161.6h0M497.6 161.4h0M501.7 166.2h0M500.8 166.1h0M505.8 160.3h0M499.8 162.8h0M504.0 158.3h0M506.1 169.3h0M498.3 162.0h0M500.0 162.4h0M509.7 162.5h0M501.5 166.6h0M498.6 160.0h0M496.0 160.4h0M500.9 165.1h0M499.7 166.2h0M499.9 160.0h0M504.8 164.7h0M506.7 169.6h0M507.3 167.1h0M507.4 162.6h0M507.0 164.7h0M501.9 164.8h0M500.3 164.6h0M497.3 164.9h0M507.8 161.1h0M499.9 158.7h0M505.7 165.7h0M497.9 163.5h0M506.2 160.4h0M504.5 157.0h0M506.0 161.2h0M508.2 164.5h0M507.5 160.9h0M507.7 161.6h0M501.6 161.8h0M506.3 165.3h0M502.6 156.8h0M497.4 162.0h0M504.8 167.2h0M507.8 162.6h0M508.9 162.4h0M505.9 163.7h0M507.3 169.4h0M505.7 155.6h0M500.7 167.4h0M496.4 160.3h0M502.4 167.2h0M498.0 163.7h0" stroke="#f4e620" stroke-width="1.10" stroke-linecap="round" fill="none"/>
<path d="M496.9 161.4h0M505.0 165.6h0M507.7 159.2h0M502.4 168.3h0M501.0 166.0h0M503.5 158.2h0M499.5 160.5h0M497.3 164.1h0M505.9 163.4h0M502.7 165.7h0M499.4 166.4h0M498.5 165.2h0M509.0 168.8h0M503.5 155.7h0" stroke="#f4e620" stroke-width="1.00" stroke-linecap="round" fill="none"/>
<path d="M502.5 162.5h0M500.7 157.9h0M502.0 165.1h0M499.6 166.1h0M502.6 167.8h0M501.2 157.5h0M502.6 161.6h0M501.2 164.4h0M504.1 159.7h0M505.5 157.3h0M505.1 160.8h0M506.8 167.2h0M502.5 156.5h0M507.1 160.4h0M505.8 162.3h0M509.2 161.3h0M496.4 163.1h0M508.3 161.8h0M504.9 156.3h0M497.7 159.7h0M505.4 157.2h0M506.5 165.4h0M503.7 160.6h0M504.3 165.2h0M506.8 159.0h0M508.7 163.6h0M505.8 159.2h0M506.0 169.0h0M506.3 159.4h0M502.2 167.5h0M505.4 155.6h0M509.2 165.0h0M502.9 159.1h0M506.3 161.2h0M505.3 168.2h0M496.8 160.4h0M506.2 167.1h0M508.1 160.7h0M505.3 163.3h0M500.0 165.6h0M504.4 159.1h0M495.9 160.8h0M508.9 160.7h0M504.4 160.2h0M509.4 166.7h0M505.3 162.3h0M504.0 158.4h0M504.6 168.1h0" stroke="#ffffff" stroke-width="0.80" stroke-linecap="round" fill="none" stroke-opacity="0.5"/>
<path d="M492.90,164.60 C494.05,163.80 495.95,165.02 497.50,165.60 C499.05,166.18 501.23,166.92 502.20,168.10 C503.17,169.28 503.50,170.97 503.30,172.70 C503.10,174.43 502.15,176.97 501.00,178.50 C499.85,180.03 497.93,181.52 496.40,181.90 C494.87,182.28 492.95,181.75 491.80,180.80 C490.65,179.85 489.70,177.93 489.50,176.20 C489.30,174.47 490.03,172.33 490.60,170.40 C491.17,168.47 491.75,165.40 492.90,164.60 Z" fill="#7b34a8" fill-opacity="0.7200000000000001"/>
<path d="M493.5 173.2h0M493.2 167.1h0M490.3 175.8h0M499.9 167.9h0M490.3 171.0h0M492.0 168.2h0M499.4 170.5h0M500.1 175.7h0M500.6 175.7h0M494.7 175.5h0M497.6 170.0h0M491.7 172.6h0M502.3 175.3h0M498.5 173.9h0M492.7 175.6h0M490.7 175.3h0M493.0 172.9h0M498.2 173.3h0M491.0 174.5h0M495.3 175.3h0M500.1 172.1h0M500.8 171.4h0M490.7 174.4h0M492.9 170.8h0M502.2 171.3h0M499.2 174.5h0M502.1 168.7h0M497.8 170.6h0M501.6 171.4h0M503.5 172.4h0M495.1 179.1h0M497.2 171.6h0M499.3 175.9h0M495.5 174.9h0M499.0 174.6h0M498.8 169.1h0M497.9 167.0h0M497.4 180.6h0M491.2 173.8h0M494.8 170.6h0M496.8 168.9h0M497.4 169.1h0M498.7 171.9h0M496.2 166.3h0M494.7 167.9h0M496.6 175.3h0M494.9 179.6h0M497.2 177.5h0M494.2 171.1h0M499.7 175.5h0M495.4 167.7h0M499.6 171.0h0M493.7 165.9h0M494.9 177.7h0M495.9 174.9h0M502.6 169.8h0M498.4 169.5h0M492.2 172.7h0M502.2 173.1h0M491.8 179.0h0M501.1 176.2h0M501.5 170.6h0M494.9 168.1h0M498.6 177.4h0M493.0 176.1h0M493.4 166.7h0M494.4 176.0h0M495.3 168.6h0M491.1 178.8h0M501.0 173.2h0M498.5 173.8h0M499.7 178.5h0M496.0 176.9h0M501.7 174.3h0M492.1 176.0h0M497.1 173.1h0M493.0 174.7h0M495.6 173.6h0M501.4 168.4h0M499.0 171.6h0M496.0 180.3h0M495.3 171.5h0M491.8 175.8h0M500.8 169.5h0M499.0 177.0h0M501.7 169.4h0M491.7 169.8h0M496.5 166.0h0M498.5 168.5h0M499.9 173.9h0M498.5 178.0h0M496.0 169.9h0M496.1 171.5h0M493.5 165.2h0M496.1 173.1h0M500.3 169.5h0M491.8 179.6h0M499.7 179.6h0M497.9 170.6h0M497.9 180.6h0M491.0 178.6h0M496.7 167.2h0M498.9 176.4h0M497.3 176.0h0M499.8 173.0h0M502.8 174.3h0M501.2 172.9h0M498.9 173.5h0M496.4 171.7h0M496.7 168.6h0M495.6 180.5h0M498.3 177.1h0M492.8 178.5h0M502.5 175.0h0M493.5 168.6h0M492.3 178.2h0M492.7 173.9h0M496.1 165.9h0M493.3 168.4h0M499.1 171.8h0" stroke="#7b34a8" stroke-width="1.10" stroke-linecap="round" fill="none"/>
<path d="M496.3 171.6h0M501.9 175.5h0M494.4 175.1h0M494.1 169.7h0M494.4 171.8h0M491.1 169.1h0M492.4 177.1h0M495.3 171.2h0M496.1 172.8h0M494.8 167.9h0M495.0 168.0h0M494.7 168.4h0M504.2 171.1h0M498.5 172.1h0" stroke="#7b34a8" stroke-width="1.00" stroke-linecap="round" fill="none"/>
<path d="M496.3 167.0h0M492.4 175.1h0M497.0 172.7h0M501.4 172.8h0M490.8 172.6h0M492.9 172.3h0M491.1 176.9h0M499.0 175.4h0M500.8 168.0h0M496.3 172.2h0M492.4 173.6h0M491.4 172.3h0M493.8 167.7h0M494.6 171.6h0M491.9 170.2h0M493.2 175.2h0M497.4 166.5h0M493.3 170.8h0M491.8 171.1h0M492.2 168.7h0M493.4 177.5h0M495.1 165.4h0M502.2 172.1h0M499.1 177.5h0M491.2 179.0h0M500.6 173.1h0M499.1 170.7h0M499.5 172.4h0M496.8 165.9h0M502.9 171.9h0M501.8 175.0h0M495.8 172.7h0M498.7 173.9h0M493.6 176.1h0M493.8 165.8h0M490.8 178.9h0M491.9 179.5h0M501.4 175.3h0M491.7 175.1h0M502.8 173.7h0M497.7 168.6h0M499.2 172.0h0M500.5 172.5h0M493.7 175.7h0M498.0 173.2h0M499.6 179.1h0M496.1 181.7h0M495.4 176.7h0" stroke="#ffffff" stroke-width="0.80" stroke-linecap="round" fill="none" stroke-opacity="0.5"/>
<path d="M487.20,172.70 C488.55,172.70 489.65,175.57 490.60,177.30 C491.55,179.03 492.52,181.18 492.90,183.10 C493.28,185.02 493.47,187.07 492.90,188.80 C492.33,190.53 490.85,192.63 489.50,193.50 C488.15,194.37 486.15,194.58 484.80,194.00 C483.45,193.42 482.35,191.82 481.40,190.00 C480.45,188.18 478.92,185.22 479.10,183.10 C479.28,180.98 481.15,179.03 482.50,177.30 C483.85,175.57 485.85,172.70 487.20,172.70 Z" fill="#ea8020" fill-opacity="0.7200000000000001"/>
<path d="M490.9 180.9h0M481.6 183.3h0M483.6 190.1h0M492.5 183.8h0M485.6 176.1h0M489.6 184.4h0M486.1 189.4h0M483.8 191.5h0M489.9 177.2h0M487.5 187.8h0M486.8 180.1h0M487.0 176.3h0M488.9 177.0h0M490.1 180.6h0M487.7 175.9h0M490.0 188.3h0M481.1 181.0h0M483.4 186.0h0M482.4 181.3h0M484.0 191.5h0M488.8 179.3h0M488.1 188.0h0M488.1 188.3h0M481.9 184.0h0M482.2 180.3h0M482.6 186.2h0M483.4 180.0h0M486.7 190.4h0M485.8 183.0h0M491.2 182.4h0M486.3 176.0h0M492.3 182.2h0M490.7 190.7h0M480.8 184.0h0M482.6 182.7h0M485.3 176.1h0M484.1 177.1h0M489.7 188.1h0M483.8 192.3h0M492.0 190.8h0M492.6 188.9h0M482.6 183.3h0M483.9 186.9h0M483.9 190.7h0M484.0 188.0h0M488.9 180.8h0M484.7 187.3h0M486.0 191.0h0M483.0 191.8h0M490.9 190.3h0M487.2 173.2h0M480.8 186.3h0M492.0 185.2h0M488.5 192.9h0M490.2 184.3h0M491.4 188.2h0M484.3 183.7h0M485.5 176.8h0M487.8 192.4h0M482.8 189.5h0M485.0 185.8h0M489.7 192.0h0M485.8 183.5h0M488.2 183.3h0M483.9 191.0h0M483.7 182.8h0M485.9 179.5h0M488.8 179.8h0M482.0 190.8h0M481.0 187.8h0M491.1 189.5h0M485.7 185.1h0M490.3 181.7h0M492.5 188.2h0M486.9 192.8h0M482.9 191.3h0M486.2 176.9h0M489.1 187.5h0M486.3 186.8h0M486.1 176.0h0M488.7 175.0h0M488.5 183.5h0M487.4 181.1h0M490.2 189.4h0M482.7 190.3h0M482.7 189.8h0M491.7 186.2h0M489.3 191.9h0M488.4 179.2h0M484.2 178.5h0M488.6 183.7h0M484.7 180.0h0M487.8 182.0h0M484.9 192.1h0M488.2 181.6h0M483.7 180.0h0M485.3 184.2h0M486.6 173.3h0M492.4 189.8h0M484.7 180.0h0M483.6 177.7h0M488.0 175.0h0M479.5 183.2h0M488.4 188.7h0M483.0 181.2h0M486.3 192.2h0M490.5 178.0h0M489.2 192.4h0M481.5 179.0h0M481.8 188.9h0M486.7 177.9h0M483.8 192.1h0M490.1 177.0h0M484.3 188.0h0M481.3 181.7h0M487.5 193.0h0M487.2 174.2h0M485.4 180.3h0M480.3 185.1h0M482.7 189.5h0" stroke="#ea8020" stroke-width="1.10" stroke-linecap="round" fill="none"/>
<path d="M486.4 187.6h0M483.5 189.3h0M489.2 184.2h0M489.6 178.5h0M487.8 182.5h0M484.9 187.2h0M484.4 186.5h0M489.5 182.5h0M488.9 186.9h0M488.6 179.6h0M486.2 191.2h0M489.4 181.4h0M490.3 190.7h0M488.3 181.8h0" stroke="#ea8020" stroke-width="1.00" stroke-linecap="round" fill="none"/>
<path d="M491.0 182.0h0M490.3 185.5h0M488.6 178.0h0M487.4 176.7h0M488.6 175.0h0M484.3 189.3h0M482.2 184.8h0M487.2 177.8h0M482.7 189.2h0M489.3 185.9h0M486.8 192.1h0M492.0 187.6h0M479.2 183.0h0M492.3 186.3h0M491.3 183.5h0M484.5 185.8h0M484.2 192.9h0M480.6 185.5h0M484.8 183.3h0M486.0 186.3h0M487.8 178.9h0M491.3 185.7h0M486.2 178.7h0M489.5 183.3h0M484.4 187.7h0M482.4 183.5h0M485.5 181.2h0M482.7 183.2h0M486.0 178.1h0M492.7 188.5h0M489.6 193.3h0M485.7 187.6h0M490.0 190.3h0M481.9 179.8h0M482.0 178.1h0M488.5 184.3h0M487.8 187.5h0M483.3 184.0h0M486.0 187.0h0M484.4 187.4h0M483.1 186.3h0M485.7 175.3h0M483.2 190.9h0M491.9 182.5h0M488.8 189.4h0M488.4 175.5h0M491.5 180.8h0M488.0 191.5h0" stroke="#ffffff" stroke-width="0.80" stroke-linecap="round" fill="none" stroke-opacity="0.5"/>
<path d="M483.40,162.00 C484.07,161.20 485.80,161.03 487.00,161.20 C488.20,161.37 490.03,161.87 490.60,163.00 C491.17,164.13 490.83,166.62 490.40,168.00 C489.97,169.38 489.07,170.88 488.00,171.30 C486.93,171.72 484.83,171.38 484.00,170.50 C483.17,169.62 483.10,167.42 483.00,166.00 C482.90,164.58 482.73,162.80 483.40,162.00 Z" fill="#909090" fill-opacity="0.35"/>
<path d="M485.5 165.6h0M487.1 165.2h0M487.0 166.5h0M487.1 163.5h0M485.6 168.0h0M489.0 163.2h0M483.1 164.7h0M486.9 163.4h0M484.7 168.4h0M488.2 163.9h0M487.2 163.8h0M485.4 169.4h0M489.0 167.2h0M486.9 170.9h0M487.3 169.4h0M489.2 166.5h0M484.7 167.7h0M486.6 168.2h0M484.4 170.6h0M488.8 164.8h0M483.1 163.0h0M488.7 169.4h0M485.7 169.9h0M483.5 162.5h0M487.4 163.5h0M486.7 168.5h0M483.1 166.0h0M486.0 165.1h0M486.8 162.6h0M486.6 169.0h0" stroke="#6a6a6a" stroke-width="0.90" stroke-linecap="round" fill="none"/>
<path d="M467.00,176.80 C467.85,176.08 470.42,175.83 471.50,176.20 C472.58,176.57 473.38,177.87 473.50,179.00 C473.62,180.13 472.23,181.70 472.20,183.00 C472.17,184.30 473.67,186.00 473.30,186.80 C472.93,187.60 471.02,188.10 470.00,187.80 C468.98,187.50 467.80,186.22 467.20,185.00 C466.60,183.78 466.43,181.87 466.40,180.50 C466.37,179.13 466.15,177.52 467.00,176.80 Z" fill="#e49ad8" fill-opacity="0.54"/>
<path d="M470.2 177.5h0M473.1 178.3h0M467.2 184.1h0M472.5 178.1h0M466.9 182.1h0M471.2 179.8h0M472.0 178.8h0M470.7 179.8h0M467.9 180.4h0M468.3 180.7h0M470.1 177.7h0M468.6 182.7h0M471.3 185.6h0M471.0 181.0h0M471.4 178.2h0M472.4 187.1h0M467.9 185.6h0M469.8 182.3h0M469.9 183.3h0M470.2 176.7h0M469.2 176.9h0M470.3 186.1h0M470.7 182.3h0M470.7 178.6h0M471.2 177.9h0M468.6 185.0h0M472.7 185.9h0M468.3 179.6h0M467.4 183.3h0M471.2 186.2h0" stroke="#e49ad8" stroke-width="1.10" stroke-linecap="round" fill="none"/>
<path d="M467.2 179.5h0M470.3 180.1h0M470.9 178.5h0" stroke="#e49ad8" stroke-width="1.00" stroke-linecap="round" fill="none"/>
<path d="M468.0 179.8h0M467.8 178.3h0M470.2 186.5h0M470.8 178.7h0M471.1 182.6h0M470.1 182.6h0M471.3 185.4h0M470.8 180.5h0M467.1 178.8h0M468.0 177.3h0M469.6 184.5h0M472.6 181.1h0" stroke="#ffffff" stroke-width="0.80" stroke-linecap="round" fill="none" stroke-opacity="0.5"/>
<path d="M492.90,155.00 C493.37,154.22 494.85,153.90 496.00,153.90 C497.15,153.90 499.20,154.18 499.80,155.00 C500.40,155.82 500.23,158.00 499.60,158.80 C498.97,159.60 497.07,159.83 496.00,159.80 C494.93,159.77 493.72,159.40 493.20,158.60 C492.68,157.80 492.43,155.78 492.90,155.00 Z" fill="#62b8a0" fill-opacity="0.7200000000000001"/>
<path d="M493.7 156.7h0M496.9 154.3h0M493.7 158.0h0M498.5 157.3h0M494.4 154.8h0M497.6 155.9h0M496.9 157.2h0M494.5 158.5h0M496.8 155.8h0M494.3 156.2h0M496.9 156.0h0M496.8 157.3h0M497.5 155.8h0M495.3 154.6h0M497.1 155.1h0M493.9 156.0h0M499.3 157.3h0M496.0 156.7h0M495.1 158.8h0M493.8 155.3h0M500.0 157.8h0M495.4 154.4h0M496.8 158.3h0M495.7 155.6h0M496.7 156.8h0" stroke="#62b8a0" stroke-width="1.10" stroke-linecap="round" fill="none"/>
<path d="M495.6 156.4h0M496.5 157.7h0M495.1 156.5h0" stroke="#62b8a0" stroke-width="1.00" stroke-linecap="round" fill="none"/>
<path d="M499.0 157.4h0M494.0 156.3h0M494.8 157.3h0M498.2 159.0h0M497.1 155.7h0M495.4 155.2h0M496.4 159.6h0M496.4 155.5h0M494.8 156.7h0M497.3 155.6h0" stroke="#ffffff" stroke-width="0.80" stroke-linecap="round" fill="none" stroke-opacity="0.5"/>
<path d="M472.40,194.60 C472.95,194.08 474.40,193.37 475.50,193.40 C476.60,193.43 478.58,194.10 479.00,194.80 C479.42,195.50 478.83,197.07 478.00,197.60 C477.17,198.13 474.97,198.18 474.00,198.00 C473.03,197.82 472.47,197.07 472.20,196.50 C471.93,195.93 471.85,195.12 472.40,194.60 Z" fill="#d46cc8" fill-opacity="0.54"/>
<path d="M475.4 194.5h0M472.7 194.7h0M473.5 197.2h0M474.1 195.9h0M477.0 196.8h0M475.1 195.1h0M478.3 194.3h0M473.8 194.2h0M476.7 196.1h0M475.8 197.0h0M472.9 196.0h0M474.7 195.8h0M476.8 195.2h0M477.9 197.6h0" stroke="#d46cc8" stroke-width="1.10" stroke-linecap="round" fill="none"/>
<path d="M475.9 194.8h0" stroke="#d46cc8" stroke-width="1.00" stroke-linecap="round" fill="none"/>
<path d="M473.8 197.7h0M475.8 195.5h0M475.0 197.2h0M475.4 195.3h0M474.7 197.0h0" stroke="#ffffff" stroke-width="0.80" stroke-linecap="round" fill="none" stroke-opacity="0.5"/>
<path d="M472.5 149.5h0M473.5 151.0h0M474.2 149.6h0M471.8 150.8h0" stroke="#8ed0c4" stroke-width="1.10" stroke-linecap="round" fill="none"/>
<path d="M482.5 160.5h0M484.0 160.0h0M483.5 161.3h0M481.8 161.2h0" stroke="#a4d03c" stroke-width="1.20" stroke-linecap="round" fill="none"/>
<path d="M510.2 151.2h0M509.6 152.2h0M510.8 152.5h0" stroke="#e0b27c" stroke-width="1.20" stroke-linecap="round" fill="none"/>
<line x1="503.80" y1="150.50" x2="503.90" y2="153.50" stroke="#888" stroke-width="0.5"/>
<circle cx="469.60" cy="166.70" r="1.90" fill="#e4e4e4" stroke="#5a5a5a" stroke-width="0.5"/>
<circle cx="469.60" cy="166.70" r="0.65" fill="#8a8a8a"/>
<circle cx="485.40" cy="148.10" r="1.90" fill="#e4e4e4" stroke="#5a5a5a" stroke-width="0.5"/>
<circle cx="485.40" cy="148.10" r="0.65" fill="#8a8a8a"/>
<circle cx="497.00" cy="141.80" r="1.90" fill="#e4e4e4" stroke="#5a5a5a" stroke-width="0.5"/>
<circle cx="497.00" cy="141.80" r="0.65" fill="#8a8a8a"/>
<circle cx="503.30" cy="162.30" r="1.90" fill="#e4e4e4" stroke="#5a5a5a" stroke-width="0.5"/>
<circle cx="503.30" cy="162.30" r="0.65" fill="#8a8a8a"/>
<circle cx="496.40" cy="171.90" r="1.90" fill="#e4e4e4" stroke="#5a5a5a" stroke-width="0.5"/>
<circle cx="496.40" cy="171.90" r="0.65" fill="#8a8a8a"/>
<circle cx="485.40" cy="186.00" r="1.90" fill="#e4e4e4" stroke="#5a5a5a" stroke-width="0.5"/>
<circle cx="485.40" cy="186.00" r="0.65" fill="#8a8a8a"/>
<circle cx="486.40" cy="165.90" r="1.90" fill="#e4e4e4" stroke="#5a5a5a" stroke-width="0.5"/>
<circle cx="486.40" cy="165.90" r="0.65" fill="#8a8a8a"/>
<circle cx="469.80" cy="181.30" r="1.90" fill="#e4e4e4" stroke="#5a5a5a" stroke-width="0.5"/>
<circle cx="469.80" cy="181.30" r="0.65" fill="#8a8a8a"/>
<circle cx="495.80" cy="156.40" r="1.90" fill="#e4e4e4" stroke="#5a5a5a" stroke-width="0.5"/>
<circle cx="495.80" cy="156.40" r="0.65" fill="#8a8a8a"/>
<circle cx="473.90" cy="196.30" r="1.90" fill="#e4e4e4" stroke="#5a5a5a" stroke-width="0.5"/>
<circle cx="473.90" cy="196.30" r="0.65" fill="#8a8a8a"/>
<circle cx="503.60" cy="148.90" r="1.90" fill="#e4e4e4" stroke="#5a5a5a" stroke-width="0.5"/>
<circle cx="503.60" cy="148.90" r="0.65" fill="#8a8a8a"/>
<circle cx="510.00" cy="148.10" r="1.90" fill="#e4e4e4" stroke="#5a5a5a" stroke-width="0.5"/>
<circle cx="510.00" cy="148.10" r="0.65" fill="#8a8a8a"/>
<circle cx="469.60" cy="151.30" r="1.90" fill="#e4e4e4" stroke="#5a5a5a" stroke-width="0.5"/>
<circle cx="469.60" cy="151.30" r="0.65" fill="#8a8a8a"/>
<circle cx="480.30" cy="158.20" r="1.90" fill="#e4e4e4" stroke="#5a5a5a" stroke-width="0.5"/>
<circle cx="480.30" cy="158.20" r="0.65" fill="#8a8a8a"/>
<text x="416.60" y="215.50" font-size="8.2" fill="#333" textLength="42.10" lengthAdjust="spacingAndGlyphs">Seurat Score</text>
<rect x="423.60" y="248.12" width="3.24" height="3.28" fill="#d4d4d4"/>
<rect x="423.60" y="244.84" width="3.24" height="3.48" fill="#d3d4d3"/>
<rect x="423.60" y="241.56" width="3.24" height="3.48" fill="#d1d3d0"/>
<rect x="423.60" y="238.28" width="3.24" height="3.48" fill="#cbd0c9"/>
<rect x="423.60" y="235.00" width="3.24" height="3.48" fill="#c2ccbd"/>
<rect x="423.60" y="231.72" width="3.24" height="3.48" fill="#b3c7aa"/>
<rect x="423.60" y="228.44" width="3.24" height="3.48" fill="#9fbe91"/>
<rect x="423.60" y="225.16" width="3.24" height="3.48" fill="#85b470"/>
<rect x="423.60" y="221.88" width="3.24" height="3.48" fill="#64a647"/>
<rect x="423.60" y="218.60" width="3.24" height="3.48" fill="#3c9614"/>
<rect x="426.64" y="248.12" width="3.24" height="3.28" fill="#d4d3d3"/>
<rect x="426.64" y="244.84" width="3.24" height="3.48" fill="#d4d3d3"/>
<rect x="426.64" y="241.56" width="3.24" height="3.48" fill="#d1d2cf"/>
<rect x="426.64" y="238.28" width="3.24" height="3.48" fill="#cbd0c8"/>
<rect x="426.64" y="235.00" width="3.24" height="3.48" fill="#c2ccbc"/>
<rect x="426.64" y="231.72" width="3.24" height="3.48" fill="#b3c6aa"/>
<rect x="426.64" y="228.44" width="3.24" height="3.48" fill="#9fbe91"/>
<rect x="426.64" y="225.16" width="3.24" height="3.48" fill="#85b370"/>
<rect x="426.64" y="221.88" width="3.24" height="3.48" fill="#65a646"/>
<rect x="426.64" y="218.60" width="3.24" height="3.48" fill="#3d9614"/>
<rect x="429.68" y="248.12" width="3.24" height="3.28" fill="#d4d0d0"/>
<rect x="429.68" y="244.84" width="3.24" height="3.48" fill="#d4d0cf"/>
<rect x="429.68" y="241.56" width="3.24" height="3.48" fill="#d1cfcc"/>
<rect x="429.68" y="238.28" width="3.24" height="3.48" fill="#cccdc5"/>
<rect x="429.68" y="235.00" width="3.24" height="3.48" fill="#c2c9b9"/>
<rect x="429.68" y="231.72" width="3.24" height="3.48" fill="#b4c3a7"/>
<rect x="429.68" y="228.44" width="3.24" height="3.48" fill="#a0bc8e"/>
<rect x="429.68" y="225.16" width="3.24" height="3.48" fill="#87b26e"/>
<rect x="429.68" y="221.88" width="3.24" height="3.48" fill="#67a545"/>
<rect x="429.68" y="218.60" width="3.24" height="3.48" fill="#409614"/>
<rect x="432.72" y="248.12" width="3.24" height="3.28" fill="#d5c8c8"/>
<rect x="432.72" y="244.84" width="3.24" height="3.48" fill="#d4c8c8"/>
<rect x="432.72" y="241.56" width="3.24" height="3.48" fill="#d2c7c5"/>
<rect x="432.72" y="238.28" width="3.24" height="3.48" fill="#cdc5be"/>
<rect x="432.72" y="235.00" width="3.24" height="3.48" fill="#c4c2b2"/>
<rect x="432.72" y="231.72" width="3.24" height="3.48" fill="#b6bda1"/>
<rect x="432.72" y="228.44" width="3.24" height="3.48" fill="#a3b789"/>
<rect x="432.72" y="225.16" width="3.24" height="3.48" fill="#8bae6a"/>
<rect x="432.72" y="221.88" width="3.24" height="3.48" fill="#6ca343"/>
<rect x="432.72" y="218.60" width="3.24" height="3.48" fill="#469513"/>
<rect x="435.76" y="248.12" width="3.24" height="3.28" fill="#d6bbbb"/>
<rect x="435.76" y="244.84" width="3.24" height="3.48" fill="#d6bbbb"/>
<rect x="435.76" y="241.56" width="3.24" height="3.48" fill="#d3bbb8"/>
<rect x="435.76" y="238.28" width="3.24" height="3.48" fill="#ceb9b2"/>
<rect x="435.76" y="235.00" width="3.24" height="3.48" fill="#c6b7a7"/>
<rect x="435.76" y="231.72" width="3.24" height="3.48" fill="#b9b397"/>
<rect x="435.76" y="228.44" width="3.24" height="3.48" fill="#a8ae81"/>
<rect x="435.76" y="225.16" width="3.24" height="3.48" fill="#91a764"/>
<rect x="435.76" y="221.88" width="3.24" height="3.48" fill="#759f3f"/>
<rect x="435.76" y="218.60" width="3.24" height="3.48" fill="#529513"/>
<rect x="438.80" y="248.12" width="3.24" height="3.28" fill="#d7a8a8"/>
<rect x="438.80" y="244.84" width="3.24" height="3.48" fill="#d7a8a8"/>
<rect x="438.80" y="241.56" width="3.24" height="3.48" fill="#d5a8a5"/>
<rect x="438.80" y="238.28" width="3.24" height="3.48" fill="#d1a7a0"/>
<rect x="438.80" y="235.00" width="3.24" height="3.48" fill="#c9a696"/>
<rect x="438.80" y="231.72" width="3.24" height="3.48" fill="#bea488"/>
<rect x="438.80" y="228.44" width="3.24" height="3.48" fill="#afa174"/>
<rect x="438.80" y="225.16" width="3.24" height="3.48" fill="#9b9d5a"/>
<rect x="438.80" y="221.88" width="3.24" height="3.48" fill="#829939"/>
<rect x="438.80" y="218.60" width="3.24" height="3.48" fill="#639312"/>
<rect x="441.84" y="248.12" width="3.24" height="3.28" fill="#da8e8e"/>
<rect x="441.84" y="244.84" width="3.24" height="3.48" fill="#d98e8d"/>
<rect x="441.84" y="241.56" width="3.24" height="3.48" fill="#d88e8b"/>
<rect x="441.84" y="238.28" width="3.24" height="3.48" fill="#d48e86"/>
<rect x="441.84" y="235.00" width="3.24" height="3.48" fill="#ce8e7e"/>
<rect x="441.84" y="231.72" width="3.24" height="3.48" fill="#c58f72"/>
<rect x="441.84" y="228.44" width="3.24" height="3.48" fill="#b98f62"/>
<rect x="441.84" y="225.16" width="3.24" height="3.48" fill="#a8904d"/>
<rect x="441.84" y="221.88" width="3.24" height="3.48" fill="#949132"/>
<rect x="441.84" y="218.60" width="3.24" height="3.48" fill="#7b9211"/>
<rect x="444.88" y="248.12" width="3.24" height="3.28" fill="#dc6b6b"/>
<rect x="444.88" y="244.84" width="3.24" height="3.48" fill="#dc6b6b"/>
<rect x="444.88" y="241.56" width="3.24" height="3.48" fill="#db6c69"/>
<rect x="444.88" y="238.28" width="3.24" height="3.48" fill="#d86d66"/>
<rect x="444.88" y="235.00" width="3.24" height="3.48" fill="#d46f60"/>
<rect x="444.88" y="231.72" width="3.24" height="3.48" fill="#ce7357"/>
<rect x="444.88" y="228.44" width="3.24" height="3.48" fill="#c5784b"/>
<rect x="444.88" y="225.16" width="3.24" height="3.48" fill="#ba7e3b"/>
<rect x="444.88" y="221.88" width="3.24" height="3.48" fill="#ab8627"/>
<rect x="444.88" y="218.60" width="3.24" height="3.48" fill="#9a900f"/>
<rect x="447.92" y="248.12" width="3.24" height="3.28" fill="#e03f3f"/>
<rect x="447.92" y="244.84" width="3.24" height="3.48" fill="#e0403f"/>
<rect x="447.92" y="241.56" width="3.24" height="3.48" fill="#df413e"/>
<rect x="447.92" y="238.28" width="3.24" height="3.48" fill="#de443c"/>
<rect x="447.92" y="235.00" width="3.24" height="3.48" fill="#dc4939"/>
<rect x="447.92" y="231.72" width="3.24" height="3.48" fill="#d95034"/>
<rect x="447.92" y="228.44" width="3.24" height="3.48" fill="#d55a2e"/>
<rect x="447.92" y="225.16" width="3.24" height="3.48" fill="#d06825"/>
<rect x="447.92" y="221.88" width="3.24" height="3.48" fill="#c9791a"/>
<rect x="447.92" y="218.60" width="3.24" height="3.48" fill="#c18d0d"/>
<rect x="450.96" y="248.12" width="3.04" height="3.28" fill="#e40a0a"/>
<rect x="450.96" y="244.84" width="3.04" height="3.48" fill="#e40a0a"/>
<rect x="450.96" y="241.56" width="3.04" height="3.48" fill="#e40d0a"/>
<rect x="450.96" y="238.28" width="3.04" height="3.48" fill="#e5110a"/>
<rect x="450.96" y="235.00" width="3.04" height="3.48" fill="#e51a0a"/>
<rect x="450.96" y="231.72" width="3.04" height="3.48" fill="#e7260a"/>
<rect x="450.96" y="228.44" width="3.04" height="3.48" fill="#e8370a"/>
<rect x="450.96" y="225.16" width="3.04" height="3.48" fill="#ea4d0a"/>
<rect x="450.96" y="221.88" width="3.04" height="3.48" fill="#ed680a"/>
<rect x="450.96" y="218.60" width="3.04" height="3.48" fill="#f08a0a"/>
<text x="420.00" y="222.70" font-size="6.2" fill="#555" textLength="5.20" lengthAdjust="spacingAndGlyphs" text-anchor="end">10</text>
<text x="420.00" y="231.20" font-size="6.2" fill="#555" textLength="7.60" lengthAdjust="spacingAndGlyphs" text-anchor="end">7.5</text>
<text x="420.00" y="240.00" font-size="6.2" fill="#555" textLength="7.60" lengthAdjust="spacingAndGlyphs" text-anchor="end">5.0</text>
<text x="420.00" y="248.20" font-size="6.2" fill="#555" textLength="7.60" lengthAdjust="spacingAndGlyphs" text-anchor="end">2.5</text>
<text x="427.80" y="260.30" font-size="5.6" fill="#444" textLength="2.80" lengthAdjust="spacingAndGlyphs" text-anchor="middle">2</text>
<text x="433.60" y="260.30" font-size="5.6" fill="#444" textLength="2.80" lengthAdjust="spacingAndGlyphs" text-anchor="middle">4</text>
<text x="439.80" y="260.30" font-size="5.6" fill="#444" textLength="2.80" lengthAdjust="spacingAndGlyphs" text-anchor="middle">6</text>
<text x="445.20" y="260.30" font-size="5.6" fill="#444" textLength="2.80" lengthAdjust="spacingAndGlyphs" text-anchor="middle">8</text>
<text x="452.20" y="260.30" font-size="5.6" fill="#444" textLength="5.40" lengthAdjust="spacingAndGlyphs" text-anchor="middle">10</text>
<text transform="translate(408.04,234.00) rotate(-90)" x="0" y="0" font-size="7.6" fill="#333" text-anchor="middle" textLength="43.00" lengthAdjust="spacingAndGlyphs" stroke="#333" stroke-width="0.08">TNF/LT Signature</text>
<text x="425.10" y="270.00" font-size="7.2" fill="#333" textLength="27.10" lengthAdjust="spacingAndGlyphs">FL derived</text>
<text x="420.50" y="279.40" font-size="7.2" fill="#333" textLength="36.30" lengthAdjust="spacingAndGlyphs">EVs Signature</text>
<text x="387.00" y="299.60" font-size="6.4" fill="#8c64c0" textLength="12.20" lengthAdjust="spacingAndGlyphs" stroke="#8c64c0" stroke-width="0.15">LEPR</text>
<text x="399.40" y="296.40" font-size="4.2" fill="#8c64c0">+</text>
<text x="387.00" y="332.20" font-size="6.4" fill="#5f82cc" textLength="16.40" lengthAdjust="spacingAndGlyphs" stroke="#5f82cc" stroke-width="0.15">COL2.3</text>
<text x="403.60" y="329.00" font-size="4.2" fill="#5f82cc">+</text>
<text x="387.00" y="305.80" font-size="6.2" fill="#4a4a4a" textLength="6.20" lengthAdjust="spacingAndGlyphs">P1</text>
<circle cx="399.70" cy="303.60" r="2.20" fill="#c41818" stroke="#00000040" stroke-width="0.5"/>
<text x="405.20" y="305.70" font-size="6.0" fill="#444" font-style="italic" textLength="16.80" lengthAdjust="spacingAndGlyphs"><tspan>Mgp</tspan><tspan font-size="3.72" dy="-2.2">high</tspan><tspan dy="2.2"> </tspan></text>
<text x="387.00" y="311.20" font-size="6.2" fill="#4a4a4a" textLength="6.20" lengthAdjust="spacingAndGlyphs">P2</text>
<circle cx="399.70" cy="309.00" r="2.20" fill="#44a044" stroke="#00000040" stroke-width="0.5"/>
<text x="405.20" y="311.10" font-size="6.0" fill="#444" font-style="italic" textLength="15.30" lengthAdjust="spacingAndGlyphs"><tspan>Lpl</tspan><tspan font-size="3.72" dy="-2.2">high</tspan><tspan dy="2.2"> </tspan></text>
<text x="387.00" y="317.60" font-size="6.2" fill="#4a4a4a" textLength="6.20" lengthAdjust="spacingAndGlyphs">P3</text>
<circle cx="399.70" cy="315.40" r="2.20" fill="#7e4432" stroke="#00000040" stroke-width="0.5"/>
<text x="405.20" y="317.50" font-size="6.0" fill="#444" font-style="italic" textLength="18.80" lengthAdjust="spacingAndGlyphs"><tspan>Wif1</tspan><tspan font-size="3.72" dy="-2.2">high</tspan><tspan dy="2.2"> </tspan></text>
<text x="387.00" y="323.60" font-size="6.2" fill="#4a4a4a" textLength="6.20" lengthAdjust="spacingAndGlyphs">P4</text>
<circle cx="399.70" cy="321.40" r="2.20" fill="#d478c8" stroke="#00000040" stroke-width="0.5"/>
<text x="405.20" y="323.50" font-size="6.0" fill="#444" font-style="italic" textLength="39.30" lengthAdjust="spacingAndGlyphs"><tspan>Spp1</tspan><tspan font-size="3.72" dy="-2.2">high</tspan><tspan dy="2.2"> </tspan><tspan>Ibsp</tspan><tspan font-size="3.72" dy="-2.2">high</tspan><tspan dy="2.2"> </tspan></text>
<text x="387.00" y="338.70" font-size="6.2" fill="#4a4a4a" textLength="6.20" lengthAdjust="spacingAndGlyphs">O1</text>
<circle cx="399.70" cy="336.50" r="2.20" fill="#6a6a6a" stroke="#00000040" stroke-width="0.5"/>
<text x="405.20" y="338.60" font-size="6.0" fill="#444" font-style="italic" textLength="45.80" lengthAdjust="spacingAndGlyphs"><tspan>Col16a1</tspan><tspan font-size="3.72" dy="-2.2">high</tspan><tspan dy="2.2"> </tspan><tspan>Tnn</tspan><tspan font-size="3.72" dy="-2.2">high</tspan><tspan dy="2.2"> </tspan></text>
<text x="387.00" y="344.40" font-size="6.2" fill="#4a4a4a" textLength="6.20" lengthAdjust="spacingAndGlyphs">O2</text>
<circle cx="399.70" cy="342.20" r="2.20" fill="#34946a" stroke="#00000040" stroke-width="0.5"/>
<text x="405.20" y="344.30" font-size="6.0" fill="#444" font-style="italic" textLength="37.90" lengthAdjust="spacingAndGlyphs"><tspan>Fbn1</tspan><tspan font-size="3.72" dy="-2.2">high</tspan><tspan dy="2.2"> </tspan><tspan>Igf1</tspan><tspan font-size="3.72" dy="-2.2">high</tspan><tspan dy="2.2"> </tspan></text>
<text x="387.00" y="350.80" font-size="6.2" fill="#4a4a4a" textLength="6.20" lengthAdjust="spacingAndGlyphs">O3</text>
<circle cx="399.70" cy="348.60" r="2.20" fill="#b8b424" stroke="#00000040" stroke-width="0.5"/>
<text x="405.20" y="350.70" font-size="6.0" fill="#444" font-style="italic" textLength="41.70" lengthAdjust="spacingAndGlyphs"><tspan>Bglap</tspan><tspan font-size="3.72" dy="-2.2">high</tspan><tspan dy="2.2"> </tspan><tspan>Car3</tspan><tspan font-size="3.72" dy="-2.2">high</tspan><tspan dy="2.2"> </tspan></text>
<text x="387.00" y="359.90" font-size="6.2" fill="#4a4a4a" textLength="3.80" lengthAdjust="spacingAndGlyphs">C</text>
<circle cx="399.70" cy="357.70" r="2.20" fill="#d0108a" stroke="#00000040" stroke-width="0.5"/>
<text x="405.20" y="359.80" font-size="6.0" fill="#444" textLength="16.80" lengthAdjust="spacingAndGlyphs">Cycling</text>
<path d="M463.40,326.00 C463.45,323.85 464.82,319.50 466.50,316.50 C468.18,313.50 470.50,310.25 473.50,308.00 C476.50,305.75 480.93,304.47 484.50,303.00 C488.07,301.53 491.62,299.93 494.90,299.20 C498.18,298.47 501.48,298.30 504.20,298.60 C506.92,298.90 509.77,299.60 511.20,301.00 C512.63,302.40 513.02,305.07 512.80,307.00 C512.58,308.93 511.53,311.30 509.90,312.60 C508.27,313.90 505.32,314.63 503.00,314.80 C500.68,314.97 498.00,314.70 496.00,313.60 C494.00,312.50 493.00,309.23 491.00,308.20 C489.00,307.17 486.17,307.02 484.00,307.40 C481.83,307.78 479.83,309.07 478.00,310.50 C476.17,311.93 474.33,314.17 473.00,316.00 C471.67,317.83 470.70,319.58 470.00,321.50 C469.30,323.42 469.43,326.18 468.80,327.50 C468.17,328.82 467.10,329.65 466.20,329.40 C465.30,329.15 463.35,328.15 463.40,326.00 Z" fill="none" stroke="#6f86c8" stroke-width="0.8" stroke-dasharray="0.7 1.2" stroke-linecap="round"/>
<path d="M484.00,309.00 C484.87,307.27 486.25,306.07 488.00,305.60 C489.75,305.13 492.80,305.38 494.50,306.20 C496.20,307.02 497.78,308.87 498.20,310.50 C498.62,312.13 496.62,314.67 497.00,316.00 C497.38,317.33 499.17,318.08 500.50,318.50 C501.83,318.92 504.00,317.58 505.00,318.50 C506.00,319.42 506.70,321.92 506.50,324.00 C506.30,326.08 504.30,328.33 503.80,331.00 C503.30,333.67 503.77,337.25 503.50,340.00 C503.23,342.75 503.28,345.20 502.20,347.50 C501.12,349.80 499.37,352.75 497.00,353.80 C494.63,354.85 491.00,354.30 488.00,353.80 C485.00,353.30 481.58,351.77 479.00,350.80 C476.42,349.83 474.10,349.63 472.50,348.00 C470.90,346.37 469.68,343.58 469.40,341.00 C469.12,338.42 469.70,334.58 470.80,332.50 C471.90,330.42 474.38,329.88 476.00,328.50 C477.62,327.12 479.37,326.28 480.50,324.20 C481.63,322.12 482.22,318.53 482.80,316.00 C483.38,313.47 483.13,310.73 484.00,309.00 Z" fill="none" stroke="#8a72c6" stroke-width="0.8" stroke-dasharray="0.7 1.2" stroke-linecap="round"/>
<path d="M499.00,301.80 C499.18,301.22 500.93,300.53 501.80,300.60 C502.67,300.67 503.23,301.73 504.20,302.20 C505.17,302.67 506.83,302.70 507.60,303.40 C508.37,304.10 508.98,305.42 508.80,306.40 C508.62,307.38 507.47,308.72 506.50,309.30 C505.53,309.88 503.87,310.18 503.00,309.90 C502.13,309.62 501.68,308.57 501.30,307.60 C500.92,306.63 501.08,305.07 500.70,304.10 C500.32,303.13 498.82,302.38 499.00,301.80 Z" fill="#b8b424" fill-opacity="0.8"/>
<path d="M503.9 305.5h0M501.9 307.1h0M503.2 304.0h0M507.6 306.8h0M503.2 301.7h0M504.9 307.5h0M505.9 303.1h0M503.1 301.7h0M501.1 306.3h0M503.6 304.6h0M502.7 301.2h0M505.4 304.3h0M501.1 304.0h0M506.8 305.1h0M506.1 308.5h0M504.3 304.4h0M501.3 301.7h0M502.5 301.8h0M501.1 302.9h0M504.6 307.5h0M500.7 301.5h0M503.5 307.7h0M504.0 309.4h0M505.8 306.3h0M502.2 307.0h0M506.6 305.7h0M502.3 306.3h0M503.0 303.0h0M504.3 305.3h0M503.2 302.5h0M504.6 303.3h0M504.1 301.8h0M503.1 306.3h0M505.3 304.2h0M505.0 308.4h0M503.6 303.6h0M502.8 307.9h0M508.3 305.8h0M504.8 303.1h0M505.8 306.1h0" stroke="#b8b424" stroke-width="1.10" stroke-linecap="round" fill="none"/>
<path d="M486.00,310.00 C486.65,309.13 488.25,308.80 489.50,308.80 C490.75,308.80 492.60,309.22 493.50,310.00 C494.40,310.78 494.90,312.25 494.90,313.50 C494.90,314.75 494.32,316.55 493.50,317.50 C492.68,318.45 491.17,319.12 490.00,319.20 C488.83,319.28 487.23,318.87 486.50,318.00 C485.77,317.13 485.68,315.33 485.60,314.00 C485.52,312.67 485.35,310.87 486.00,310.00 Z" fill="#d884d0" fill-opacity="0.85"/>
<path d="M489.7 318.4h0M486.2 313.7h0M488.9 315.1h0M485.9 314.3h0M489.0 313.5h0M488.2 313.0h0M486.9 316.2h0M487.3 312.1h0M492.9 312.4h0M488.7 312.7h0M490.2 312.2h0M491.5 309.8h0M490.4 312.2h0M489.3 316.6h0M490.8 317.6h0M488.0 313.2h0M487.5 317.3h0M492.9 313.9h0M491.8 310.0h0M488.6 308.7h0M490.5 309.9h0M490.6 311.3h0M490.8 310.2h0M490.4 314.2h0M492.4 316.7h0M492.5 312.8h0M490.7 314.4h0M493.9 315.5h0M492.5 315.8h0M487.0 315.7h0M491.6 310.6h0M494.4 312.0h0M492.6 310.2h0M493.5 316.1h0M490.8 311.6h0M494.6 314.3h0M489.9 316.3h0M488.4 312.2h0M493.8 311.6h0M488.7 309.8h0" stroke="#d070c4" stroke-width="1.10" stroke-linecap="round" fill="none"/>
<path d="M471.50,313.50 C472.12,312.70 473.67,312.35 475.00,312.20 C476.33,312.05 478.57,312.05 479.50,312.60 C480.43,313.15 480.77,314.50 480.60,315.50 C480.43,316.50 479.60,317.98 478.50,318.60 C477.40,319.22 475.20,319.47 474.00,319.20 C472.80,318.93 471.72,317.95 471.30,317.00 C470.88,316.05 470.88,314.30 471.50,313.50 Z" fill="#9a9a9a" fill-opacity="0.45"/>
<path d="M475.7 314.1h0M472.3 317.5h0M472.2 316.3h0M473.5 318.0h0M474.4 316.8h0M473.1 316.6h0M475.9 313.6h0M474.6 314.5h0M476.2 318.4h0M474.8 315.4h0M474.9 312.7h0M477.7 316.1h0M475.6 317.4h0M474.5 315.3h0M474.2 312.9h0M478.7 313.4h0M471.8 315.3h0M473.8 317.6h0M476.9 316.0h0M476.9 315.3h0M475.9 315.6h0M476.0 313.2h0M475.1 318.7h0M476.5 314.8h0M474.3 315.1h0M478.8 315.0h0M477.0 313.6h0M479.1 313.3h0M473.6 315.3h0M471.3 316.7h0M474.1 318.0h0M478.1 316.9h0M474.9 313.5h0M476.8 317.8h0M477.5 316.2h0" stroke="#6e6e6e" stroke-width="1.00" stroke-linecap="round" fill="none"/>
<path d="M466.00,324.50 C466.35,323.70 467.53,322.35 468.50,322.00 C469.47,321.65 471.22,321.82 471.80,322.40 C472.38,322.98 472.38,324.67 472.00,325.50 C471.62,326.33 470.43,327.18 469.50,327.40 C468.57,327.62 466.98,327.28 466.40,326.80 C465.82,326.32 465.65,325.30 466.00,324.50 Z" fill="#3a9a70" fill-opacity="0.85"/>
<path d="M468.5 325.7h0M470.3 326.2h0M471.2 325.8h0M468.9 326.0h0M469.7 323.5h0M470.7 324.5h0M469.2 324.1h0M469.1 323.0h0M467.7 325.6h0M471.1 323.3h0M467.7 325.4h0M471.9 325.5h0M467.5 327.2h0M467.6 326.6h0M468.3 324.6h0M468.7 325.9h0" stroke="#2e8a60" stroke-width="1.00" stroke-linecap="round" fill="none"/>
<path d="M490.00,318.20 C491.08,317.72 492.27,318.05 493.00,318.60 C493.73,319.15 494.57,320.43 494.40,321.50 C494.23,322.57 493.07,323.83 492.00,325.00 C490.93,326.17 489.33,327.70 488.00,328.50 C486.67,329.30 485.17,329.72 484.00,329.80 C482.83,329.88 481.25,329.72 481.00,329.00 C480.75,328.28 481.58,326.75 482.50,325.50 C483.42,324.25 485.25,322.72 486.50,321.50 C487.75,320.28 488.92,318.68 490.00,318.20 Z" fill="#8a5040" fill-opacity="0.75"/>
<path d="M486.7 321.3h0M487.9 325.0h0M492.8 318.9h0M489.9 325.5h0M488.2 327.6h0M488.8 323.1h0M489.1 322.9h0M491.4 321.6h0M485.0 328.4h0M483.0 327.7h0M484.3 325.0h0M490.9 325.7h0M485.0 323.0h0M491.0 322.8h0M488.9 323.4h0M487.5 324.1h0M487.7 325.8h0M483.3 327.4h0M483.4 326.4h0M484.3 328.0h0M490.2 323.7h0M487.4 321.7h0M491.2 322.9h0M490.5 318.4h0M490.2 319.6h0M491.1 325.1h0M488.4 322.6h0M483.2 328.2h0M490.6 323.5h0M483.7 325.4h0M487.6 325.9h0M484.8 325.2h0M489.7 319.2h0M483.7 324.7h0M491.0 325.3h0M481.0 328.1h0M483.1 329.5h0M484.1 328.0h0M483.6 325.6h0M489.0 327.7h0" stroke="#7a3e30" stroke-width="1.00" stroke-linecap="round" fill="none"/>
<path d="M486.1 324.7h0M482.6 326.4h0M482.0 328.6h0M486.9 324.7h0M489.7 319.1h0M487.6 326.7h0M489.4 326.8h0M490.7 319.0h0M490.0 322.2h0M484.6 326.2h0" stroke="#d0b0a8" stroke-width="0.90" stroke-linecap="round" fill="none"/>
<path d="M475.30,331.30 C476.55,329.85 479.18,330.40 481.10,330.10 C483.02,329.80 485.75,328.63 486.80,329.50 C487.85,330.37 487.58,333.37 487.40,335.30 C487.22,337.23 486.37,339.37 485.70,341.10 C485.03,342.83 484.55,344.65 483.40,345.70 C482.25,346.75 480.33,347.40 478.80,347.40 C477.27,347.40 475.07,347.13 474.20,345.70 C473.33,344.27 473.42,341.20 473.60,338.80 C473.78,336.40 474.05,332.75 475.30,331.30 Z" fill="#cc2a2a" fill-opacity="0.92"/>
<path d="M474.6 337.6h0M476.7 344.7h0M486.2 338.4h0M484.3 330.9h0M483.3 337.7h0M478.6 344.8h0M486.9 333.5h0M478.0 335.4h0M484.4 337.1h0M479.9 336.6h0M474.7 344.8h0M479.4 335.7h0M476.3 345.4h0M477.2 345.4h0M474.2 339.0h0M485.7 335.4h0M475.3 336.8h0M483.1 342.4h0M481.4 331.6h0M481.9 330.6h0M484.7 331.0h0M476.5 331.7h0M477.3 330.7h0M476.1 333.5h0M475.8 336.3h0M481.4 332.3h0M480.6 339.6h0M485.7 331.8h0M474.5 342.5h0M485.3 341.3h0M485.6 336.7h0M484.9 336.7h0M475.1 335.6h0M477.0 339.2h0M483.8 332.6h0M478.3 342.5h0M485.5 342.0h0M479.7 343.8h0M484.1 338.9h0M486.0 337.5h0M486.5 332.0h0M484.7 341.7h0M480.4 344.9h0M487.3 334.6h0M474.0 340.9h0M480.5 333.0h0M477.5 339.5h0M477.6 332.5h0M476.6 344.7h0M479.7 345.5h0M480.5 340.5h0M477.3 343.7h0M478.1 331.9h0M486.2 331.8h0M482.4 337.4h0M476.3 338.4h0M475.7 339.5h0M486.0 332.6h0M486.0 330.2h0M479.9 345.0h0M477.6 346.7h0M477.1 334.8h0M487.6 332.3h0M479.4 343.8h0M480.0 331.8h0M483.9 339.4h0M480.4 336.8h0M479.0 337.9h0M483.1 332.9h0M481.6 337.2h0M478.8 334.3h0M482.7 338.2h0M474.5 344.1h0M482.4 332.9h0M485.1 339.7h0M482.9 334.8h0M475.6 340.2h0M477.2 333.9h0M484.0 336.0h0M478.9 338.9h0M486.1 330.8h0M483.3 341.9h0M486.2 334.5h0M485.6 333.7h0M481.2 336.5h0M482.9 338.7h0M486.3 338.7h0M479.0 339.3h0M477.2 337.4h0M478.5 336.8h0" stroke="#c01818" stroke-width="1.10" stroke-linecap="round" fill="none"/>
<path d="M475.5 339.0h0M481.9 330.3h0M477.9 337.6h0M481.2 332.5h0M482.4 336.3h0M483.4 331.5h0M479.2 333.0h0M482.9 335.2h0M485.0 332.8h0M475.8 343.4h0M474.9 335.9h0M480.1 334.2h0M484.5 335.3h0M477.5 338.5h0M483.1 341.0h0M476.9 335.8h0M478.1 344.8h0M484.3 334.0h0M483.0 338.5h0M484.6 342.9h0" stroke="#e8a0a0" stroke-width="0.80" stroke-linecap="round" fill="none"/>
<path d="M487.40,329.50 C488.55,327.87 490.97,328.62 492.60,329.00 C494.23,329.38 495.95,330.37 497.20,331.80 C498.45,333.23 499.72,335.67 500.10,337.60 C500.48,339.53 500.17,341.67 499.50,343.40 C498.83,345.13 497.63,347.13 496.10,348.00 C494.57,348.87 492.03,348.98 490.30,348.60 C488.57,348.22 486.47,347.33 485.70,345.70 C484.93,344.07 485.42,341.50 485.70,338.80 C485.98,336.10 486.25,331.13 487.40,329.50 Z" fill="#dce8d6" fill-opacity="0.6"/>
<path d="M487.1 344.0h0M498.7 336.9h0M488.7 329.9h0M492.3 331.6h0M492.0 346.3h0M498.9 343.5h0M497.7 341.7h0M485.7 336.3h0M490.2 329.1h0M494.1 343.5h0M494.1 332.0h0M495.3 347.8h0M500.3 336.4h0M492.1 338.9h0M490.0 340.0h0M497.0 344.9h0M495.6 338.3h0M496.0 341.9h0M495.1 338.5h0M496.0 333.9h0M490.4 347.2h0M498.0 345.6h0M493.8 342.6h0M488.6 345.4h0M497.0 334.8h0M492.5 342.1h0M494.5 333.8h0M489.8 329.1h0M487.1 334.8h0M486.7 344.2h0M495.7 337.3h0M494.5 339.6h0M494.8 330.9h0M490.5 336.9h0M497.7 339.0h0M488.7 347.6h0M494.2 339.3h0M498.7 339.8h0M488.2 344.3h0M494.7 336.4h0M498.5 339.9h0M495.0 335.3h0M493.4 336.5h0M486.5 339.9h0M486.7 342.6h0M487.5 334.0h0M496.5 339.8h0M489.8 340.1h0M487.9 335.4h0M489.7 338.6h0M489.2 338.9h0M497.0 332.4h0M495.9 331.8h0M486.5 343.7h0M487.8 343.2h0M494.6 330.9h0M499.3 341.4h0M486.7 345.8h0M493.2 339.9h0M490.6 336.2h0M487.0 332.8h0M492.2 345.4h0M496.7 346.0h0M489.7 342.0h0M494.3 336.6h0M494.5 337.1h0M487.6 340.2h0M498.0 341.9h0M499.7 337.5h0M491.4 335.4h0M487.4 343.6h0M488.1 341.2h0M488.3 345.6h0M487.6 337.0h0M498.3 343.2h0M489.9 335.5h0M492.8 347.9h0M496.8 345.0h0M497.3 337.6h0M490.1 339.3h0M500.2 337.9h0M493.3 335.1h0M490.3 336.5h0M488.7 333.6h0M499.1 335.7h0M491.8 343.5h0M489.8 329.7h0M490.3 338.0h0M492.5 336.4h0M494.5 334.0h0M488.7 342.0h0M496.7 340.6h0M489.0 344.0h0M492.3 337.8h0M488.0 335.1h0M492.4 341.4h0M495.2 344.2h0M490.7 334.0h0M496.2 334.7h0M495.5 337.1h0M490.7 335.6h0M493.9 333.4h0M489.9 341.3h0M493.2 337.6h0M493.2 331.1h0M495.9 344.4h0M496.7 333.1h0M490.4 345.9h0M491.1 344.7h0M485.2 342.3h0M491.6 346.0h0M493.4 338.0h0M498.0 341.0h0M488.2 329.8h0M488.2 334.1h0M492.6 337.7h0M495.7 333.7h0M490.9 343.4h0M487.2 336.8h0M491.0 342.8h0" stroke="#3c9c3c" stroke-width="1.10" stroke-linecap="round" fill="none"/>
<path d="M491.1 339.4h0M494.7 344.0h0M487.5 337.4h0M496.8 333.6h0M491.0 329.8h0M493.2 346.5h0M497.0 345.1h0M498.4 339.1h0M486.8 346.3h0M493.5 341.2h0M487.5 332.5h0M485.9 339.7h0M489.5 342.5h0M491.9 333.6h0" stroke="#e6c0c0" stroke-width="0.90" stroke-linecap="round" fill="none"/>
<path d="M488.2 341.9h0M498.0 335.2h0M495.4 332.9h0M493.7 347.4h0M490.0 347.2h0M487.6 342.5h0M487.1 337.7h0M492.0 343.7h0M486.2 344.5h0M494.1 336.0h0M487.2 336.6h0M496.3 343.5h0M491.3 338.6h0M496.1 333.5h0" stroke="#3c9c3c" stroke-width="1.00" stroke-linecap="round" fill="none"/>
<path d="M497.8 324.4h0M507.0 322.3h0M503.2 325.9h0M505.3 320.5h0M503.9 321.4h0M501.3 323.9h0M503.5 324.6h0M506.1 320.5h0M505.7 325.4h0M501.2 320.4h0M507.9 322.7h0M505.1 326.0h0M503.6 327.7h0M502.1 324.0h0" stroke="#d0108a" stroke-width="1.10" stroke-linecap="round" fill="none"/>
<path d="M504.4 326.6h0M503.5 321.5h0M500.6 326.5h0M497.6 321.4h0M500.6 321.9h0M503.1 325.7h0M499.9 323.2h0M498.9 326.5h0M503.5 323.1h0M507.4 322.1h0" stroke="#50b0a0" stroke-width="0.90" stroke-linecap="round" fill="none"/>
<path d="M492.5 351.5h0M493.5 352.3h0M494.2 351.2h0" stroke="#3c9c3c" stroke-width="1.20" stroke-linecap="round" fill="none"/>
<text x="465.00" y="304.20" font-size="4.6" fill="#4a6cc0" textLength="13.00" lengthAdjust="spacingAndGlyphs" font-weight="bold">COL2.3</text>
<text x="478.40" y="302.00" font-size="3.4" fill="#4a6cc0">+</text>
<text x="499.00" y="318.60" font-size="5.0" fill="#40a898" textLength="13.60" lengthAdjust="spacingAndGlyphs" stroke="#40a898" stroke-width="0.1">Cycling</text>
<text x="468.30" y="355.30" font-size="4.6" fill="#7a5cc0" textLength="11.40" lengthAdjust="spacingAndGlyphs" font-weight="bold">LEPR</text>
<text x="480.30" y="352.80" font-size="3.4" fill="#7a5cc0">+</text>
<path d="M496.20,321.00 C496.73,320.20 497.87,319.63 499.00,319.40 C500.13,319.17 501.75,319.63 503.00,319.60 C504.25,319.57 505.42,318.97 506.50,319.20 C507.58,319.43 509.12,320.03 509.50,321.00 C509.88,321.97 509.47,323.90 508.80,325.00 C508.13,326.10 506.72,327.00 505.50,327.60 C504.28,328.20 502.83,328.67 501.50,328.60 C500.17,328.53 498.45,327.93 497.50,327.20 C496.55,326.47 496.02,325.23 495.80,324.20 C495.58,323.17 495.67,321.80 496.20,321.00 Z" fill="none" stroke="#50b8a8" stroke-width="0.5" stroke-dasharray="0.6 0.9" stroke-linecap="round"/>
<rect x="0" y="0" width="520" height="1.1" fill="#000"/><rect x="0" y="0" width="1.1" height="518" fill="#000"/><rect x="518.9" y="0" width="1.1" height="518" fill="#000"/><rect x="0" y="516.8" width="520" height="1.2" fill="#000"/>
</svg>
</body></html>
